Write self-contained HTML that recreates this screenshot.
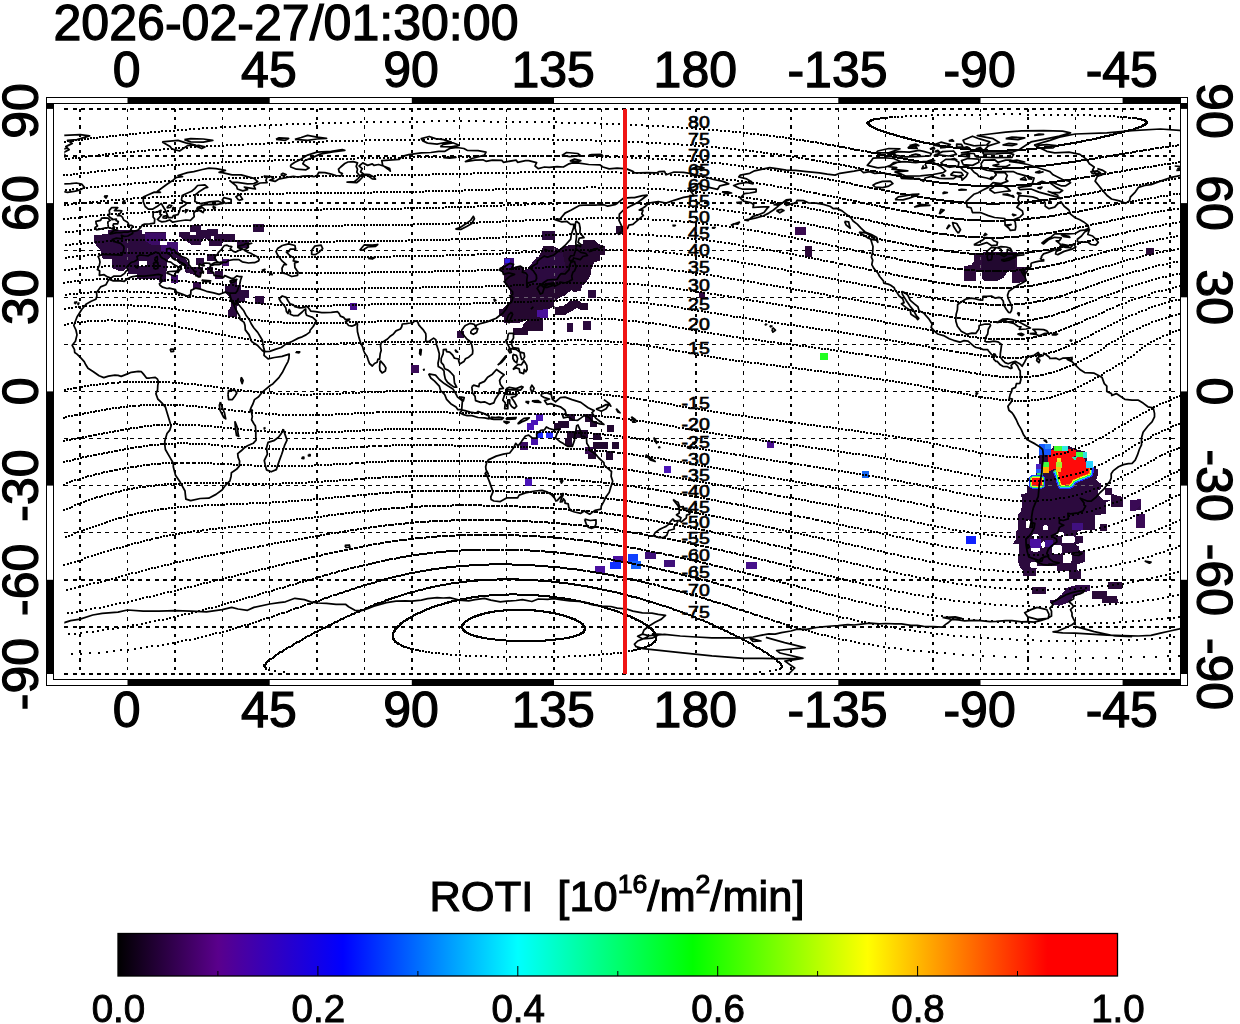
<!DOCTYPE html>
<html><head><meta charset="utf-8"><title>ROTI map 2026-02-27 01:30:00</title>
<style>html,body{margin:0;padding:0;background:#fff;}body{width:1240px;height:1024px;overflow:hidden;font-family:"Liberation Sans",sans-serif;}svg{display:block}</style>
</head><body>
<svg width="1240" height="1024" viewBox="0 0 1240 1024" font-family="Liberation Sans, sans-serif" fill="#000">
<rect x="0" y="0" width="1240" height="1024" fill="#fff"/>
<text x="53.5" y="40.0" font-size="50" text-anchor="start" textLength="465" lengthAdjust="spacingAndGlyphs" stroke="#000" stroke-width="1.25" >2026-02-27/01:30:00</text>
<text x="126.7" y="87.2" font-size="50" text-anchor="middle" stroke="#000" stroke-width="1.25" >0</text>
<text x="126.7" y="727.2" font-size="50" text-anchor="middle" stroke="#000" stroke-width="1.25" >0</text>
<text x="268.9" y="87.2" font-size="50" text-anchor="middle" stroke="#000" stroke-width="1.25" >45</text>
<text x="268.9" y="727.2" font-size="50" text-anchor="middle" stroke="#000" stroke-width="1.25" >45</text>
<text x="411.0" y="87.2" font-size="50" text-anchor="middle" stroke="#000" stroke-width="1.25" >90</text>
<text x="411.0" y="727.2" font-size="50" text-anchor="middle" stroke="#000" stroke-width="1.25" >90</text>
<text x="553.2" y="87.2" font-size="50" text-anchor="middle" stroke="#000" stroke-width="1.25" >135</text>
<text x="553.2" y="727.2" font-size="50" text-anchor="middle" stroke="#000" stroke-width="1.25" >135</text>
<text x="695.3" y="87.2" font-size="50" text-anchor="middle" stroke="#000" stroke-width="1.25" >180</text>
<text x="695.3" y="727.2" font-size="50" text-anchor="middle" stroke="#000" stroke-width="1.25" >180</text>
<text x="837.5" y="87.2" font-size="50" text-anchor="middle" stroke="#000" stroke-width="1.25" >-135</text>
<text x="837.5" y="727.2" font-size="50" text-anchor="middle" stroke="#000" stroke-width="1.25" >-135</text>
<text x="979.6" y="87.2" font-size="50" text-anchor="middle" stroke="#000" stroke-width="1.25" >-90</text>
<text x="979.6" y="727.2" font-size="50" text-anchor="middle" stroke="#000" stroke-width="1.25" >-90</text>
<text x="1121.8" y="87.2" font-size="50" text-anchor="middle" stroke="#000" stroke-width="1.25" >-45</text>
<text x="1121.8" y="727.2" font-size="50" text-anchor="middle" stroke="#000" stroke-width="1.25" >-45</text>
<text transform="translate(37.5,110.9) rotate(-90)" font-size="50" text-anchor="middle" stroke="#000" stroke-width="1.25">90</text>
<text transform="translate(1196.6,110.9) rotate(90)" font-size="50" text-anchor="middle" stroke="#000" stroke-width="1.25">90</text>
<text transform="translate(37.5,203.1) rotate(-90)" font-size="50" text-anchor="middle" stroke="#000" stroke-width="1.25">60</text>
<text transform="translate(1196.6,203.1) rotate(90)" font-size="50" text-anchor="middle" stroke="#000" stroke-width="1.25">60</text>
<text transform="translate(37.5,297.3) rotate(-90)" font-size="50" text-anchor="middle" stroke="#000" stroke-width="1.25">30</text>
<text transform="translate(1196.6,297.3) rotate(90)" font-size="50" text-anchor="middle" stroke="#000" stroke-width="1.25">30</text>
<text transform="translate(37.5,391.4) rotate(-90)" font-size="50" text-anchor="middle" stroke="#000" stroke-width="1.25">0</text>
<text transform="translate(1196.6,391.4) rotate(90)" font-size="50" text-anchor="middle" stroke="#000" stroke-width="1.25">0</text>
<text transform="translate(37.5,485.6) rotate(-90)" font-size="50" text-anchor="middle" stroke="#000" stroke-width="1.25">-30</text>
<text transform="translate(1196.6,485.6) rotate(90)" font-size="50" text-anchor="middle" stroke="#000" stroke-width="1.25">-30</text>
<text transform="translate(37.5,579.8) rotate(-90)" font-size="50" text-anchor="middle" stroke="#000" stroke-width="1.25">-60</text>
<text transform="translate(1196.6,579.8) rotate(90)" font-size="50" text-anchor="middle" stroke="#000" stroke-width="1.25">-60</text>
<text transform="translate(37.5,674.0) rotate(-90)" font-size="50" text-anchor="middle" stroke="#000" stroke-width="1.25">-90</text>
<text transform="translate(1196.6,674.0) rotate(90)" font-size="50" text-anchor="middle" stroke="#000" stroke-width="1.25">-90</text>
<defs><clipPath id="mc"><rect x="53.5" y="103.5" width="1127.0" height="576.0"/></clipPath></defs><g clip-path="url(#mc)">
<g stroke="#000" stroke-width="1.4" fill="none" stroke-dasharray="3.2 5" shape-rendering="crispEdges">
<line x1="80.1" x2="80.1" y1="108.9" y2="674.0"/>
<line x1="127.5" x2="127.5" y1="108.9" y2="674.0"/>
<line x1="174.9" x2="174.9" y1="108.9" y2="674.0"/>
<line x1="222.3" x2="222.3" y1="108.9" y2="674.0"/>
<line x1="269.7" x2="269.7" y1="108.9" y2="674.0"/>
<line x1="317.0" x2="317.0" y1="108.9" y2="674.0"/>
<line x1="364.4" x2="364.4" y1="108.9" y2="674.0"/>
<line x1="411.8" x2="411.8" y1="108.9" y2="674.0"/>
<line x1="459.2" x2="459.2" y1="108.9" y2="674.0"/>
<line x1="506.6" x2="506.6" y1="108.9" y2="674.0"/>
<line x1="554.0" x2="554.0" y1="108.9" y2="674.0"/>
<line x1="601.3" x2="601.3" y1="108.9" y2="674.0"/>
<line x1="648.7" x2="648.7" y1="108.9" y2="674.0"/>
<line x1="696.1" x2="696.1" y1="108.9" y2="674.0"/>
<line x1="743.5" x2="743.5" y1="108.9" y2="674.0"/>
<line x1="790.9" x2="790.9" y1="108.9" y2="674.0"/>
<line x1="838.3" x2="838.3" y1="108.9" y2="674.0"/>
<line x1="885.7" x2="885.7" y1="108.9" y2="674.0"/>
<line x1="933.0" x2="933.0" y1="108.9" y2="674.0"/>
<line x1="980.4" x2="980.4" y1="108.9" y2="674.0"/>
<line x1="1027.8" x2="1027.8" y1="108.9" y2="674.0"/>
<line x1="1075.2" x2="1075.2" y1="108.9" y2="674.0"/>
<line x1="1122.6" x2="1122.6" y1="108.9" y2="674.0"/>
<line x1="1170.0" x2="1170.0" y1="108.9" y2="674.0"/>
</g><g stroke="#000" stroke-width="1.4" fill="none" stroke-dasharray="4 4.2" shape-rendering="crispEdges">
<line x1="64.3" x2="1180.5" y1="674.0" y2="674.0"/>
<line x1="64.3" x2="1180.5" y1="626.9" y2="626.9"/>
<line x1="64.3" x2="1180.5" y1="579.8" y2="579.8"/>
<line x1="64.3" x2="1180.5" y1="532.7" y2="532.7"/>
<line x1="64.3" x2="1180.5" y1="485.6" y2="485.6"/>
<line x1="64.3" x2="1180.5" y1="438.5" y2="438.5"/>
<line x1="64.3" x2="1180.5" y1="391.4" y2="391.4"/>
<line x1="64.3" x2="1180.5" y1="344.4" y2="344.4"/>
<line x1="64.3" x2="1180.5" y1="297.3" y2="297.3"/>
<line x1="64.3" x2="1180.5" y1="250.2" y2="250.2"/>
<line x1="64.3" x2="1180.5" y1="203.1" y2="203.1"/>
<line x1="64.3" x2="1180.5" y1="156.0" y2="156.0"/>
<line x1="64.3" x2="1180.5" y1="108.9" y2="108.9"/>
</g>
<g shape-rendering="crispEdges">
<polygon points="93.7,235.0 107.4,234.2 108.2,230.2 142.1,230.2 142.1,234.2 144.5,234.2 144.5,232.3 165.8,232.3 165.8,241.0 160.2,241.0 160.2,244.7 167.1,244.7 167.1,242.3 177.9,242.3 177.9,251.1 181.6,256.0 186.5,260.0 189.7,265.6 186.5,268.1 183.2,265.6 178.4,263.2 176.8,258.4 170.3,256.8 167.1,261.6 166.3,274.5 166.3,281.8 159.0,281.8 159.0,279.4 136.5,279.4 136.5,273.7 128.4,273.7 126.8,268.1 123.5,271.0 119.5,271.0 111.5,267.7 111.5,259.2 101.8,258.4 101.0,251.1 93.7,242.3" fill="#2b0a3e" />
<rect x="138.9" y="260.8" width="8.1" height="5.6" fill="#fff"/>
<polygon points="144.5,232.6 165.5,232.6 165.5,240.6 160.2,241.0 160.2,244.7 151.0,244.7 144.5,240.6" fill="#3c0c66" />
<polygon points="160.6,244.7 167.1,244.7 167.1,242.3 177.6,242.3 177.6,251.1 170.3,253.5 160.6,250.3" fill="#420f72" />
<polygon points="179.2,231.8 189.7,231.8 189.7,224.5 201.0,224.5 201.0,230.2 207.4,230.2 207.4,229.4 217.9,229.4 217.9,234.2 234.8,234.2 234.8,242.3 221.9,242.3 221.9,245.5 209.0,245.5 209.0,240.6 204.2,238.2 201.0,242.3 201.0,244.7 191.3,244.7 183.2,239.0 179.2,236.6" fill="#2b0a3e" />
<rect x="189.7" y="231.8" width="6.5" height="3.2" fill="#fff"/>
<rect x="210.6" y="235.8" width="3.2" height="4.0" fill="#fff"/>
<rect x="237.3" y="239.8" width="12.1" height="8.1" fill="#2b0a3e"/>
<rect x="196.1" y="257.6" width="8.1" height="7.3" fill="#2b0a3e"/>
<rect x="207.4" y="253.5" width="8.9" height="7.3" fill="#2b0a3e"/>
<rect x="221.9" y="259.2" width="7.3" height="6.5" fill="#45106e"/>
<polygon points="184.8,266.5 202.6,266.5 202.6,272.1 200.2,276.1 192.9,274.5 184.8,272.1" fill="#2b0a3e" />
<rect x="206.6" y="267.3" width="6.5" height="6.5" fill="#2b0a3e"/>
<rect x="214.7" y="271.3" width="8.1" height="7.3" fill="#2b0a3e"/>
<rect x="171.1" y="275.3" width="6.5" height="7.3" fill="#3d0c66"/>
<rect x="192.9" y="281.8" width="8.1" height="7.3" fill="#33094a"/>
<polygon points="230.0,280.2 237.3,280.2 237.3,285.0 241.3,285.0 241.3,289.8 249.4,289.8 249.4,297.9 244.5,297.9 244.5,301.9 239.7,301.9 237.3,306.8 237.3,316.5 228.4,316.5 228.4,310.0 230.8,306.8 230.8,297.9 225.2,292.3 225.2,285.8 230.0,285.8" fill="#2b0a3e" />
<rect x="255.0" y="295.5" width="8.9" height="8.9" fill="#2b0a3e"/>
<rect x="253.4" y="224.2" width="10.5" height="7.6" fill="#2b0a3e"/>
<rect x="350.3" y="303.2" width="6.6" height="6.8" fill="#48108c"/>
<rect x="411" y="365" width="8" height="7.5" fill="#3a0a58"/>
<polygon points="543.2,245.8 552.9,245.8 558.5,249.0 569.0,245.0 577.1,245.0 582.7,244.2 582.7,240.2 594.8,240.2 598.9,244.2 604.5,245.8 604.5,254.7 599.7,255.5 599.7,261.1 594.8,261.9 591.6,268.4 590.8,274.8 586.8,281.3 581.9,286.1 581.1,291.0 573.9,291.8 571.5,290.2 564.2,295.8 559.4,297.4 554.5,302.3 553.7,306.3 548.1,309.5 548.1,316.8 543.2,317.6 543.2,331.3 536.8,331.3 527.9,331.3 527.9,335.3 512.6,335.3 512.6,328.4 522.3,327.7 523.9,323.2 527.9,320.0 517.4,323.2 504.5,323.2 503.7,316.8 498.9,316.0 498.9,309.5 502.9,308.7 509.4,302.3 511.0,295.8 509.4,289.4 504.5,284.5 504.5,279.7 503.7,275.6 499.7,268.4 504.5,264.4 504.5,257.9 514.2,257.9 514.2,266.8 523.9,266.8 523.9,270.0 527.9,268.4 536.8,263.5 538.4,257.1 540.8,252.3" fill="#250830" />
<polygon points="555.3,307.1 564.2,305.5 569.0,301.5 577.1,299.8 581.9,303.1 587.6,303.1 587.6,309.5 580.3,309.5 577.1,307.9 570.6,311.9 564.2,315.2 555.3,315.2" fill="#250830" />
<rect x="542.4" y="231.0" width="12.9" height="9.2" fill="#2b0a3e"/>
<rect x="615.5" y="226.1" width="8.4" height="8.1" fill="#220830"/>
<rect x="588.4" y="290.2" width="7.3" height="8.1" fill="#2b0a3e"/>
<rect x="566.6" y="323.2" width="6.5" height="8.4" fill="#2b0a3e"/>
<rect x="583.2" y="321.3" width="7.6" height="8.4" fill="#2b0a3e"/>
<rect x="457.4" y="331.3" width="6.8" height="6.5" fill="#2b0a3e"/>
<polygon points="504.5,257.9 514.2,257.9 514.2,266.8 507.7,268.4 503.7,266.0" fill="#3c0c78" />
<rect x="504.8" y="259.2" width="4.8" height="4.0" fill="#3020e8"/>
<polygon points="536.8,310.3 547.7,309.0 547.7,317.6 543.2,318.1 536.8,316.8" fill="#48109a" />
<polygon points="536.8,257.1 562.6,252.3 565.8,268.4 552.9,281.3 530.3,284.5 523.9,273.2" fill="#2c0a40" />
<rect x="536.0" y="414.2" width="6.5" height="6.5" fill="#4a14b8"/>
<rect x="531.1" y="419.8" width="7.3" height="4.8" fill="#4a14b8"/>
<rect x="527.4" y="423.1" width="6.9" height="7.3" fill="#4a14b8"/>
<rect x="536.8" y="431.6" width="6.1" height="6.8" fill="#1a28ff"/>
<rect x="546.1" y="431.6" width="6.8" height="6.8" fill="#2a30ff"/>
<rect x="531.1" y="438.4" width="7.3" height="6.5" fill="#4510a8"/>
<rect x="520.2" y="441.9" width="7.7" height="7.7" fill="#3a0a60"/>
<rect x="525.2" y="478.4" width="6.8" height="7.1" fill="#4a14b8"/>
<rect x="664.2" y="466.1" width="6.8" height="6.8" fill="#4a14b8"/>
<rect x="553.7" y="423.1" width="7.3" height="7.3" fill="#220830"/>
<rect x="557.7" y="420.6" width="11.3" height="7.3" fill="#220830"/>
<rect x="569.0" y="414.2" width="5.6" height="6.5" fill="#220830"/>
<rect x="585.2" y="414.2" width="7.3" height="7.3" fill="#220830"/>
<rect x="590.0" y="420.6" width="7.3" height="6.8" fill="#220830"/>
<rect x="607.3" y="425.2" width="6.9" height="6.8" fill="#220830"/>
<rect x="567.4" y="431.1" width="7.3" height="7.3" fill="#220830"/>
<rect x="574.7" y="430.3" width="13.7" height="7.3" fill="#220830"/>
<rect x="565.0" y="438.4" width="7.3" height="7.3" fill="#220830"/>
<rect x="593.2" y="433.2" width="7.3" height="6.8" fill="#220830"/>
<rect x="593.2" y="441.9" width="14.5" height="6.9" fill="#220830"/>
<rect x="612.1" y="441.9" width="6.9" height="7.4" fill="#220830"/>
<rect x="588.4" y="451.3" width="7.3" height="7.3" fill="#220830"/>
<rect x="606.1" y="451.3" width="6.8" height="8.9" fill="#220830"/>
<rect x="585.2" y="447.3" width="7.3" height="6.5" fill="#380a52"/>
<rect x="595.0" y="566.0" width="10.0" height="7.3" fill="#4a10a0"/>
<rect x="613.1" y="555.5" width="10.5" height="6.8" fill="#4a10a0"/>
<rect x="610.2" y="561.6" width="10.5" height="7.3" fill="#1030ff"/>
<rect x="628.4" y="554.2" width="9.4" height="7.7" fill="#1040ff"/>
<rect x="631.3" y="561.1" width="9.7" height="7.6" fill="#1464ff"/>
<rect x="645.0" y="552.3" width="10.8" height="6.5" fill="#40107a"/>
<rect x="664.2" y="560.3" width="11.0" height="6.5" fill="#40107a"/>
<rect x="746.1" y="562.3" width="10.8" height="6.5" fill="#45108a"/>
<polygon points="974.4,252.7 1016.5,251.8 1017.0,267.3 1026.2,267.3 1026.2,282.3 1012.1,282.8 1012.1,270.7 1006.8,270.7 1006.8,272.6 1003.9,277.4 997.1,281.3 984.5,281.3 981.6,277.4 981.6,271.1 976.3,271.1 975.8,281.3 964.2,281.3 963.7,265.8 971.0,265.3 974.4,261.0" fill="#2c0a3a" />
<polygon points="981.6,255.2 1014.5,254.2 1014.5,268.7 1006.8,270.7 1003.9,277.4 997.1,281.1 984.7,281.1 981.8,277.2" fill="#220830" />
<rect x="795.2" y="227.2" width="10.9" height="7.5" fill="#3a0a50"/>
<rect x="805.3" y="246.2" width="6.6" height="10.3" fill="#2c0838"/>
<rect x="820.2" y="353.0" width="7.8" height="6.7" fill="#22ff22"/>
<rect x="767.3" y="441.0" width="6.7" height="6.9" fill="#4a1090"/>
<rect x="862.2" y="470.9" width="6.7" height="6.7" fill="#1464f0"/>
<rect x="966.4" y="535.9" width="9.4" height="8.2" fill="#1020ff"/>
<rect x="1146" y="248.2" width="7.7" height="7" fill="#2a0a38"/>
<rect x="699" y="292" width="6.4" height="6" fill="#30093f"/>
<polygon points="1038.7,453.2 1038.7,444.2 1051.0,444.2 1051.0,449.4 1054.2,445.5 1067.7,445.5 1076.1,449.4 1086.5,451.9 1086.5,461.0 1092.9,461.0 1092.9,468.1 1098.1,468.7 1098.1,474.5 1096.1,479.7 1100.6,483.5 1101.3,488.7 1098.1,490.6 1098.1,494.5 1105.8,502.3 1105.8,513.9 1095.5,515.2 1094.8,530.0 1018.1,530.0 1018.1,513.9 1021.3,511.3 1021.9,502.3 1021.3,494.5 1026.5,493.2 1026.5,486.1 1032.3,485.5 1032.3,478.4 1035.5,477.7 1035.5,464.2 1038.7,463.5" fill="#2c0a3e" />
<polygon points="1023.2,500.0 1023.2,511.6 1018.7,514.2 1018.7,529.7 1015.5,531.0 1015.5,540.0 1012.9,543.9 1019.4,544.5 1018.7,551.6 1018.1,561.9 1020.0,567.1 1023.2,570.3 1023.2,576.1 1036.1,576.1 1036.1,569.7 1037.4,566.5 1056.8,565.8 1056.8,571.0 1069.0,571.0 1069.0,578.7 1081.3,578.7 1081.3,571.0 1076.8,570.3 1077.4,564.5 1084.5,561.9 1084.5,551.6 1078.7,550.3 1078.7,546.5 1073.5,543.9 1082.6,543.2 1082.6,536.1 1076.1,535.5 1076.1,532.3 1082.6,529.7 1083.9,524.5 1094.8,520.6 1095.5,514.2 1105.8,510.3 1105.8,502.6 1111.0,500.0" fill="#2c0a3e" />
<rect x="1025.8" y="519.4" width="3.9" height="9.0" rx="2" fill="#fff"/>
<rect x="1042.6" y="525.2" width="5.8" height="5.2" rx="2" fill="#fff"/>
<rect x="1032.3" y="533.5" width="6.5" height="5.2" rx="2" fill="#fff"/>
<rect x="1055.5" y="532.3" width="9.0" height="3.9" rx="2" fill="#fff"/>
<rect x="1061.9" y="536.1" width="12.9" height="7.1" rx="2" fill="#fff"/>
<rect x="1041.3" y="541.3" width="3.9" height="6.5" rx="2" fill="#fff"/>
<rect x="1031.0" y="547.7" width="9.0" height="3.9" rx="2" fill="#fff"/>
<rect x="1051.6" y="545.2" width="10.3" height="9.0" rx="2" fill="#fff"/>
<rect x="1062.6" y="552.9" width="9.0" height="10.3" rx="2" fill="#fff"/>
<rect x="1030.3" y="561.9" width="7.1" height="6.5" rx="2" fill="#fff"/>
<rect x="1029.7" y="538.7" width="11.6" height="9.0" fill="#4a10a0"/>
<rect x="1045.2" y="540.0" width="7.7" height="6.5" fill="#40108a"/>
<rect x="1072.3" y="523.2" width="10.3" height="7.1" fill="#401080"/>
<rect x="1100.0" y="523.9" width="7.1" height="7.1" fill="#2a0a38"/>
<rect x="1111.0" y="500.0" width="11.6" height="6.5" fill="#2a0a38"/>
<rect x="1032.0" y="587.1" width="13.8" height="6.5" fill="#2a0a38"/>
<rect x="1108.1" y="581.9" width="13.8" height="7.1" fill="#2a0a38"/>
<rect x="1092.3" y="591.0" width="14.2" height="7.7" fill="#2a0a38"/>
<rect x="1136.1" y="513.5" width="8.4" height="14.2" fill="#3a0a55"/>
<rect x="1130.3" y="500.0" width="10.3" height="10.3" fill="#330a4a"/>
<polygon points="1101.9,596.1 1116.8,596.1 1118.7,602.6 1101.9,602.6" fill="#2a0a38" />
<polygon points="1067.1,587.7 1076.1,585.2 1090.3,585.2 1090.3,590.3 1082.6,592.9 1072.3,598.1 1067.1,603.2 1059.4,605.8 1051.6,604.5 1049.0,600.6 1055.5,599.4 1061.9,594.2" fill="#300a48" />
<polygon points="1105.2,488.1 1112.3,488.1 1112.3,493.9 1122.6,497.1 1122.6,507.4 1111.6,506.1 1111.0,494.5 1105.2,494.5" fill="#2c0a3c" />
<polygon points="1130.3,500.3 1140.6,499.0 1140.6,504.8 1135.5,510.6 1130.3,510.6" fill="#3a0a55" />
<rect x="1136.1" y="513.9" width="8.4" height="14.2" fill="#3a0a55"/>
<rect x="1100.0" y="524.2" width="7.1" height="5.8" fill="#2a0a38"/>
<clipPath id="hc"><polygon points="1053.5,471.5 1057.4,468.7 1077.4,465.5 1087.7,466.8 1098.1,467.4 1098.1,491.9 1053.5,491.9"/></clipPath><g clip-path="url(#hc)">
<polygon points="1047.7,450.6 1054.2,449.4 1060.6,451.3 1067.1,448.7 1076.1,449.4 1076.1,455.2 1072.3,457.7 1074.8,460.3 1077.4,456.5 1083.9,457.1 1085.8,462.3 1089.0,467.4 1089.0,473.2 1083.9,475.2 1077.4,477.7 1072.9,479.7 1069.7,484.2 1061.9,484.8 1060.0,479.0 1058.1,471.3 1061.9,467.4 1060.6,462.3 1055.5,462.3 1055.5,468.7 1049.0,471.3 1047.7,462.3" fill="#2030ff" stroke="#2030ff" stroke-width="9" stroke-linejoin="round"/>
<polygon points="1047.7,450.6 1054.2,449.4 1060.6,451.3 1067.1,448.7 1076.1,449.4 1076.1,455.2 1072.3,457.7 1074.8,460.3 1077.4,456.5 1083.9,457.1 1085.8,462.3 1089.0,467.4 1089.0,473.2 1083.9,475.2 1077.4,477.7 1072.9,479.7 1069.7,484.2 1061.9,484.8 1060.0,479.0 1058.1,471.3 1061.9,467.4 1060.6,462.3 1055.5,462.3 1055.5,468.7 1049.0,471.3 1047.7,462.3" fill="#20d0ff" stroke="#20d0ff" stroke-width="6.8" stroke-linejoin="round"/>
<polygon points="1047.7,450.6 1054.2,449.4 1060.6,451.3 1067.1,448.7 1076.1,449.4 1076.1,455.2 1072.3,457.7 1074.8,460.3 1077.4,456.5 1083.9,457.1 1085.8,462.3 1089.0,467.4 1089.0,473.2 1083.9,475.2 1077.4,477.7 1072.9,479.7 1069.7,484.2 1061.9,484.8 1060.0,479.0 1058.1,471.3 1061.9,467.4 1060.6,462.3 1055.5,462.3 1055.5,468.7 1049.0,471.3 1047.7,462.3" fill="#30ff30" stroke="#30ff30" stroke-width="4.8" stroke-linejoin="round"/>
<polygon points="1047.7,450.6 1054.2,449.4 1060.6,451.3 1067.1,448.7 1076.1,449.4 1076.1,455.2 1072.3,457.7 1074.8,460.3 1077.4,456.5 1083.9,457.1 1085.8,462.3 1089.0,467.4 1089.0,473.2 1083.9,475.2 1077.4,477.7 1072.9,479.7 1069.7,484.2 1061.9,484.8 1060.0,479.0 1058.1,471.3 1061.9,467.4 1060.6,462.3 1055.5,462.3 1055.5,468.7 1049.0,471.3 1047.7,462.3" fill="#ffff20" stroke="#ffff20" stroke-width="3" stroke-linejoin="round"/>
<polygon points="1047.7,450.6 1054.2,449.4 1060.6,451.3 1067.1,448.7 1076.1,449.4 1076.1,455.2 1072.3,457.7 1074.8,460.3 1077.4,456.5 1083.9,457.1 1085.8,462.3 1089.0,467.4 1089.0,473.2 1083.9,475.2 1077.4,477.7 1072.9,479.7 1069.7,484.2 1061.9,484.8 1060.0,479.0 1058.1,471.3 1061.9,467.4 1060.6,462.3 1055.5,462.3 1055.5,468.7 1049.0,471.3 1047.7,462.3" fill="#ff8000" stroke="#ff8000" stroke-width="1.4" stroke-linejoin="round"/>
</g>
<polygon points="1047.7,450.6 1054.2,449.4 1060.6,451.3 1067.1,448.7 1076.1,449.4 1076.1,455.2 1072.3,457.7 1074.8,460.3 1077.4,456.5 1083.9,457.1 1085.8,462.3 1089.0,467.4 1089.0,473.2 1083.9,475.2 1077.4,477.7 1072.9,479.7 1069.7,484.2 1061.9,484.8 1060.0,479.0 1058.1,471.3 1061.9,467.4 1060.6,462.3 1055.5,462.3 1055.5,468.7 1049.0,471.3 1047.7,462.3" fill="#ff0a0a"/>
<rect x="1039.4" y="444.2" width="11.6" height="11.0" fill="#1458ff"/>
<rect x="1045.2" y="444.2" width="5.8" height="5.2" fill="#2a86ff"/>
<rect x="1035.5" y="464.2" width="5.8" height="4.5" fill="#4a20c0"/>
<rect x="1036.1" y="468.7" width="6.5" height="4.5" fill="#2060ff"/>
<rect x="1036.8" y="473.2" width="5.8" height="5.2" fill="#30e060"/>
<rect x="1042.6" y="462.3" width="6.5" height="5.2" fill="#40ff40"/>
<rect x="1043.2" y="467.4" width="5.8" height="5.2" fill="#ffb000"/>
<rect x="1054.2" y="445.5" width="7.7" height="5.2" fill="#40ff30"/>
<rect x="1061.9" y="445.5" width="5.8" height="5.2" fill="#30e8e0"/>
<rect x="1076.1" y="451.9" width="6.5" height="5.4" fill="#40ff40"/>
<rect x="1082.6" y="451.9" width="4.1" height="5.8" fill="#30e0e0"/>
<rect x="1085.8" y="461.0" width="7.1" height="6.7" fill="#28d0ff"/>
<rect x="1056.8" y="457.7" width="3.9" height="4.5" fill="#f0f020"/>
<rect x="1055.7" y="462.3" width="5.9" height="5.2" fill="#a0f030"/>
<rect x="1055.7" y="467.4" width="4.9" height="4.5" fill="#ffc010"/>
<polygon points="1071.7,457.4 1075.1,460.7 1077.7,456.2" fill="#30e0a0" />
<polygon points="1032.0,478.4 1041.9,478.4 1041.9,485.5 1032.0,485.5" fill="#2040ff" stroke="#2040ff" stroke-width="6" stroke-linejoin="round"/>
<polygon points="1032.0,478.4 1041.9,478.4 1041.9,485.5 1032.0,485.5" fill="#30ff60" stroke="#30ff60" stroke-width="4" stroke-linejoin="round"/>
<polygon points="1032.0,478.4 1041.9,478.4 1041.9,485.5 1032.0,485.5" fill="#ffe020" stroke="#ffe020" stroke-width="2" stroke-linejoin="round"/>
<polygon points="1032.0,478.4 1041.9,478.4 1041.9,485.5 1032.0,485.5" fill="#ff0a0a"/>
<g stroke="#6a6070" stroke-width="1" fill="none" shape-rendering="crispEdges"><clipPath id="gq0"><rect x="125.5" y="236" width="4" height="34"/></clipPath><line clip-path="url(#gq0)" x1="127.5" x2="127.5" y1="108.9" y2="674.0" stroke-dasharray="3.2 5"/><clipPath id="gq1"><rect x="552.0" y="248" width="4" height="64"/></clipPath><line clip-path="url(#gq1)" x1="554.0" x2="554.0" y1="108.9" y2="674.0" stroke-dasharray="3.2 5"/><clipPath id="gq2"><rect x="511" y="295.3" width="45" height="4"/></clipPath><line clip-path="url(#gq2)" x1="64.3" x2="1180.5" y1="297.3" y2="297.3" stroke-dasharray="4 4.2"/><clipPath id="gq3"><rect x="1032" y="483.6" width="66" height="4"/></clipPath><line clip-path="url(#gq3)" x1="64.3" x2="1180.5" y1="485.6" y2="485.6" stroke-dasharray="4 4.2"/><clipPath id="gq4"><rect x="978.4" y="254" width="4" height="27"/></clipPath><line clip-path="url(#gq4)" x1="980.4" x2="980.4" y1="108.9" y2="674.0" stroke-dasharray="3.2 5"/></g>
</g>
<path fill="none" stroke="#000" stroke-width="2" shape-rendering="crispEdges" d="M0 0m64 325h2m1-1h2m2-1h2m1 0h2m1-1h2m2 0h2m1 0h2m1-1h2m1 0h2m2 0h2m1 0h2m2 0h2m1 0h2m1-1h2m2 0h2m1 1h2m2 0h2m1 0h2m1 0h2m2 0h2m1 0h2m1 0h2m2 1h2m1 0h2m1 0h2m2 1h2m1 0h2m1 1h2m2 0h2m1 0h2m1 1h2m2 0h2m1 1h2m1 0h2m2 1h2m1 1h2m2 0h2m1 1h2m1 0h2m2 1h2m1 1h2m2 0h2m1 1h2m1 0h2m1 1h2m2 1h2m1 0h2m1 1h2m1 0h2m2 1h2m1 1h2m1 0h2m2 1h2m1 0h2m1 1h2m1 0h2m1 1h2m2 0h2m1 1h2m1 0h2m2 1h2m1 0h2m1 0h2m1 1h2m1 0h2m2 0h2m1 0h2m1 0h2m1 1h2m1 0h2m1 0h2m1 0h2m1 0h2m1 0h2m2 0h2m1 0h2m1 0h2m1 0h2m1 0h2m1 0h2m2 0h2m1 0h2m1 0h2m1 0h2m2-1h2m1 0h2m1 0h2m1 0h2m1 0h2m1 0h2m1 0h2m2 0h2m1-1h2m1 0h2m1 0h2m2 0h2m1 0h2m1 0h2m1 0h2m1 0h2m2 0h2m1 0h2m1 0h2m1 0h2m1 0h2m2 0h2m1 0h2m1 0h2m1 0h2m1 0h2m2 0h2m1 0h2m1 0h2m1 0h2m2 0h2m1 0h2m1 0h2m1 0h2m2 0h2m1 0h2m1 0h2m1 0h2m1 0h2m1 0h2m1 0h2m2 0h2m1 0h2m1 0h2m1 0h2m2 0h2m1 0h2m1 0h2m1 0h2m1 0h2m1 0h2m2 0h2m1 0h2m1 0h2m1 0h2m1 0h2m1 0h2m2 0h2m1 0h2m1 0h2m1 0h2m1-1h2m2 0h2m1 0h2m1 0h2m1 0h2m2 0h2m1 0h2m1 0h2m2 0h2m1 0h2m1-1h2m1 0h2m2 0h2m1 0h2m1 0h2m2 0h2m1 1h2m1 0h2m2 0h2m1 0h2m1 0h2m2 0h2m1 0h2m1 1h2m1 0h2m2 0h2m1 0h2m1 1h2m2 0h2m1 1h2m1 0h2m1 0h2m2 1h2m1 0h2m1 1h2m1 0h2m2 1h2m1 0h2m1 1h2m1 0h2m2 1h2m1 1h2m1 0h2m1 1h2m1 0h2m2 1h2m1 0h2m1 1h2m1 0h2m1 1h2m1 1h2m2 0h2m1 1h2m1 0h2m1 1h2m1 0h2m1 1h2m1 0h2m1 1h2m1 0h2m2 1h2m1 0h2m1 1h2m1 0h2m1 0h2m1 1h2m1 0h2m1 1h2m2 0h2m1 0h2m1 1h2m1 0h2m1 1h2m2 0h2m1 0h2m1 1h2m1 0h2m1 1h2m1 0h2m1 0h2m2 1h2m1 0h2m1 1h2m1 0h2m1 0h2m1 1h2m1 0h2m2 1h2m1 0h2m1 0h2m1 1h2m1 0h2m1 1h2m1 0h2m1 0h2m2 1h2m1 0h2m1 1h2m1 0h2m1 0h2m1 1h2m1 0h2m1 1h2m2 0h2m1 1h2m1 0h2m1 1h2m1 0h2m1 0h2m1 1h2m2 0h2m1 1h2m1 0h2m1 1h2m1 0h2m1 1h2m1 0h2m1 1h2m1 0h2m2 1h2m1 0h2m1 1h2m1 1h2m1 0h2m1 1h2m1 0h2m1 1h2m1 0h2m1 1h2m1 0h2m1 1h2m2 1h2m1 0h2m1 1h2m1 0h2m1 1h2m1 0h2m1 1h2m1 1h2m1 0h2m1 1h2m1 0h2m1 1h2m1 0h2m1 0h2m1 1h2m1 0h2m1 1h2m1 0h2m1 0h2m1 0h2m1 1h2m1 0h2m1 0h2m1 0h2m1 0h2m0 0h2m1 0h2m1-1h2m1 0h2m1 0h2m1-1h2m1 0h2m1-1h2m1 0h2m0-1h2m1-1h2m1-1h2m1-1h2m1-1h2m1-1h2m1-1h2m1-1h2m0-1h2m1-2h2m1-1h2m1-2h2m1-1h2m1-2h2m1-1h2m0-2h2m1-1h2m2-2h2m0-2h2m1-2h2m1-1h2m1-2h2m1-2h2m1-2h2m1-1h2m1-2h2m1-3h2m1-1h2m1-2h2m1-3h2m1-2h2m0-2h2m1-2h2m1-2h2m1-2h2m1-1h2m1-2h2m1-1h2m1-2h2m2-1h2m1-1h2m1-2h2m1-1h2m1-1h2m-1116-21h2m2-1h2m1 0h2m2-1h2m1 0h2m2-1h2m1 0h2m2 0h2m1 0h2m2-1h2m1 0h2m2 0h2m1 0h2m1 0h2m2 0h2m1 0h2m2 0h2m1 0h2m2 0h2m1 0h2m1 1h2m2 0h2m1 0h2m2 0h2m1 0h2m2 1h2m1 0h2m2 0h2m1 1h2m1 0h2m2 0h2m1 1h2m2 0h2m1 1h2m2 0h2m1 1h2m1 0h2m2 0h2m1 1h2m2 0h2m1 1h2m1 0h2m2 1h2m1 0h2m1 1h2m2 0h2m1 1h2m1 0h2m1 1h2m2 0h2m1 1h2m1 0h2m1 1h2m1 0h2m2 0h2m1 1h2m1 0h2m2 0h2m1 1h2m1 0h2m1 0h2m1 1h2m1 0h2m2 0h2m1 0h2m1 1h2m1 0h2m1 0h2m1 0h2m1 0h2m1 0h2m2 0h2m1 0h2m1 0h2m1 0h2m1 0h2m1 0h2m1 0h2m1 0h2m1 0h2m2 0h2m1 0h2m1 0h2m1 0h2m1 0h2m1 0h2m2-1h2m1 0h2m1 0h2m1 0h2m1 0h2m1 0h2m2 0h2m1 0h2m1 0h2m1-1h2m1 0h2m2 0h2m1 0h2m1 0h2m1 0h2m2 0h2m1 0h2m1 0h2m1 0h2m2 0h2m1 0h2m1 0h2m1 0h2m2 0h2m1 0h2m1 0h2m1 0h2m1 0h2m1 0h2m1 0h2m2 0h2m1 0h2m1 0h2m1 0h2m2 0h2m1 0h2m1 0h2m1 0h2m1 0h2m1 0h2m2 0h2m1 0h2m1 0h2m1 0h2m1 0h2m1 0h2m2 0h2m1 0h2m1 0h2m1 0h2m1 0h2m1 0h2m1-1h2m2 0h2m1 0h2m1 0h2m1 0h2m2 0h2m1 0h2m1 0h2m1-1h2m2 0h2m1 0h2m1 0h2m1 0h2m2 0h2m1 0h2m1 0h2m2 0h2m1-1h2m2 0h2m1 0h2m1 0h2m2 0h2m1 0h2m2 0h2m1 1h2m1 0h2m2 0h2m1 0h2m2 0h2m1 0h2m1 0h2m2 1h2m1 0h2m2 0h2m1 1h2m2 0h2m1 0h2m1 1h2m2 0h2m1 1h2m2 0h2m1 0h2m1 1h2m2 0h2m1 1h2m1 0h2m2 1h2m1 1h2m1 0h2m1 1h2m2 0h2m1 1h2m1 0h2m1 1h2m1 0h2m2 1h2m1 1h2m1 0h2m1 1h2m1 0h2m1 1h2m2 0h2m1 1h2m1 0h2m1 1h2m1 0h2m1 1h2m2 0h2m1 1h2m1 0h2m1 1h2m1 0h2m2 0h2m1 1h2m1 0h2m1 1h2m1 0h2m1 1h2m1 0h2m1 0h2m2 1h2m1 0h2m1 1h2m1 0h2m1 0h2m1 1h2m2 0h2m1 1h2m1 0h2m1 0h2m1 1h2m1 0h2m1 1h2m2 0h2m1 1h2m1 0h2m1 0h2m1 1h2m1 0h2m1 1h2m2 0h2m1 1h2m1 0h2m1 1h2m1 0h2m1 1h2m1 0h2m1 0h2m2 1h2m0 0h2m1 1h2m2 0h2m1 1h2m1 0h2m1 1h2m1 0h2m1 1h2m1 0h2m1 1h2m1 0h2m1 1h2m1 0h2m2 1h2m1 0h2m1 1h2m1 0h2m1 1h2m1 0h2m1 1h2m1 0h2m1 1h2m1 1h2m1 0h2m1 1h2m1 0h2m1 1h2m1 0h2m1 1h2m1 0h2m1 1h2m1 0h2m1 1h2m1 0h2m0 1h2m2 0h2m0 1h2m1 0h2m1 1h2m1 0h2m1 0h2m1 1h2m1 0h2m0 0h2m1 1h2m1 0h2m1 0h2m0 0h2m1 0h2m1 0h2m1 0h2m1 0h2m0 0h2m1 0h2m0 0h2m1 0h2m1-1h2m1 0h2m0 0h2m1-1h2m0 0h2m1-1h2m1-1h2m0 0h2m1-1h2m1-1h2m1-1h2m0-1h2m1-1h2m0-1h2m1-1h2m1-1h2m1-1h2m0-2h2m1-1h2m1-2h2m1-1h2m1-2h2m0-1h2m1-2h2m1-1h2m1-2h2m1-2h2m0-2h2m1-2h2m1-2h2m1-1h2m1-2h2m1-2h2m1-1h2m1-2h2m1-2h2m1-1h2m2-2h2m1-1h2m1-2h2m1-1h2m1-1h2m1-2h2m2-1h2m1-1h2m1-1h2m2-1h2m1-1h2m1-1h2m2-1h2m1-1h2m-1115-19h2m2-1h2m2 0h2m1 0h2m2-1h2m1 0h2m2 0h2m1-1h2m2 0h2m2 0h2m1 0h2m1 0h2m2-1h2m2 0h2m1 0h2m2 0h2m1 0h2m2 0h2m1 1h2m2 0h2m1 0h2m2 0h2m1 0h2m2 0h2m1 1h2m2 0h2m1 0h2m2 0h2m1 1h2m2 0h2m1 0h2m2 0h2m1 1h2m1 0h2m2 1h2m2 0h2m1 0h2m1 1h2m2 0h2m1 0h2m2 1h2m1 0h2m1 1h2m2 0h2m1 0h2m1 1h2m1 0h2m2 1h2m1 0h2m1 0h2m2 1h2m1 0h2m1 0h2m1 1h2m1 0h2m2 0h2m1 0h2m1 1h2m1 0h2m1 0h2m1 0h2m2 1h2m1 0h2m1 0h2m1 0h2m1 0h2m1 0h2m1 0h2m1 1h2m1 0h2m2 0h2m1 0h2m1 0h2m1 0h2m1 0h2m1 0h2m1 0h2m1 0h2m2 0h2m1 0h2m1-1h2m1 0h2m1 0h2m1 0h2m1 0h2m1 0h2m2 0h2m1 0h2m1 0h2m1 0h2m1 0h2m2 0h2m1-1h2m1 0h2m1 0h2m1 0h2m1 0h2m2 0h2m1 0h2m1 0h2m1 0h2m2 0h2m1 0h2m1 0h2m1 0h2m2 0h2m1 0h2m1 0h2m1 0h2m1 0h2m1 0h2m1 0h2m2 0h2m1 0h2m1 0h2m1 0h2m2 0h2m1 0h2m1 0h2m1 0h2m1 0h2m1 0h2m1 0h2m1 0h2m2-1h2m1 0h2m1 0h2m1 0h2m1 0h2m1 0h2m2 0h2m1 0h2m1 0h2m1 0h2m1 0h2m1 0h2m1-1h2m2 0h2m1 0h2m1 0h2m1 0h2m2 0h2m1 0h2m1-1h2m1 0h2m2 0h2m1 0h2m1 0h2m2 0h2m1 0h2m1 0h2m1-1h2m2 0h2m1 0h2m2 0h2m1 0h2m1 0h2m2 0h2m1 0h2m2 0h2m1 0h2m2 0h2m1 0h2m2 0h2m1 0h2m2 0h2m2 0h2m1 1h2m1 0h2m2 0h2m1 0h2m2 1h2m2 0h2m1 0h2m2 1h2m1 0h2m1 0h2m2 1h2m1 0h2m2 1h2m1 0h2m2 0h2m1 1h2m2 0h2m1 1h2m1 0h2m2 1h2m1 1h2m1 0h2m2 1h2m1 0h2m1 1h2m2 0h2m1 1h2m1 0h2m1 1h2m2 0h2m1 1h2m1 0h2m1 1h2m1 0h2m2 1h2m1 1h2m1 0h2m1 0h2m1 1h2m1 0h2m2 1h2m1 0h2m1 1h2m1 0h2m1 1h2m2 0h2m1 1h2m1 0h2m1 1h2m1 0h2m2 1h2m1 0h2m1 1h2m1 0h2m1 0h2m1 1h2m1 0h2m1 1h2m2 0h2m1 1h2m1 0h2m1 1h2m1 0h2m1 1h2m2 0h2m1 0h2m1 1h2m1 0h2m1 1h2m1 0h2m1 1h2m1 0h2m1 1h2m1 0h2m2 1h2m1 0h2m1 1h2m1 0h2m1 1h2m1 0h2m1 1h2m1 0h2m1 1h2m1 0h2m1 1h2m1 0h2m1 1h2m1 0h2m1 1h2m1 0h2m1 1h2m1 0h2m1 1h2m1 0h2m1 1h2m1 0h2m1 1h2m1 0h2m1 1h2m1 1h2m1 0h2m1 1h2m1 0h2m1 1h2m1 0h2m1 1h2m0 0h2m2 1h2m0 0h2m1 1h2m1 0h2m1 0h2m1 1h2m0 0h2m1 1h2m1 0h2m1 0h2m1 1h2m0 0h2m1 0h2m1 1h2m0 0h2m1 0h2m1 0h2m1 0h2m0 1h2m1 0h2m0 0h2m1 0h2m1 0h2m0 0h2m1 0h2m0-1h2m1 0h2m0 0h2m1 0h2m0-1h2m1 0h2m0-1h2m1 0h2m1-1h2m0 0h2m1-1h2m0-1h2m1 0h2m0-1h2m1-1h2m0-1h2m1-1h2m0-1h2m1-1h2m1-2h2m1-1h2m0-1h2m1-1h2m0-2h2m1-1h2m1-1h2m1-2h2m0-1h2m1-2h2m1-1h2m1-2h2m1-1h2m1-2h2m1-1h2m1-2h2m1-1h2m1-2h2m1-1h2m1-1h2m1-2h2m1-1h2m2-1h2m1-2h2m1-1h2m2-1h2m1-2h2m1-1h2m1-1h2m2-1h2m1-1h2m1-1h2m2-1h2m1-1h2m2-1h2m1 0h2m-1117-17h2m2-1h2m1 0h2m2-1h2m1 0h2m2-1h2m2 0h2m1 0h2m2 0h2m2-1h2m1 0h2m2 0h2m1 0h2m2 0h2m2 0h2m1 0h2m2 0h2m2 0h2m1 0h2m2 0h2m1 0h2m2 0h2m2 0h2m1 0h2m2 0h2m1 0h2m2 0h2m1 1h2m2 0h2m1 0h2m2 0h2m1 1h2m2 0h2m1 0h2m2 0h2m1 1h2m2 0h2m1 0h2m2 1h2m1 0h2m1 0h2m2 0h2m1 1h2m2 0h2m1 0h2m1 1h2m1 0h2m1 0h2m2 0h2m1 1h2m1 0h2m2 0h2m1 1h2m1 0h2m1 0h2m2 0h2m1 0h2m1 1h2m1 0h2m1 0h2m1 0h2m1 0h2m2 1h2m1 0h2m1 0h2m1 0h2m1 0h2m1 0h2m1 0h2m1 0h2m2 0h2m1 0h2m1 0h2m1 0h2m1 0h2m1 0h2m1 0h2m1 0h2m2 0h2m1 0h2m1 0h2m1 0h2m1 0h2m1 0h2m2 0h2m1 0h2m1 0h2m1 0h2m1 0h2m1-1h2m1 0h2m2 0h2m1 0h2m1 0h2m1 0h2m1 0h2m1 0h2m2 0h2m1 0h2m1 0h2m1 0h2m2 0h2m1 0h2m1 0h2m1 0h2m1 0h2m1 0h2m2 0h2m1-1h2m1 0h2m1 0h2m1 0h2m1 0h2m1 0h2m2 0h2m1 0h2m1 0h2m1 0h2m1 0h2m1 0h2m1 0h2m1 0h2m2 0h2m1 0h2m1 0h2m1 0h2m1 0h2m1 0h2m2-1h2m1 0h2m1 0h2m1 0h2m1 0h2m1 0h2m1 0h2m1 0h2m2 0h2m1-1h2m1 0h2m1 0h2m1 0h2m2 0h2m1 0h2m1-1h2m2 0h2m1 0h2m1 0h2m1 0h2m2 0h2m1 0h2m2-1h2m1 0h2m1 0h2m2 0h2m1 0h2m2 0h2m1 0h2m2 0h2m1 0h2m2 0h2m1 0h2m2 0h2m1 0h2m2 0h2m2 0h2m1 0h2m2 0h2m1 0h2m2 0h2m1 0h2m2 1h2m1 0h2m2 0h2m2 0h2m2 1h2m1 0h2m1 0h2m2 1h2m2 0h2m1 0h2m2 1h2m1 0h2m2 1h2m1 0h2m2 1h2m1 0h2m2 1h2m1 0h2m2 1h2m1 0h2m2 1h2m1 0h2m1 1h2m2 0h2m1 1h2m2 0h2m1 1h2m1 0h2m1 1h2m2 0h2m1 1h2m1 0h2m2 1h2m1 1h2m1 0h2m1 1h2m1 0h2m1 1h2m2 0h2m1 1h2m1 0h2m2 1h2m1 0h2m1 1h2m1 0h2m1 1h2m1 0h2m2 1h2m1 0h2m1 1h2m1 0h2m1 1h2m1 0h2m1 1h2m1 0h2m2 1h2m1 0h2m1 1h2m1 0h2m1 1h2m1 0h2m1 1h2m1 0h2m2 1h2m1 0h2m1 1h2m1 0h2m1 1h2m1 0h2m1 1h2m1 0h2m1 1h2m1 0h2m1 1h2m1 0h2m1 1h2m1 0h2m1 1h2m1 0h2m1 1h2m1 1h2m1 0h2m1 1h2m1 0h2m1 1h2m1 0h2m1 1h2m1 0h2m1 1h2m1 0h2m1 1h2m1 0h2m1 1h2m1 0h2m0 1h2m1 0h2m1 1h2m1 0h2m1 1h2m1 0h2m0 1h2m1 0h2m1 1h2m1 0h2m1 1h2m0 0h2m1 0h2m1 1h2m1 0h2m0 1h2m1 0h2m1 0h2m0 1h2m1 0h2m1 0h2m0 0h2m1 1h2m0 0h2m1 0h2m1 0h2m0 0h2m1 0h2m0 0h2m1 0h2m0 0h2m1 0h2m1 0h2m0 0h2m0 0h2m1 0h2m0 0h2m1-1h2m0 0h2m1 0h2m0-1h2m0 0h2m1-1h2m0 0h2m1-1h2m0 0h2m1-1h2m0-1h2m1 0h2m0-1h2m1-1h2m0-1h2m1-1h2m0-1h2m1-1h2m0-1h2m1-1h2m1-1h2m0-1h2m1-1h2m1-2h2m0-1h2m1-1h2m1-1h2m1-1h2m1-2h2m1-1h2m0-1h2m1-2h2m1-1h2m1-1h2m2-2h2m0-1h2m1-1h2m2-1h2m1-2h2m1-1h2m1-1h2m2-1h2m1-1h2m1-1h2m2-1h2m1-2h2m1-1h2m2-1h2m1 0h2m2-1h2m1-1h2m2-1h2m1-1h2m2-1h2m-1117-16h2m2 0h2m1-1h2m2 0h2m2-1h2m1 0h2m2 0h2m2-1h2m1 0h2m2 0h2m2 0h2m1-1h2m2 0h2m2 0h2m2 0h2m1 0h2m2 0h2m2 0h2m1 0h2m2 0h2m1 0h2m2 0h2m2 0h2m1 0h2m2 0h2m1 0h2m2 0h2m2 1h2m1 0h2m2 0h2m1 0h2m2 0h2m1 0h2m2 1h2m1 0h2m2 0h2m1 0h2m2 0h2m1 1h2m2 0h2m1 0h2m1 0h2m2 0h2m1 1h2m1 0h2m2 0h2m1 0h2m1 0h2m2 1h2m1 0h2m1 0h2m1 0h2m2 0h2m1 1h2m1 0h2m2 0h2m1 0h2m1 0h2m1 0h2m1 0h2m1 1h2m2 0h2m1 0h2m1 0h2m1 0h2m1 0h2m1 0h2m1 0h2m2 0h2m0 0h2m2 0h2m1 0h2m1 0h2m1 0h2m1 0h2m1 0h2m2 0h2m1 0h2m1 0h2m1 0h2m1 0h2m1 0h2m1 0h2m1 0h2m2 0h2m1 0h2m1 0h2m1 0h2m1 0h2m1 0h2m2 0h2m1-1h2m1 0h2m1 0h2m1 0h2m1 0h2m1 0h2m2 0h2m1 0h2m1 0h2m1 0h2m1 0h2m1 0h2m2 0h2m1 0h2m1 0h2m1 0h2m1 0h2m1 0h2m2 0h2m1 0h2m1-1h2m1 0h2m1 0h2m1 0h2m1 0h2m1 0h2m1 0h2m2 0h2m0 0h2m2 0h2m1 0h2m1 0h2m1 0h2m1 0h2m1-1h2m2 0h2m1 0h2m1 0h2m1 0h2m1 0h2m1 0h2m1 0h2m1-1h2m2 0h2m1 0h2m1 0h2m1 0h2m1 0h2m2 0h2m1-1h2m1 0h2m1 0h2m2 0h2m1 0h2m2 0h2m1-1h2m1 0h2m2 0h2m1 0h2m2 0h2m1 0h2m2 0h2m1-1h2m1 0h2m2 0h2m1 0h2m2 0h2m1 0h2m2 0h2m2 0h2m1 0h2m2 0h2m1 0h2m2 0h2m2 0h2m1 0h2m2 0h2m2 1h2m2 0h2m1 0h2m2 0h2m2 0h2m1 1h2m2 0h2m2 0h2m1 0h2m2 1h2m2 0h2m1 0h2m2 1h2m2 0h2m1 1h2m2 0h2m2 0h2m1 1h2m1 0h2m2 1h2m2 0h2m1 1h2m2 0h2m1 1h2m2 0h2m1 1h2m2 0h2m1 1h2m1 1h2m2 0h2m1 1h2m1 0h2m2 1h2m1 0h2m1 1h2m2 0h2m1 1h2m1 0h2m2 1h2m1 1h2m1 0h2m1 1h2m2 0h2m1 1h2m1 0h2m1 1h2m1 0h2m2 1h2m1 0h2m1 1h2m1 1h2m1 0h2m1 1h2m1 0h2m2 1h2m1 0h2m1 1h2m1 0h2m1 1h2m1 0h2m1 1h2m1 1h2m1 0h2m2 1h2m1 0h2m1 1h2m1 0h2m1 1h2m1 0h2m1 1h2m1 0h2m1 1h2m1 1h2m1 0h2m1 1h2m1 0h2m1 1h2m1 0h2m1 1h2m0 0h2m2 1h2m0 0h2m1 1h2m1 0h2m1 1h2m1 1h2m1 0h2m1 1h2m1 0h2m0 1h2m1 0h2m1 1h2m1 0h2m1 1h2m1 0h2m0 1h2m1 0h2m1 1h2m1 0h2m0 0h2m1 1h2m1 0h2m1 1h2m0 0h2m1 1h2m1 0h2m0 0h2m1 1h2m0 0h2m1 0h2m1 1h2m0 0h2m1 0h2m1 1h2m0 0h2m1 0h2m0 0h2m1 0h2m0 1h2m1 0h2m0 0h2m1 0h2m0 0h2m1 0h2m0 0h2m1 0h2m0 0h2m0 0h2m1 0h2m0-1h2m1 0h2m0 0h2m0 0h2m1-1h2m0 0h2m1 0h2m0-1h2m0 0h2m1-1h2m0 0h2m1-1h2m0 0h2m0-1h2m1 0h2m0-1h2m1-1h2m0-1h2m1-1h2m0 0h2m1-1h2m0-1h2m1-1h2m0-1h2m1-1h2m0-1h2m1-1h2m1-1h2m0-1h2m1-1h2m1-1h2m1-1h2m1-2h2m1-1h2m1-1h2m1-1h2m1-1h2m1-1h2m1-1h2m0-1h2m2-2h2m1-1h2m1-1h2m1-1h2m2-1h2m1-1h2m1-1h2m2-1h2m1-1h2m1-1h2m2-1h2m1-1h2m2-1h2m1 0h2m2-1h2m1-1h2m2-1h2m1 0h2m-1116-16h2m1-1h2m2 0h2m2-1h2m1 0h2m2 0h2m2-1h2m2 0h2m1 0h2m2-1h2m2 0h2m1 0h2m2 0h2m2 0h2m2 0h2m1-1h2m2 0h2m2 0h2m1 0h2m2 0h2m2 0h2m1 0h2m2 0h2m2 0h2m1 0h2m2 0h2m2 0h2m1 0h2m2 0h2m1 0h2m2 0h2m2 1h2m1 0h2m2 0h2m1 0h2m2 0h2m1 0h2m2 0h2m1 0h2m2 1h2m1 0h2m1 0h2m2 0h2m1 0h2m2 0h2m1 0h2m1 1h2m2 0h2m1 0h2m1 0h2m1 0h2m2 0h2m1 0h2m1 0h2m2 1h2m1 0h2m1 0h2m1 0h2m2 0h2m1 0h2m1 0h2m1 0h2m1 0h2m1 0h2m2 0h2m1 0h2m1 0h2m1 0h2m1 0h2m1 0h2m2 0h2m1 0h2m1 0h2m1 0h2m1 0h2m1 0h2m2 0h2m1 0h2m1 0h2m1 0h2m1 0h2m1 0h2m1 0h2m2 0h2m1 0h2m1 0h2m1 0h2m1 0h2m1 0h2m1 0h2m1 0h2m2 0h2m1 0h2m1 0h2m1 0h2m1 0h2m1 0h2m2-1h2m1 0h2m1 0h2m1 0h2m1 0h2m1 0h2m1 0h2m1 0h2m2 0h2m1 0h2m1 0h2m1 0h2m1 0h2m1 0h2m1 0h2m1 0h2m1 0h2m2-1h2m1 0h2m1 0h2m1 0h2m1 0h2m1 0h2m1 0h2m1 0h2m2 0h2m0 0h2m2-1h2m1 0h2m1 0h2m1 0h2m1 0h2m1 0h2m2 0h2m1 0h2m1-1h2m1 0h2m1 0h2m2 0h2m1 0h2m1 0h2m1-1h2m2 0h2m1 0h2m1 0h2m2 0h2m1 0h2m1-1h2m2 0h2m1 0h2m1 0h2m2 0h2m1 0h2m2 0h2m1-1h2m2 0h2m1 0h2m2 0h2m2 0h2m1 0h2m2 0h2m1 0h2m2 0h2m2 0h2m1 0h2m2 0h2m2 0h2m1 0h2m2 0h2m2 0h2m2 0h2m2 0h2m1 0h2m2 1h2m2 0h2m2 0h2m1 0h2m2 0h2m2 1h2m2 0h2m2 0h2m1 1h2m2 0h2m2 0h2m1 1h2m2 0h2m2 1h2m1 0h2m2 0h2m2 1h2m1 0h2m2 1h2m2 0h2m1 1h2m2 0h2m2 1h2m1 0h2m1 1h2m2 0h2m2 1h2m1 0h2m1 1h2m2 1h2m1 0h2m2 1h2m1 0h2m1 1h2m2 0h2m1 1h2m1 1h2m2 0h2m1 1h2m1 0h2m1 1h2m2 0h2m1 1h2m1 1h2m1 0h2m1 1h2m2 0h2m1 1h2m1 1h2m1 0h2m1 1h2m1 0h2m2 1h2m1 1h2m1 0h2m1 1h2m1 0h2m1 1h2m1 0h2m1 1h2m1 1h2m1 0h2m1 1h2m1 0h2m1 1h2m1 0h2m1 1h2m1 1h2m1 0h2m1 1h2m1 0h2m1 1h2m0 0h2m1 1h2m1 1h2m1 0h2m1 1h2m1 0h2m0 1h2m1 0h2m1 1h2m1 0h2m1 1h2m0 0h2m1 1h2m1 0h2m1 1h2m1 0h2m0 1h2m1 0h2m1 1h2m1 0h2m0 1h2m1 0h2m1 1h2m0 0h2m1 0h2m0 1h2m1 0h2m1 1h2m0 0h2m1 0h2m0 1h2m1 0h2m1 0h2m0 1h2m1 0h2m0 0h2m1 0h2m0 1h2m1 0h2m0 0h2m0 0h2m1 0h2m0 1h2m1 0h2m0 0h2m1 0h2m0 0h2m0 0h2m1 0h2m0 0h2m1 0h2m0 0h2m0 0h2m1-1h2m0 0h2m0 0h2m1 0h2m0 0h2m0-1h2m1 0h2m0 0h2m1-1h2m0 0h2m0-1h2m0 0h2m1 0h2m0-1h2m0-1h2m1 0h2m0-1h2m1 0h2m0-1h2m1-1h2m0 0h2m1-1h2m0-1h2m1-1h2m0-1h2m1 0h2m0-1h2m1-1h2m1-1h2m1-1h2m0-1h2m1-1h2m1-1h2m1-1h2m0-1h2m1-1h2m1-1h2m1-1h2m1-1h2m1-1h2m1-1h2m1-1h2m1-1h2m2-1h2m1-1h2m1-1h2m1-1h2m1 0h2m2-1h2m1-1h2m1-1h2m2-1h2m1-1h2m1-1h2m2 0h2m2-1h2m1-1h2m2-1h2m1 0h2m2-1h2m-1117-16h2m2 0h2m1-1h2m2 0h2m2 0h2m1-1h2m2 0h2m2 0h2m2-1h2m1 0h2m2 0h2m2-1h2m2 0h2m1 0h2m2 0h2m2 0h2m2-1h2m1 0h2m2 0h2m2 0h2m2 0h2m1 0h2m2 0h2m2 0h2m1 0h2m2 0h2m1 0h2m2 0h2m2 0h2m1 0h2m2 0h2m2 0h2m1 0h2m2 0h2m1 0h2m2 0h2m1 0h2m2 0h2m1 0h2m2 0h2m1 0h2m2 0h2m1 0h2m2 0h2m1 1h2m1 0h2m2 0h2m1 0h2m1 0h2m2 0h2m1 0h2m2 0h2m1 0h2m1 0h2m2 0h2m1 0h2m1 0h2m1 0h2m2 0h2m1 0h2m1 0h2m1 0h2m2 0h2m1 1h2m1 0h2m1 0h2m2 0h2m1 0h2m1 0h2m1 0h2m1 0h2m1 0h2m1 0h2m2 0h2m1 0h2m1 0h2m1 0h2m2 0h2m1-1h2m1 0h2m1 0h2m1 0h2m1 0h2m1 0h2m1 0h2m2 0h2m1 0h2m1 0h2m1 0h2m1 0h2m1 0h2m2 0h2m1 0h2m1 0h2m1 0h2m1 0h2m1 0h2m1 0h2m1 0h2m1 0h2m2 0h2m1-1h2m1 0h2m1 0h2m1 0h2m1 0h2m1 0h2m1 0h2m2 0h2m1 0h2m1 0h2m1 0h2m1 0h2m1 0h2m1 0h2m1-1h2m2 0h2m0 0h2m2 0h2m1 0h2m1 0h2m1 0h2m1 0h2m1 0h2m1-1h2m2 0h2m1 0h2m1 0h2m1 0h2m1 0h2m1 0h2m2-1h2m1 0h2m1 0h2m1 0h2m2 0h2m1 0h2m1-1h2m2 0h2m1 0h2m1 0h2m2 0h2m1 0h2m1 0h2m2-1h2m1 0h2m2 0h2m1 0h2m2 0h2m1 0h2m2 0h2m1-1h2m2 0h2m2 0h2m1 0h2m2 0h2m2 0h2m1 0h2m2 0h2m2 0h2m2 0h2m1 0h2m2 0h2m2 0h2m2 0h2m2 0h2m1 0h2m2 0h2m2 0h2m2 1h2m2 0h2m2 0h2m1 0h2m2 0h2m2 1h2m2 0h2m2 0h2m2 0h2m1 1h2m3 0h2m1 0h2m2 1h2m2 0h2m2 1h2m1 0h2m2 0h2m2 1h2m2 0h2m1 1h2m2 0h2m2 1h2m1 0h2m2 1h2m2 0h2m1 1h2m1 0h2m2 1h2m2 1h2m1 0h2m2 1h2m1 0h2m2 1h2m1 0h2m1 1h2m2 1h2m1 0h2m2 1h2m1 0h2m1 1h2m1 1h2m2 0h2m1 1h2m1 0h2m1 1h2m2 1h2m1 0h2m1 1h2m1 1h2m1 0h2m1 1h2m1 0h2m1 1h2m1 1h2m1 0h2m2 1h2m0 0h2m1 1h2m2 1h2m0 0h2m1 1h2m2 0h2m0 1h2m1 1h2m1 0h2m1 1h2m1 0h2m1 1h2m1 1h2m0 0h2m2 1h2m0 0h2m1 1h2m1 0h2m1 1h2m1 0h2m0 1h2m1 1h2m1 0h2m0 1h2m1 0h2m1 1h2m0 0h2m1 1h2m1 0h2m1 1h2m0 0h2m1 1h2m1 0h2m0 0h2m1 1h2m0 0h2m1 1h2m0 0h2m1 1h2m1 0h2m0 0h2m1 1h2m0 0h2m1 0h2m0 1h2m1 0h2m0 0h2m1 1h2m0 0h2m0 0h2m1 0h2m0 1h2m1 0h2m0 0h2m1 0h2m0 0h2m0 1h2m1 0h2m0 0h2m0 0h2m1 0h2m0 0h2m0 0h2m1 0h2m0 0h2m0 0h2m1 0h2m0 0h2m0 0h2m1-1h2m0 0h2m0 0h2m1 0h2m0 0h2m0-1h2m1 0h2m0 0h2m0 0h2m0-1h2m1 0h2m0-1h2m0 0h2m1-1h2m0 0h2m0-1h2m1 0h2m0-1h2m1 0h2m0-1h2m0 0h2m1-1h2m1-1h2m0 0h2m0-1h2m1-1h2m1-1h2m0 0h2m1-1h2m1-1h2m0-1h2m1-1h2m1 0h2m0-1h2m1-1h2m1-1h2m1-1h2m1-1h2m1 0h2m1-1h2m1-1h2m1-1h2m1-1h2m1-1h2m1-1h2m1-1h2m1 0h2m2-1h2m1-1h2m1-1h2m1-1h2m2 0h2m1-1h2m2-1h2m1-1h2m1 0h2m2-1h2m2-1h2m1 0h2m2-1h2m1-1h2m-1117-16h2m1 0h2m2 0h2m2-1h2m1 0h2m2-1h2m2 0h2m1 0h2m2-1h2m2 0h2m2 0h2m1-1h2m2 0h2m2 0h2m1 0h2m2-1h2m2 0h2m2 0h2m2 0h2m1 0h2m2 0h2m2-1h2m1 0h2m2 0h2m2 0h2m1 0h2m2 0h2m2 0h2m2 0h2m1 0h2m2 0h2m2 0h2m1 0h2m2 0h2m1 0h2m2-1h2m1 0h2m2 0h2m2 0h2m1 0h2m2 0h2m1 0h2m1 0h2m2 0h2m1 0h2m2 0h2m1 1h2m2 0h2m1 0h2m2 0h2m1 0h2m1 0h2m2 0h2m1 0h2m2 0h2m1 0h2m1 0h2m2 0h2m1 0h2m1 0h2m2 0h2m1 0h2m1 0h2m2 0h2m1 0h2m1 0h2m1 0h2m2 0h2m1 0h2m1 0h2m1 0h2m1 0h2m2 0h2m1 0h2m1 0h2m1 0h2m2 0h2m1 0h2m1 0h2m1 0h2m1-1h2m1 0h2m2 0h2m1 0h2m1 0h2m1 0h2m1 0h2m1 0h2m2 0h2m1 0h2m1 0h2m1 0h2m1 0h2m1 0h2m1 0h2m2 0h2m1 0h2m1 0h2m1 0h2m1 0h2m1 0h2m1 0h2m1-1h2m2 0h2m1 0h2m1 0h2m1 0h2m1 0h2m1 0h2m1 0h2m1 0h2m2 0h2m1 0h2m1 0h2m1-1h2m1 0h2m1 0h2m1 0h2m2 0h2m1 0h2m1 0h2m1 0h2m1 0h2m1-1h2m2 0h2m1 0h2m1 0h2m1 0h2m2 0h2m1 0h2m1-1h2m1 0h2m1 0h2m2 0h2m1 0h2m2 0h2m1 0h2m1-1h2m2 0h2m1 0h2m2 0h2m1 0h2m2 0h2m1 0h2m2-1h2m1 0h2m1 0h2m2 0h2m2 0h2m2 0h2m1 0h2m2 0h2m1 0h2m2 0h2m2-1h2m2 0h2m1 0h2m2 0h2m2 0h2m2 0h2m2 0h2m1 0h2m2 0h2m2 0h2m2 1h2m2 0h2m2 0h2m2 0h2m2 0h2m2 0h2m1 0h2m3 1h2m1 0h2m2 0h2m2 0h2m2 0h2m2 1h2m2 0h2m2 0h2m2 1h2m2 0h2m2 0h2m2 1h2m1 0h2m2 1h2m2 0h2m2 1h2m2 0h2m1 0h2m2 1h2m2 0h2m2 1h2m1 0h2m2 1h2m2 1h2m1 0h2m2 1h2m1 0h2m2 1h2m1 0h2m2 1h2m1 1h2m2 0h2m1 1h2m1 0h2m2 1h2m1 1h2m1 0h2m2 1h2m1 0h2m1 1h2m1 1h2m2 0h2m1 1h2m1 1h2m1 0h2m1 1h2m1 1h2m1 0h2m1 1h2m1 0h2m1 1h2m1 1h2m2 0h2m0 1h2m1 1h2m1 0h2m1 1h2m1 0h2m1 1h2m1 1h2m1 0h2m1 1h2m0 0h2m1 1h2m1 0h2m1 1h2m0 1h2m1 0h2m1 1h2m1 0h2m1 1h2m0 0h2m1 1h2m1 0h2m0 1h2m1 1h2m0 0h2m1 1h2m1 0h2m0 1h2m1 0h2m0 0h2m1 1h2m1 0h2m0 1h2m1 0h2m0 1h2m1 0h2m0 0h2m1 1h2m0 0h2m1 1h2m0 0h2m0 0h2m1 1h2m0 0h2m1 0h2m0 1h2m1 0h2m0 0h2m0 0h2m1 1h2m0 0h2m0 0h2m1 0h2m0 0h2m1 1h2m0 0h2m0 0h2m0 0h2m1 0h2m0 0h2m0 0h2m1 0h2m0 0h2m0 0h2m0 0h2m0 0h2m1 0h2m0 0h2m0 0h2m1 0h2m0 0h2m0 0h2m0-1h2m1 0h2m0 0h2m0 0h2m0-1h2m1 0h2m0 0h2m0 0h2m1-1h2m0 0h2m0-1h2m1 0h2m0 0h2m0-1h2m0 0h2m1-1h2m0 0h2m1-1h2m0 0h2m0-1h2m1 0h2m0-1h2m1-1h2m1 0h2m0-1h2m0-1h2m1 0h2m1-1h2m0-1h2m1 0h2m1-1h2m0-1h2m1 0h2m1-1h2m1-1h2m1-1h2m0 0h2m1-1h2m1-1h2m1-1h2m1 0h2m1-1h2m2-1h2m1-1h2m1 0h2m1-1h2m1-1h2m1-1h2m1 0h2m2-1h2m1-1h2m1 0h2m2-1h2m1-1h2m1 0h2m2-1h2m2-1h2m1 0h2m1-1h2m2 0h2m-1119-17h2m2 0h2m1-1h2m2 0h2m2 0h2m1-1h2m2 0h2m2-1h2m1 0h2m2 0h2m2-1h2m1 0h2m2 0h2m2-1h2m2 0h2m1 0h2m2 0h2m2-1h2m2 0h2m1 0h2m2 0h2m2 0h2m1-1h2m2 0h2m2 0h2m2 0h2m1 0h2m2 0h2m2-1h2m2 0h2m1 0h2m2 0h2m2 0h2m1 0h2m2 0h2m1 0h2m2 0h2m2 0h2m2-1h2m1 0h2m2 0h2m1 0h2m2 0h2m1 0h2m2 0h2m1 0h2m2 0h2m1 0h2m2 0h2m1 0h2m2 0h2m1 0h2m2 0h2m1 0h2m2 0h2m1 0h2m1 0h2m2 0h2m1 0h2m2 0h2m1 0h2m2 0h2m1 0h2m1 0h2m2 0h2m1 0h2m1 0h2m1 0h2m2 0h2m1 0h2m2 0h2m1 0h2m1 0h2m1-1h2m1 0h2m2 0h2m1 0h2m1 0h2m1 0h2m2 0h2m1 0h2m1 0h2m1 0h2m2 0h2m1 0h2m1 0h2m1 0h2m2 0h2m1 0h2m1 0h2m1 0h2m1 0h2m1 0h2m1 0h2m2 0h2m1 0h2m1 0h2m1 0h2m2-1h2m1 0h2m1 0h2m1 0h2m1 0h2m1 0h2m2 0h2m1 0h2m1 0h2m1 0h2m1 0h2m1 0h2m2 0h2m1-1h2m1 0h2m1 0h2m1 0h2m1 0h2m1 0h2m2 0h2m1 0h2m1 0h2m1 0h2m2-1h2m1 0h2m1 0h2m1 0h2m2 0h2m1 0h2m1 0h2m2 0h2m1-1h2m2 0h2m1 0h2m1 0h2m2 0h2m1 0h2m2 0h2m1-1h2m2 0h2m1 0h2m2 0h2m1 0h2m1 0h2m2 0h2m2 0h2m2 0h2m1-1h2m2 0h2m2 0h2m1 0h2m2 0h2m2 0h2m1 0h2m2 0h2m2 0h2m2 0h2m2 0h2m2 0h2m2 0h2m1 0h2m2 0h2m2 0h2m2 0h2m2 0h2m2 0h2m2 0h2m2 0h2m2 1h2m2 0h2m2 0h2m2 0h2m2 0h2m2 1h2m2 0h2m2 0h2m2 0h2m2 1h2m2 0h2m2 0h2m2 1h2m2 0h2m2 0h2m2 1h2m2 0h2m2 0h2m2 1h2m2 0h2m1 1h2m2 0h2m2 1h2m2 0h2m1 1h2m2 0h2m2 1h2m1 0h2m2 1h2m2 0h2m1 1h2m2 1h2m1 0h2m2 1h2m1 0h2m2 1h2m1 1h2m1 0h2m2 1h2m1 0h2m1 1h2m2 1h2m1 0h2m1 1h2m1 0h2m2 1h2m1 1h2m1 0h2m1 1h2m1 1h2m1 0h2m1 1h2m1 0h2m1 1h2m1 1h2m1 0h2m1 1h2m1 1h2m1 0h2m0 1h2m1 0h2m1 1h2m1 1h2m1 0h2m1 1h2m0 0h2m1 1h2m1 0h2m0 1h2m1 1h2m1 0h2m0 1h2m1 0h2m1 1h2m0 0h2m1 1h2m0 0h2m1 1h2m1 0h2m0 1h2m1 0h2m0 1h2m1 0h2m0 1h2m1 0h2m0 1h2m1 0h2m0 0h2m1 1h2m0 0h2m0 1h2m1 0h2m0 0h2m0 1h2m1 0h2m0 0h2m1 1h2m0 0h2m0 0h2m1 1h2m0 0h2m0 0h2m0 0h2m1 1h2m0 0h2m0 0h2m1 0h2m0 1h2m0 0h2m0 0h2m1 0h2m0 0h2m0 0h2m0 0h2m1 0h2m0 0h2m0 0h2m0 0h2m0 0h2m1 0h2m0 0h2m0 0h2m0 0h2m0 0h2m1 0h2m0 0h2m0 0h2m0 0h2m0 0h2m1-1h2m0 0h2m0 0h2m1 0h2m0 0h2m0-1h2m0 0h2m0 0h2m1-1h2m0 0h2m0 0h2m1-1h2m0 0h2m0 0h2m1-1h2m0 0h2m0-1h2m1 0h2m0-1h2m0 0h2m1-1h2m0 0h2m1-1h2m0 0h2m1-1h2m1 0h2m0-1h2m0-1h2m1 0h2m1-1h2m0 0h2m1-1h2m1-1h2m0 0h2m1-1h2m1-1h2m1 0h2m1-1h2m1-1h2m1 0h2m0-1h2m2-1h2m1 0h2m0-1h2m1-1h2m2 0h2m1-1h2m1-1h2m1 0h2m1-1h2m2-1h2m1 0h2m1-1h2m2 0h2m1-1h2m1-1h2m2 0h2m1-1h2m1 0h2m2-1h2m-1117-17h2m1 0h2m2-1h2m2 0h2m1-1h2m2 0h2m1 0h2m2-1h2m1 0h2m2 0h2m2-1h2m1 0h2m2 0h2m2-1h2m2 0h2m1 0h2m2-1h2m2 0h2m2 0h2m1-1h2m2 0h2m2 0h2m1 0h2m2 0h2m2-1h2m2 0h2m2 0h2m1 0h2m2 0h2m2-1h2m1 0h2m2 0h2m2 0h2m1 0h2m2 0h2m2-1h2m2 0h2m1 0h2m2 0h2m2 0h2m1 0h2m2 0h2m2 0h2m1 0h2m2-1h2m1 0h2m2 0h2m2 0h2m1 0h2m2 0h2m1 0h2m2 0h2m2 0h2m1 0h2m2 0h2m1 0h2m2 0h2m1 0h2m2 0h2m1 0h2m1 0h2m2-1h2m1 0h2m2 0h2m1 0h2m2 0h2m1 0h2m1 0h2m2 0h2m1 0h2m2 0h2m1 0h2m2 0h2m1 0h2m1 0h2m2 0h2m1 0h2m1 0h2m1 0h2m2 0h2m1 0h2m2 0h2m1 0h2m1 0h2m1 0h2m2 0h2m1 0h2m1-1h2m1 0h2m2 0h2m1 0h2m1 0h2m2 0h2m1 0h2m1 0h2m1 0h2m2 0h2m1 0h2m1 0h2m1 0h2m1 0h2m2 0h2m1 0h2m1-1h2m1 0h2m2 0h2m1 0h2m1 0h2m1 0h2m2 0h2m1 0h2m2 0h2m1 0h2m1 0h2m1 0h2m1-1h2m2 0h2m1 0h2m2 0h2m1 0h2m1 0h2m2 0h2m1 0h2m2 0h2m1-1h2m1 0h2m2 0h2m1 0h2m2 0h2m1 0h2m2 0h2m1 0h2m2 0h2m1 0h2m2-1h2m2 0h2m1 0h2m2 0h2m2 0h2m1 0h2m2 0h2m2 0h2m2 0h2m1 0h2m2 0h2m2 0h2m2 0h2m2 0h2m2 0h2m1-1h2m3 0h2m1 0h2m2 1h2m2 0h2m2 0h2m2 0h2m2 0h2m2 0h2m2 0h2m3 0h2m2 0h2m2 0h2m2 0h2m2 0h2m2 1h2m2 0h2m2 0h2m2 0h2m2 0h2m2 1h2m2 0h2m2 0h2m3 1h2m2 0h2m1 0h2m3 0h2m2 1h2m1 0h2m2 1h2m3 0h2m1 0h2m2 1h2m2 0h2m2 1h2m2 0h2m2 1h2m2 0h2m1 1h2m2 0h2m2 1h2m1 0h2m2 1h2m1 0h2m2 1h2m2 0h2m1 1h2m2 0h2m1 1h2m1 1h2m2 0h2m1 1h2m2 0h2m1 1h2m1 1h2m1 0h2m2 1h2m1 0h2m1 1h2m1 1h2m1 0h2m1 1h2m1 0h2m1 1h2m1 1h2m1 0h2m1 1h2m1 0h2m1 1h2m1 1h2m1 0h2m1 1h2m0 0h2m1 1h2m1 1h2m1 0h2m1 1h2m0 0h2m1 1h2m1 0h2m0 1h2m1 1h2m1 0h2m0 1h2m1 0h2m0 1h2m1 0h2m0 1h2m1 0h2m0 1h2m1 0h2m0 1h2m1 0h2m0 1h2m1 0h2m0 1h2m1 0h2m0 0h2m0 1h2m1 0h2m0 1h2m0 0h2m1 0h2m0 1h2m0 0h2m1 1h2m0 0h2m0 0h2m1 1h2m0 0h2m0 0h2m0 0h2m0 1h2m1 0h2m0 0h2m0 1h2m1 0h2m0 0h2m0 0h2m0 0h2m0 1h2m1 0h2m0 0h2m0 0h2m0 0h2m0 0h2m0 0h2m1 0h2m0 1h2m0 0h2m0 0h2m0 0h2m0 0h2m0 0h2m1 0h2m0 0h2m0 0h2m0 0h2m0-1h2m0 0h2m0 0h2m1 0h2m0 0h2m0 0h2m0 0h2m0-1h2m1 0h2m0 0h2m0 0h2m0 0h2m0-1h2m1 0h2m0 0h2m0 0h2m0-1h2m0 0h2m1 0h2m0-1h2m0 0h2m0 0h2m1-1h2m0 0h2m1-1h2m0 0h2m0-1h2m1 0h2m0 0h2m0-1h2m1 0h2m0-1h2m1 0h2m0-1h2m1 0h2m1-1h2m0 0h2m1-1h2m0-1h2m1 0h2m1-1h2m0 0h2m1-1h2m1 0h2m1-1h2m0-1h2m1 0h2m1-1h2m1 0h2m1-1h2m1-1h2m1 0h2m1-1h2m1 0h2m1-1h2m1 0h2m1-1h2m1-1h2m2 0h2m1-1h2m1 0h2m1-1h2m1 0h2m2-1h2m1 0h2m1-1h2m2 0h2m1-1h2m-1117-18h2m2 0h2m1-1h2m2 0h2m2 0h2m1-1h2m1 0h2m2-1h2m2 0h2m1 0h2m2-1h2m2 0h2m1 0h2m2-1h2m1 0h2m2 0h2m2-1h2m2 0h2m1 0h2m2-1h2m2 0h2m2 0h2m1 0h2m2-1h2m2 0h2m1 0h2m2 0h2m2-1h2m2 0h2m2 0h2m1 0h2m2 0h2m2-1h2m2 0h2m1 0h2m2 0h2m2 0h2m2-1h2m1 0h2m2 0h2m2 0h2m2 0h2m1 0h2m2 0h2m2-1h2m2 0h2m1 0h2m2 0h2m2 0h2m1 0h2m2 0h2m2 0h2m1 0h2m2-1h2m1 0h2m2 0h2m2 0h2m1 0h2m2 0h2m2 0h2m1 0h2m2 0h2m1 0h2m2 0h2m1 0h2m2 0h2m2 0h2m1-1h2m2 0h2m1 0h2m2 0h2m1 0h2m2 0h2m1 0h2m1 0h2m2 0h2m1 0h2m2 0h2m1 0h2m2 0h2m1 0h2m2 0h2m1 0h2m2 0h2m1 0h2m2 0h2m1-1h2m1 0h2m2 0h2m1 0h2m2 0h2m1 0h2m1 0h2m2 0h2m1 0h2m2 0h2m1 0h2m1 0h2m2 0h2m1 0h2m2 0h2m1 0h2m2-1h2m1 0h2m1 0h2m2 0h2m1 0h2m2 0h2m1 0h2m2 0h2m1 0h2m2 0h2m1 0h2m2 0h2m1-1h2m2 0h2m1 0h2m2 0h2m1 0h2m2 0h2m2 0h2m1 0h2m2 0h2m2 0h2m1 0h2m2 0h2m2 0h2m1-1h2m2 0h2m2 0h2m2 0h2m1 0h2m2 0h2m2 0h2m2 0h2m2 0h2m2 0h2m2 0h2m2 0h2m2 0h2m2 0h2m2 0h2m2 0h2m2 0h2m2 0h2m2 0h2m2 0h2m2 0h2m2 0h2m2 0h2m2 0h2m2 0h2m3 1h2m2 0h2m2 0h2m2 0h2m2 0h2m2 0h2m2 0h2m3 1h2m2 0h2m2 0h2m2 0h2m2 0h2m3 1h2m2 0h2m2 0h2m2 1h2m2 0h2m2 0h2m2 1h2m2 0h2m2 0h2m2 1h2m2 0h2m2 0h2m2 1h2m2 0h2m2 1h2m2 0h2m2 0h2m1 1h2m2 0h2m2 1h2m1 0h2m2 1h2m2 0h2m1 1h2m2 0h2m1 1h2m2 0h2m1 1h2m2 1h2m1 0h2m2 1h2m1 0h2m1 1h2m2 0h2m1 1h2m1 0h2m1 1h2m1 1h2m1 0h2m2 1h2m0 0h2m1 1h2m2 1h2m0 0h2m1 1h2m1 0h2m1 1h2m1 0h2m1 1h2m1 1h2m0 0h2m1 1h2m1 0h2m1 1h2m0 0h2m1 1h2m1 1h2m0 0h2m1 1h2m0 0h2m1 1h2m1 0h2m0 1h2m1 0h2m0 1h2m0 0h2m1 1h2m0 0h2m1 1h2m0 0h2m1 1h2m0 0h2m1 1h2m0 0h2m0 0h2m0 1h2m1 0h2m0 1h2m0 0h2m1 0h2m0 1h2m0 0h2m0 1h2m1 0h2m0 0h2m0 1h2m0 0h2m1 0h2m0 1h2m0 0h2m0 0h2m0 0h2m0 1h2m0 0h2m1 0h2m0 0h2m0 1h2m0 0h2m0 0h2m0 0h2m0 0h2m0 1h2m1 0h2m0 0h2m0 0h2m0 0h2m0 0h2m0 0h2m0 0h2m0 1h2m0 0h2m0 0h2m0 0h2m0 0h2m0 0h2m0 0h2m1 0h2m-1 0h2m1 0h2m0 0h2m0-1h2m0 0h2m0 0h2m0 0h2m0 0h2m0 0h2m0 0h2m0 0h2m1 0h2m0-1h2m0 0h2m0 0h2m0 0h2m0-1h2m0 0h2m1 0h2m0 0h2m0-1h2m0 0h2m0 0h2m1 0h2m0-1h2m0 0h2m0 0h2m0-1h2m1 0h2m0-1h2m1 0h2m0 0h2m0-1h2m0 0h2m1-1h2m0 0h2m1 0h2m0-1h2m0 0h2m1-1h2m0 0h2m1-1h2m0 0h2m1-1h2m1 0h2m0-1h2m1 0h2m0-1h2m1 0h2m1-1h2m1 0h2m0-1h2m1 0h2m1-1h2m1 0h2m1-1h2m1 0h2m0-1h2m1 0h2m1-1h2m1 0h2m1-1h2m1 0h2m1-1h2m2 0h2m1-1h2m1-1h2m1 0h2m1 0h2m1-1h2m2-1h2m1 0h2m1 0h2m-1118-19h2m1 0h2m2 0h2m1-1h2m1 0h2m2-1h2m1 0h2m2 0h2m1-1h2m2 0h2m1-1h2m2 0h2m1 0h2m2-1h2m2 0h2m1 0h2m2-1h2m1 0h2m2 0h2m2-1h2m1 0h2m2 0h2m2-1h2m2 0h2m1 0h2m2-1h2m2 0h2m2 0h2m1 0h2m2-1h2m2 0h2m2 0h2m1 0h2m2-1h2m2 0h2m2 0h2m2 0h2m2 0h2m1-1h2m2 0h2m2 0h2m2 0h2m2 0h2m2-1h2m2 0h2m1 0h2m2 0h2m2 0h2m2 0h2m2-1h2m2 0h2m1 0h2m2 0h2m2 0h2m2 0h2m2 0h2m2 0h2m1-1h2m2 0h2m2 0h2m2 0h2m2 0h2m1 0h2m2 0h2m2 0h2m2 0h2m2-1h2m1 0h2m2 0h2m2 0h2m1 0h2m2 0h2m2 0h2m2 0h2m2 0h2m1 0h2m2 0h2m2 0h2m1 0h2m2-1h2m2 0h2m1 0h2m2 0h2m2 0h2m2 0h2m1 0h2m2 0h2m2 0h2m1 0h2m2 0h2m2 0h2m2 0h2m1 0h2m2 0h2m2-1h2m2 0h2m1 0h2m2 0h2m2 0h2m1 0h2m2 0h2m2 0h2m2 0h2m2 0h2m1 0h2m2 0h2m2 0h2m2 0h2m2 0h2m1 0h2m2-1h2m2 0h2m2 0h2m2 0h2m2 0h2m2 0h2m2 0h2m2 0h2m2 0h2m2 0h2m2 0h2m2 0h2m2 0h2m2 0h2m2 0h2m2 0h2m2 0h2m2 0h2m3 0h2m2 0h2m2 0h2m2 0h2m2 0h2m2 0h2m3 0h2m2 0h2m2 0h2m2 0h2m3 0h2m2 0h2m2 1h2m3 0h2m2 0h2m2 0h2m3 0h2m2 0h2m2 0h2m2 0h2m3 1h2m2 0h2m2 0h2m3 0h2m2 0h2m2 1h2m3 0h2m2 0h2m2 0h2m2 1h2m2 0h2m3 0h2m2 0h2m2 1h2m2 0h2m2 0h2m2 1h2m2 0h2m3 0h2m2 1h2m1 0h2m3 0h2m1 1h2m2 0h2m2 1h2m2 0h2m2 1h2m1 0h2m2 0h2m2 1h2m1 0h2m2 1h2m2 0h2m1 1h2m2 0h2m1 1h2m2 0h2m1 1h2m1 0h2m2 1h2m1 0h2m1 1h2m1 0h2m2 1h2m1 0h2m1 1h2m1 0h2m1 1h2m1 1h2m1 0h2m1 1h2m1 0h2m1 1h2m1 0h2m0 1h2m1 0h2m1 1h2m1 0h2m1 1h2m0 0h2m1 1h2m1 0h2m0 1h2m1 1h2m0 0h2m1 1h2m0 0h2m1 1h2m1 0h2m0 1h2m0 0h2m1 1h2m0 0h2m1 0h2m0 1h2m0 0h2m1 1h2m0 0h2m1 1h2m0 0h2m0 1h2m0 0h2m1 1h2m0 0h2m0 0h2m0 1h2m0 0h2m1 1h2m0 0h2m0 0h2m0 1h2m0 0h2m0 0h2m1 1h2m0 0h2m0 0h2m0 1h2m0 0h2m0 0h2m0 1h2m0 0h2m0 0h2m0 0h2m0 1h2m0 0h2m0 0h2m0 0h2m0 0h2m0 1h2m0 0h2m0 0h2m0 0h2m0 0h2m0 1h2m0 0h2m0 0h2m0 0h2m0 0h2m0 0h2m0 0h2m0 0h2m0 0h2m0 0h2m0 0h2m0 1h2m0 0h2m0 0h2m0 0h2m0 0h2m0 0h2m0 0h2m0-1h2m0 0h2m-1 0h2m1 0h2m0 0h2m-1 0h2m1 0h2m0 0h2m-1 0h2m1 0h2m0 0h2m-1-1h2m1 0h2m0 0h2m0 0h2m0 0h2m0-1h2m0 0h2m0 0h2m0 0h2m0 0h2m0-1h2m0 0h2m0 0h2m1-1h2m0 0h2m0 0h2m0 0h2m0-1h2m0 0h2m0 0h2m1-1h2m0 0h2m0 0h2m0-1h2m1 0h2m0-1h2m0 0h2m1 0h2m0-1h2m0 0h2m1 0h2m0-1h2m1 0h2m0-1h2m1 0h2m0-1h2m1 0h2m0-1h2m1 0h2m0 0h2m1-1h2m0 0h2m1-1h2m1 0h2m0-1h2m1 0h2m1-1h2m0 0h2m1-1h2m1 0h2m1 0h2m1-1h2m1 0h2m0-1h2m1 0h2m1-1h2m1 0h2m1-1h2m1 0h2m1-1h2m1 0h2m1-1h2m1 0h2m2-1h2m-1115-19h2m1 0h2m2-1h2m1 0h2m1 0h2m1-1h2m2 0h2m1-1h2m1 0h2m2 0h2m1-1h2m2 0h2m1-1h2m1 0h2m2 0h2m1-1h2m2 0h2m1 0h2m2-1h2m2 0h2m1 0h2m2-1h2m2 0h2m1 0h2m2-1h2m2 0h2m1 0h2m2 0h2m2-1h2m2 0h2m2 0h2m2-1h2m1 0h2m2 0h2m2 0h2m2-1h2m2 0h2m2 0h2m2 0h2m2-1h2m2 0h2m2 0h2m2 0h2m2 0h2m2-1h2m2 0h2m2 0h2m2 0h2m2 0h2m3-1h2m2 0h2m2 0h2m2 0h2m2 0h2m2-1h2m2 0h2m3 0h2m2 0h2m2 0h2m2 0h2m2-1h2m3 0h2m2 0h2m2 0h2m2 0h2m2 0h2m3 0h2m2 0h2m2-1h2m3 0h2m2 0h2m2 0h2m3 0h2m2 0h2m2 0h2m2 0h2m3 0h2m2-1h2m2 0h2m3 0h2m2 0h2m3 0h2m2 0h2m2 0h2m3 0h2m2 0h2m2 0h2m3 0h2m2 0h2m3 0h2m3 0h2m2-1h2m2 0h2m3 0h2m2 0h2m3 0h2m2 0h2m3 0h2m3 0h2m2 0h2m3 0h2m2 0h2m3 0h2m2 0h2m3 0h2m3 0h2m2 0h2m3 0h2m3 0h2m2 0h2m3 0h2m3 0h2m3 0h2m2 0h2m3 0h2m3 0h2m3 0h2m2 0h2m3 1h2m3 0h2m3 0h2m2 0h2m3 0h2m3 0h2m3 0h2m2 0h2m3 0h2m3 1h2m2 0h2m3 0h2m3 0h2m3 0h2m2 0h2m3 0h2m3 1h2m2 0h2m3 0h2m2 0h2m3 1h2m3 0h2m2 0h2m2 0h2m3 1h2m2 0h2m3 0h2m2 0h2m2 1h2m3 0h2m2 0h2m2 1h2m2 0h2m2 0h2m2 1h2m3 0h2m2 0h2m1 1h2m3 0h2m1 0h2m2 1h2m2 0h2m2 1h2m2 0h2m1 0h2m2 1h2m1 0h2m2 1h2m2 0h2m1 1h2m1 0h2m2 1h2m1 0h2m1 0h2m2 1h2m1 0h2m1 1h2m1 0h2m1 1h2m2 0h2m0 1h2m1 0h2m2 1h2m0 0h2m2 1h2m0 0h2m1 1h2m1 0h2m1 1h2m1 0h2m0 1h2m1 0h2m1 1h2m0 0h2m1 0h2m0 1h2m1 0h2m0 1h2m1 0h2m0 1h2m1 0h2m0 1h2m1 0h2m0 1h2m0 0h2m1 1h2m0 0h2m1 1h2m0 0h2m0 0h2m0 1h2m1 0h2m0 1h2m0 0h2m0 1h2m0 0h2m0 0h2m1 1h2m0 0h2m0 1h2m0 0h2m0 0h2m0 1h2m0 0h2m0 0h2m0 1h2m0 0h2m0 0h2m0 1h2m0 0h2m0 0h2m0 1h2m0 0h2m0 0h2m0 1h2m0 0h2m0 0h2m0 1h2m0 0h2m0 0h2m-1 0h2m0 1h2m0 0h2m0 0h2m0 0h2m0 0h2m0 1h2m0 0h2m-1 0h2m0 0h2m0 0h2m0 1h2m0 0h2m0 0h2m0 0h2m-1 0h2m0 0h2m0 0h2m0 1h2m0 0h2m0 0h2m-1 0h2m0 0h2m0 0h2m0 0h2m-1 0h2m0 0h2m0 0h2m0 0h2m0 0h2m0 0h2m-1 0h2m0 0h2m0 0h2m0 0h2m0 0h2m0 0h2m-1 0h2m0 0h2m0 0h2m0 0h2m0 0h2m-1 0h2m0-1h2m0 0h2m0 0h2m0 0h2m0 0h2m0 0h2m0 0h2m-1-1h2m0 0h2m0 0h2m0 0h2m0 0h2m0 0h2m0-1h2m0 0h2m0 0h2m0 0h2m0-1h2m0 0h2m0 0h2m0 0h2m0-1h2m0 0h2m0 0h2m0 0h2m0-1h2m0 0h2m0 0h2m0-1h2m0 0h2m0 0h2m0-1h2m1 0h2m0 0h2m0-1h2m0 0h2m0 0h2m1-1h2m0 0h2m0-1h2m0 0h2m1 0h2m0-1h2m0 0h2m1 0h2m0-1h2m0 0h2m1-1h2m0 0h2m1 0h2m0-1h2m1 0h2m0-1h2m1 0h2m0-1h2m1 0h2m0 0h2m1-1h2m1 0h2m0-1h2m1 0h2m1 0h2m1-1h2m0 0h2m1-1h2m1 0h2m1-1h2m1 0h2m0 0h2m1-1h2m1 0h2m1-1h2m-1116-20h2m1-1h2m1 0h2m0 0h2m1-1h2m1 0h2m1 0h2m1-1h2m1 0h2m1-1h2m1 0h2m1 0h2m1-1h2m1 0h2m2 0h2m1-1h2m1 0h2m1 0h2m2-1h2m1 0h2m1 0h2m2-1h2m1 0h2m1 0h2m2-1h2m2 0h2m2 0h2m1-1h2m2 0h2m2 0h2m1-1h2m2 0h2m2 0h2m2 0h2m2-1h2m2 0h2m2 0h2m2-1h2m2 0h2m3 0h2m2-1h2m2 0h2m3 0h2m2 0h2m3-1h2m2 0h2m3 0h2m3 0h2m3-1h2m3 0h2m3 0h2m3 0h2m3-1h2m3 0h2m4 0h2m3 0h2m3 0h2m4-1h2m4 0h2m3 0h2m4 0h2m4 0h2m4-1h2m5 0h2m4 0h2m4 0h2m4 0h2m5 0h2m4-1h2m5 0h2m4 0h2m5 0h2m5 0h2m5 0h2m5 0h2m6 0h2m5 0h2m5 0h2m5 0h2m6-1h2m5 0h2m6 0h2m5 0h2m5 0h2m6 0h2m5 0h2m6 0h2m5 1h2m5 0h2m6 0h2m5 0h2m5 0h2m5 0h2m6 0h2m5 0h2m5 0h2m5 0h2m4 1h2m5 0h2m4 0h2m5 0h2m4 0h2m5 0h2m4 1h2m4 0h2m4 0h2m4 0h2m4 1h2m4 0h2m3 0h2m4 0h2m3 1h2m4 0h2m3 0h2m3 0h2m3 1h2m3 0h2m3 0h2m2 1h2m3 0h2m3 0h2m2 1h2m2 0h2m2 0h2m3 1h2m2 0h2m2 0h2m2 1h2m2 0h2m2 0h2m2 1h2m1 0h2m2 0h2m2 1h2m1 0h2m2 1h2m1 0h2m2 0h2m1 1h2m1 0h2m1 0h2m1 1h2m2 0h2m1 1h2m1 0h2m1 0h2m1 1h2m1 0h2m0 1h2m1 0h2m1 1h2m1 0h2m1 0h2m0 1h2m1 0h2m1 1h2m0 0h2m1 0h2m0 1h2m1 0h2m0 1h2m1 0h2m0 1h2m0 0h2m1 0h2m0 1h2m1 0h2m0 1h2m0 0h2m0 0h2m0 1h2m1 0h2m0 1h2m0 0h2m0 1h2m0 0h2m0 0h2m1 1h2m-1 0h2m1 0h2m0 1h2m0 0h2m0 1h2m0 0h2m0 0h2m0 1h2m0 0h2m-1 1h2m0 0h2m0 0h2m0 1h2m0 0h2m0 0h2m0 1h2m0 0h2m-1 0h2m0 1h2m0 0h2m0 0h2m0 1h2m-1 0h2m0 0h2m0 1h2m0 0h2m0 0h2m-1 1h2m0 0h2m0 0h2m-1 1h2m0 0h2m0 0h2m-1 0h2m0 1h2m0 0h2m-1 0h2m0 0h2m0 1h2m-1 0h2m0 0h2m0 0h2m-1 1h2m0 0h2m0 0h2m-1 0h2m0 0h2m0 1h2m-1 0h2m0 0h2m-1 0h2m0 0h2m-1 0h2m0 1h2m0 0h2m-1 0h2m0 0h2m-1 0h2m0 0h2m-1 0h2m0 1h2m0 0h2m-1 0h2m0 0h2m-1 0h2m0 0h2m-1 0h2m0 0h2m0 0h2m-1 0h2m0 0h2m-1 0h2m0 0h2m-1 0h2m0 1h2m0 0h2m-1 0h2m0 0h2m-1 0h2m0 0h2m0 0h2m-1 0h2m0-1h2m-1 0h2m0 0h2m-1 0h2m0 0h2m0 0h2m-1 0h2m0 0h2m-1 0h2m0 0h2m0 0h2m-1 0h2m0 0h2m0 0h2m-1-1h2m0 0h2m-1 0h2m0 0h2m0 0h2m-1 0h2m0 0h2m-1-1h2m0 0h2m0 0h2m-1 0h2m0 0h2m0 0h2m0-1h2m-1 0h2m0 0h2m0 0h2m-1 0h2m0-1h2m0 0h2m0 0h2m-1 0h2m0-1h2m0 0h2m0 0h2m0 0h2m-1-1h2m0 0h2m0 0h2m0 0h2m0-1h2m-1 0h2m0 0h2m0-1h2m0 0h2m0 0h2m0 0h2m0-1h2m0 0h2m0 0h2m0-1h2m-1 0h2m1 0h2m0-1h2m-1 0h2m1 0h2m-1-1h2m1 0h2m0 0h2m0-1h2m0 0h2m0 0h2m0-1h2m0 0h2m0 0h2m0-1h2m0 0h2m1 0h2m0-1h2m0 0h2m0-1h2m1 0h2m0 0h2m0-1h2m0 0h2m1 0h2m0-1h2m0 0h2m1-1h2m0 0h2m1 0h2m0-1h2m1 0h2m0 0h2m0-1h2m1 0h2m1 0h2m0-1h2m1 0h2m-225 3h2m-1 0h2m-1 0h2m-1 1h2m0 0h2m0 0h2m-1 0h2m-1 0h2m-1 0h2m-1 0h2m-1 0h2m-1 1h2m0 0h2m-1 0h2m-1 0h2m-1 0h2m-1 0h2m-1 0h2m-1 0h2m-1 0h2m-1 0h2m-1 0h2m0 0h2m-1 0h2m-1 0h2m-1 0h2m-1 1h2m-1 0h2m-1 0h2m-1 0h2m-1 0h2m-1 0h2m0 0h2m-1 0h2m-1 0h2m-1 0h2m-1 0h2m-1 0h2m-1 0h2m0 0h2m-1 0h2m-1 0h2m-1 0h2m-1 0h2m-1-1h2m-1 0h2m-1 0h2m0 0h2m-1 0h2m-1 0h2m-1 0h2m-1 0h2m-1 0h2m-1 0h2m0 0h2m-1 0h2m-1 0h2m-1 0h2m-1 0h2m-1 0h2m0-1h2m-1 0h2m-1 0h2m-1 0h2m-1 0h2m-1 0h2m-1 0h2m-1 0h2m0 0h2m-1-1h2m-1 0h2m-1 0h2m-1 0h2m0 0h2m-1 0h2m-1 0h2m-1-1h2m-1 0h2m-1 0h2m0 0h2m-1 0h2m-1 0h2m-1-1h2m-1 0h2m0 0h2m-1 0h2m-1 0h2m-1 0h2m-1-1h2m-1 0h2m0 0h2m-1 0h2m-1 0h2m-1-1h2m-1 0h2m0 0h2m-1 0h2m-1 0h2m-1-1h2m-1 0h2m0 0h2m-1 0h2m-1 0h2m-1-1h2m-1 0h2m0 0h2m-1 0h2m-1-1h2m-1 0h2m-1 0h2m-1 0h2m0-1h2m-1 0h2m-1 0h2m-1 0h2m-1 0h2m0-1h2m-1 0h2m-1 0h2m-1 0h2m-1-1h2m-1 0h2m0 0h2m-1-1h2m-1 0h2m-1 0h2m-1 0h2m-1-1h2m0 0h2m-1 0h2m-1 0h2m-1-1h2m-1 0h2m-1 0h2m-1 0h2m-1-1h2m0 0h2m0-1h2m-1 0h2m-1 0h2m-1 0h2m0-1h2m-1 0h2m-1-1h2m-1 0h2m-1 0h2m-1 0h2m-1-1h2m-1 0h2m-1 0h2m-1 0h2m0-1h2m-1 0h2m-1-1h2m-1 0h2m-1 0h2m-1-1h2m-1 0h2m-1 0h2m-1-1h2m-1 0h2m-2-1h2m-1 0h2m-1 0h2m-2-1h2m-1 0h2m-2-1h2m-1 0h2m-2-1h2m-3 0h2m-2-1h2m-3 0h2m-2-1h2m-3 0h2m-4 0h2m-3-1h2m-4 0h2m-3 0h2m-4-1h2m-4 0h2m-3 0h2m-5 0h2m-3 0h2m-5-1h2m-4 0h2m-5 0h2m-5 0h2m-6-1h2m-6 0h2m-7 0h2m-7 0h2m-7 0h2m-7-1h2m-8 0h2m-8 0h2m-8 0h2m-9 0h2m-9 0h2m-9 0h2m-9 0h2m-10 0h2m-10 0h2m-10-1h2m-10 0h2m-10 0h2m-10 0h2m-10 1h2m-10 0h2m-10 0h2m-9 0h2m-10 0h2m-9 0h2m-8 0h2m-8 0h2m-8 0h2m-8 1h2m-7 0h2m-7 0h2m-7 0h2m-7 0h2m-6 1h2m-6 0h2m-5 0h2m-5 0h2m-4 0h2m-5 1h2m-4 0h2m-4 0h2m-4 0h2m-4 1h2m-4 0h2m-3 0h2m-4 0h2m-3 1h2m-3 0h2m-3 0h2m-2 1h2m-3 0h2m-3 1h2m-3 0h2m-2 1h2m-3 0h2m-1 1h2m-1 0h2m-2 1h2m-1 0h2m-2 1h2m-1 0h2m-1 1h2m-1 0h2m-1 1h2m-1 0h2m-1 1h2m-1 0h2m-1 1h2m-1 0h2m-1 0h2m-1 1h2m-1 0h2m-1 0h2m-1 1h2m-1 0h2m-1 0h2m-1 1h2m-1 0h2m-1 0h2m-1 1h2m-1 0h2m-1 0h2m-1 0h2m-1 1h2m-1 0h2m-1 0h2m-1 1h2m-1 0h2m-1 0h2m0 1h2m-1 0h2m0 0h2m-2 1h2m-1 0h2m-1 0h2m-1 0h2m-1 1h2m-1 0h2m0 0h2m-1 1h2m-1 0h2m-1 0h2m-1 0h2m-1 1h2m-1 0h2m-1 0h2m-1 0h2m-1 1h2m-1 0h2m-1 0h2m-1 0h2m-1 1h2m-1 0h2m0 0h2m-1 0h2m-1 0h2m-1 1h2m-1 0h2m-1 0h2m-1 0h2m-1 0h2m-1 1h2m-1 0h2m-1 0h2m-1 0h2m-1 0h2m0 1h2m-1 0h2m-1 0h2m-1 0h2m-1 0h2m-1 1h2m-1 0h2m-1 0h2m-1 0h2m0 0h2m-1 0h2m0 1h2m-1 0h2m-1 0h2m-1 0h2m-894 242h2m1-1h2m1 0h2m1-1h2m0 0h2m2-1h2m0 0h2m1-1h2m1 0h2m1-1h2m1 0h2m1 0h2m1-1h2m1 0h2m1 0h2m0-1h2m2 0h2m0 0h2m2 0h2m0-1h2m2 0h2m0 0h2m2 0h2m1 0h2m1 0h2m1 0h2m1 0h2m1 0h2m1 0h2m1 0h2m1 0h2m1 0h2m1 0h2m1 0h2m1 0h2m1 0h2m2 1h2m1 0h2m1 0h2m1 0h2m1 1h2m1 0h2m2 0h2m1 0h2m1 1h2m1 0h2m2 1h2m1 0h2m1 0h2m1 1h2m1 0h2m2 1h2m1 0h2m2 0h2m1 1h2m1 0h2m2 1h2m1 0h2m1 1h2m2 0h2m1 0h2m1 1h2m2 0h2m1 0h2m1 1h2m2 0h2m1 0h2m1 0h2m1 1h2m2 0h2m1 0h2m2 0h2m1 0h2m1 0h2m2 0h2m1 1h2m1 0h2m1 0h2m2 0h2m1-1h2m1 0h2m1 0h2m2 0h2m1 0h2m1 0h2m1 0h2m2 0h2m1 0h2m1-1h2m1 0h2m1 0h2m2 0h2m1 0h2m1 0h2m1-1h2m1 0h2m1 0h2m2 0h2m1 0h2m1 0h2m1 0h2m1 0h2m1-1h2m1 0h2m1 0h2m2 0h2m1 0h2m1 0h2m1 0h2m1 0h2m1 0h2m2 0h2m1 0h2m1 0h2m1 0h2m1 0h2m1 0h2m1 1h2m1 0h2m1 0h2m2 0h2m1 0h2m1 0h2m1 0h2m1 0h2m1 0h2m2 0h2m1 1h2m1 0h2m1 0h2m1 0h2m1 0h2m2 0h2m1 0h2m1 0h2m1 0h2m1 0h2m1 0h2m1 0h2m2 0h2m1 0h2m1 0h2m1 0h2m1 0h2m1 0h2m2 0h2m1 0h2m1 0h2m1 0h2m2 0h2m1 0h2m1 0h2m1 0h2m1 0h2m1 0h2m1 0h2m1 0h2m2 0h2m1 0h2m1 0h2m1 0h2m1 0h2m1 0h2m1 0h2m1 1h2m1 0h2m2 0h2m0 0h2m2 0h2m1 0h2m1 0h2m1 1h2m1 0h2m1 0h2m1 1h2m1 0h2m1 0h2m1 1h2m1 0h2m1 0h2m1 1h2m1 0h2m1 1h2m1 0h2m2 1h2m0 0h2m2 1h2m1 0h2m1 1h2m1 0h2m1 1h2m1 0h2m1 1h2m1 0h2m1 1h2m1 1h2m1 0h2m1 1h2m1 0h2m1 1h2m1 0h2m2 1h2m1 0h2m1 1h2m1 0h2m1 1h2m1 0h2m1 1h2m1 0h2m2 1h2m1 0h2m1 1h2m1 0h2m1 1h2m1 0h2m1 0h2m1 1h2m2 0h2m1 1h2m1 0h2m1 1h2m1 0h2m1 0h2m1 1h2m1 0h2m1 1h2m1 0h2m2 0h2m1 1h2m1 0h2m1 1h2m1 0h2m1 0h2m1 1h2m2 0h2m1 1h2m1 0h2m1 1h2m1 0h2m1 0h2m1 1h2m1 0h2m2 1h2m1 0h2m1 0h2m1 1h2m1 0h2m1 1h2m1 0h2m2 1h2m1 0h2m1 0h2m1 1h2m1 0h2m1 1h2m1 0h2m1 1h2m2 0h2m1 1h2m1 0h2m1 0h2m1 1h2m1 0h2m1 1h2m2 0h2m1 1h2m1 0h2m1 1h2m1 0h2m1 1h2m1 1h2m2 0h2m1 1h2m1 0h2m1 1h2m1 0h2m1 1h2m2 1h2m1 0h2m1 1h2m1 1h2m2 0h2m1 1h2m1 1h2m1 0h2m2 1h2m1 0h2m1 1h2m1 1h2m2 0h2m1 1h2m1 1h2m1 0h2m2 1h2m1 0h2m2 1h2m1 0h2m2 1h2m1 0h2m2 1h2m1 0h2m2 0h2m1 0h2m2 1h2m2 0h2m1 0h2m2 0h2m1-1h2m2 0h2m2 0h2m1-1h2m2 0h2m2-1h2m1-1h2m2 0h2m2-1h2m1-1h2m2-2h2m1-1h2m2-1h2m1-2h2m2-1h2m1-1h2m2-2h2m1-2h2m2-2h2m1-1h2m1-2h2m1-2h2m2-2h2m0-2h2m2-2h2m1-2h2m1-1h2m1-2h2m1-2h2m1-2h2m1-1h2m1-2h2m1-2h2m1-1h2m1-2h2m1-1h2m0-2h2m1-1h2m1-2h2m1-1h2m1-1h2m1-1h2m0-1h2m1-2h2m1-1h2m1-1h2m-1118 22h2m0-1h2m1-1h2m1 0h2m1-1h2m0 0h2m1-1h2m1 0h2m0-1h2m1 0h2m1-1h2m1 0h2m0-1h2m1 0h2m1-1h2m1 0h2m0-1h2m1 0h2m1-1h2m1 0h2m1 0h2m0-1h2m1 0h2m1 0h2m1-1h2m1 0h2m0 0h2m2 0h2m0-1h2m1 0h2m1 0h2m1 0h2m1 0h2m1 0h2m1 0h2m1 0h2m1 0h2m1 0h2m1 0h2m1 0h2m1 0h2m1 0h2m1 0h2m2 1h2m1 0h2m1 0h2m1 0h2m1 1h2m1 0h2m2 0h2m1 1h2m1 0h2m1 0h2m2 1h2m1 0h2m1 0h2m2 1h2m1 0h2m1 1h2m2 0h2m1 0h2m1 1h2m2 0h2m1 1h2m2 0h2m1 0h2m1 0h2m2 1h2m1 0h2m2 0h2m1 0h2m1 1h2m2 0h2m1 0h2m1 0h2m2 0h2m1 0h2m2 0h2m1 0h2m1 0h2m2 0h2m1 0h2m1 0h2m1 0h2m2 0h2m1 0h2m1 0h2m1 0h2m2-1h2m1 0h2m1 0h2m1 0h2m1 0h2m2 0h2m1-1h2m1 0h2m1 0h2m1 0h2m1 0h2m1 0h2m1 0h2m2-1h2m0 0h2m2 0h2m1 0h2m1 0h2m1 0h2m1 0h2m1 0h2m1 0h2m1 0h2m1 0h2m1 0h2m1 0h2m1 0h2m2 0h2m1 0h2m1 0h2m1 0h2m1 0h2m1 0h2m1 0h2m1 0h2m1 0h2m1 0h2m1 1h2m1 0h2m2 0h2m1 0h2m1 0h2m1 0h2m1 0h2m1 0h2m1 0h2m1 0h2m2 1h2m1 0h2m1 0h2m1 0h2m1 0h2m1 0h2m1 0h2m1 0h2m1 0h2m2 0h2m1 0h2m1 0h2m1 0h2m1 0h2m1 0h2m2 0h2m0 0h2m2 0h2m1 0h2m1 0h2m1 0h2m1 0h2m1 0h2m1 0h2m1 0h2m1 0h2m1 0h2m2 1h2m0 0h2m2 0h2m1 0h2m1 0h2m1 0h2m1 0h2m1 0h2m1 0h2m1 1h2m1 0h2m1 0h2m1 0h2m1 1h2m1 0h2m1 0h2m1 0h2m1 1h2m0 0h2m2 1h2m0 0h2m2 0h2m0 1h2m2 0h2m0 1h2m1 0h2m1 0h2m1 1h2m1 0h2m1 1h2m1 0h2m1 1h2m1 0h2m1 1h2m1 0h2m1 1h2m1 0h2m1 1h2m1 1h2m2 0h2m1 1h2m0 0h2m2 1h2m1 0h2m1 1h2m1 0h2m1 1h2m1 0h2m1 1h2m1 0h2m1 1h2m1 0h2m1 1h2m2 0h2m1 1h2m1 0h2m1 1h2m1 0h2m1 0h2m1 1h2m1 0h2m1 1h2m1 0h2m1 1h2m2 0h2m1 1h2m1 0h2m1 0h2m1 1h2m1 0h2m1 1h2m1 0h2m1 1h2m1 0h2m2 1h2m1 0h2m1 0h2m1 1h2m1 0h2m1 1h2m1 0h2m1 1h2m2 0h2m1 1h2m1 0h2m1 0h2m1 1h2m1 0h2m1 1h2m2 0h2m1 1h2m1 0h2m1 1h2m1 0h2m1 1h2m1 0h2m1 0h2m2 1h2m1 0h2m1 1h2m1 0h2m1 1h2m1 0h2m1 1h2m1 0h2m1 1h2m2 0h2m1 1h2m1 1h2m1 0h2m1 1h2m1 0h2m2 1h2m1 0h2m1 1h2m1 1h2m1 0h2m1 1h2m1 0h2m2 1h2m1 1h2m1 0h2m1 1h2m2 1h2m1 0h2m1 1h2m2 1h2m1 0h2m1 1h2m2 1h2m1 0h2m2 1h2m1 1h2m2 0h2m1 1h2m2 1h2m1 0h2m2 1h2m2 0h2m1 1h2m2 0h2m2 0h2m2 1h2m1 0h2m2 0h2m2 0h2m2 0h2m2 0h2m2 0h2m2 0h2m2 0h2m2-1h2m2 0h2m2-1h2m2-1h2m2-1h2m2-1h2m2-1h2m3-1h2m2-1h2m1-1h2m2-2h2m2-1h2m2-2h2m2-2h2m1-1h2m2-2h2m1-2h2m2-2h2m1-2h2m1-1h2m2-2h2m1-2h2m1-2h2m1-2h2m1-2h2m2-2h2m1-1h2m1-2h2m1-1h2m1-2h2m0-2h2m1-1h2m1-1h2m1-2h2m1-1h2m1-1h2m1-2h2m0-1h2m1-1h2m1-1h2m-1117 17h2m1-1h2m1 0h2m0-1h2m1 0h2m1-1h2m1 0h2m0-1h2m1 0h2m1-1h2m0 0h2m1-1h2m0 0h2m1-1h2m1 0h2m0-1h2m1 0h2m1-1h2m1 0h2m0-1h2m1 0h2m1-1h2m0 0h2m1-1h2m1 0h2m0-1h2m1 0h2m1 0h2m1-1h2m0 0h2m1-1h2m1 0h2m1 0h2m1-1h2m1 0h2m0 0h2m1 0h2m1 0h2m1 0h2m1 0h2m1-1h2m1 0h2m1 1h2m1 0h2m1 0h2m1 0h2m1 0h2m1 0h2m2 0h2m1 1h2m1 0h2m1 0h2m1 0h2m2 1h2m1 0h2m1 0h2m1 1h2m2 0h2m1 0h2m1 1h2m2 0h2m1 0h2m1 1h2m2 0h2m1 0h2m2 1h2m1 0h2m1 0h2m2 0h2m1 1h2m2 0h2m1 0h2m2 0h2m1 0h2m1 0h2m2 1h2m1 0h2m2 0h2m1 0h2m2 0h2m1 0h2m1 0h2m2 0h2m1 0h2m1-1h2m1 0h2m2 0h2m1 0h2m1 0h2m1 0h2m2 0h2m1 0h2m1-1h2m1 0h2m1 0h2m1 0h2m1 0h2m1 0h2m1-1h2m2 0h2m1 0h2m1 0h2m1 0h2m1 0h2m1 0h2m1-1h2m1 0h2m1 0h2m1 0h2m1 0h2m1 0h2m1 0h2m1 0h2m1 0h2m1 0h2m1 0h2m1 0h2m1 0h2m1 0h2m1 0h2m1 0h2m1 0h2m1 0h2m1 0h2m1 0h2m1 0h2m1 1h2m1 0h2m1 0h2m1 0h2m1 0h2m1 0h2m1 0h2m1 0h2m1 0h2m2 0h2m1 0h2m1 1h2m1 0h2m1 0h2m1 0h2m1 0h2m1 0h2m1 0h2m1 0h2m1 0h2m1 0h2m2 0h2m1 0h2m1 0h2m1 0h2m1 0h2m1 0h2m1 1h2m1 0h2m1 0h2m1 0h2m1 0h2m1 0h2m1 0h2m1 0h2m1 0h2m1 0h2m1 0h2m1 0h2m1 0h2m1 0h2m1 0h2m1 1h2m1 0h2m1 0h2m1 0h2m1 0h2m1 0h2m1 1h2m1 0h2m1 0h2m1 0h2m0 1h2m1 0h2m1 0h2m1 1h2m1 0h2m1 0h2m1 1h2m1 0h2m1 0h2m1 1h2m1 0h2m0 1h2m1 0h2m1 0h2m1 1h2m1 0h2m1 1h2m1 0h2m1 1h2m1 0h2m1 1h2m1 0h2m1 1h2m1 0h2m1 1h2m1 0h2m1 1h2m1 0h2m1 1h2m1 0h2m1 1h2m1 0h2m1 1h2m1 0h2m1 1h2m1 0h2m1 1h2m1 0h2m1 1h2m1 0h2m1 1h2m1 0h2m2 1h2m1 0h2m0 1h2m2 0h2m1 1h2m1 0h2m1 1h2m1 0h2m1 1h2m1 0h2m1 1h2m1 0h2m1 1h2m2 0h2m1 1h2m1 0h2m1 1h2m1 0h2m1 0h2m1 1h2m1 0h2m1 1h2m1 0h2m1 1h2m2 0h2m1 1h2m0 0h2m2 1h2m1 0h2m1 1h2m1 0h2m1 1h2m1 0h2m1 1h2m1 0h2m2 1h2m1 0h2m1 1h2m1 0h2m1 1h2m1 0h2m1 1h2m1 0h2m1 1h2m1 0h2m1 1h2m2 0h2m1 1h2m1 0h2m1 1h2m1 0h2m1 1h2m2 1h2m1 0h2m1 1h2m1 0h2m1 1h2m1 1h2m1 0h2m2 1h2m1 0h2m1 1h2m1 1h2m2 0h2m1 1h2m1 1h2m1 0h2m2 1h2m1 1h2m1 0h2m2 1h2m1 1h2m2 1h2m1 0h2m2 1h2m1 1h2m2 0h2m1 1h2m2 0h2m2 1h2m2 1h2m1 0h2m2 1h2m2 0h2m2 1h2m2 0h2m2 0h2m2 1h2m2 0h2m2 0h2m2 0h2m3 0h2m2 0h2m2 0h2m3-1h2m2 0h2m2 0h2m3-1h2m2-1h2m2 0h2m3-1h2m2-1h2m2-1h2m3-1h2m2-2h2m2-1h2m2-2h2m2-1h2m2-2h2m2-2h2m2-1h2m2-2h2m2-2h2m1-2h2m2-2h2m1-1h2m2-2h2m1-2h2m1-2h2m1-2h2m2-1h2m1-2h2m1-2h2m1-1h2m0-2h2m2-2h2m0-1h2m1-1h2m1-2h2m1-1h2m1-1h2m1-1h2m0-1h2m-1117 14h2m1-1h2m1 0h2m1-1h2m0-1h2m1 0h2m1-1h2m0-1h2m1 0h2m0-1h2m1 0h2m1-1h2m0 0h2m1-1h2m1 0h2m0-1h2m1 0h2m0-1h2m1 0h2m1-1h2m0 0h2m1-1h2m1 0h2m0-1h2m1 0h2m1-1h2m0 0h2m1-1h2m1 0h2m0 0h2m1-1h2m1 0h2m1-1h2m0 0h2m1 0h2m1 0h2m1-1h2m0 0h2m1 0h2m1 0h2m1 0h2m1 0h2m1-1h2m1 0h2m1 0h2m1 0h2m1 1h2m1 0h2m1 0h2m1 0h2m1 0h2m1 0h2m2 0h2m1 1h2m1 0h2m1 0h2m2 1h2m1 0h2m1 0h2m2 0h2m1 1h2m1 0h2m2 0h2m1 0h2m2 1h2m1 0h2m1 0h2m2 0h2m1 0h2m2 1h2m1 0h2m2 0h2m1 0h2m1 0h2m2 0h2m1 0h2m2 0h2m1 0h2m2 0h2m1 0h2m1 0h2m1 0h2m2 0h2m1 0h2m1 0h2m2 0h2m1 0h2m1 0h2m1 0h2m2-1h2m1 0h2m1 0h2m1 0h2m1 0h2m1 0h2m1-1h2m1 0h2m1 0h2m2 0h2m0 0h2m2 0h2m0-1h2m2 0h2m0 0h2m2 0h2m0 0h2m2 0h2m0 0h2m1 0h2m1-1h2m1 0h2m1 0h2m1 0h2m1 0h2m1 0h2m1 0h2m1 0h2m1 0h2m1 0h2m1 0h2m1 0h2m1 0h2m0 0h2m2 0h2m0 0h2m1 0h2m1 0h2m1 0h2m1 0h2m1 0h2m1 1h2m1 0h2m1 0h2m1 0h2m1 0h2m1 0h2m1 0h2m1 0h2m1 0h2m1 0h2m1 0h2m1 0h2m1 1h2m1 0h2m1 0h2m1 0h2m1 0h2m1 0h2m1 0h2m1 0h2m1 0h2m1 0h2m1 0h2m1 0h2m1 0h2m1 0h2m1 1h2m1 0h2m1 0h2m1 0h2m1 0h2m1 0h2m1 0h2m1 0h2m1 0h2m1 0h2m1 0h2m1 1h2m0 0h2m1 0h2m1 0h2m1 0h2m1 0h2m1 0h2m1 1h2m1 0h2m1 0h2m1 0h2m0 1h2m1 0h2m1 0h2m1 0h2m1 1h2m1 0h2m0 0h2m2 1h2m0 0h2m1 0h2m1 1h2m1 0h2m1 0h2m0 1h2m1 0h2m1 1h2m1 0h2m1 1h2m1 0h2m1 0h2m1 1h2m1 0h2m1 1h2m1 0h2m0 1h2m1 0h2m1 1h2m1 0h2m1 1h2m1 0h2m1 1h2m1 0h2m1 1h2m1 0h2m1 1h2m1 0h2m1 1h2m1 0h2m1 1h2m1 0h2m1 1h2m1 0h2m1 1h2m1 0h2m1 1h2m1 0h2m1 1h2m1 0h2m1 1h2m1 1h2m1 0h2m1 1h2m1 0h2m1 1h2m1 0h2m1 1h2m1 0h2m1 1h2m2 0h2m0 1h2m1 0h2m2 1h2m1 0h2m1 1h2m1 0h2m1 1h2m1 0h2m1 1h2m1 0h2m1 1h2m1 0h2m1 1h2m1 0h2m1 1h2m1 0h2m2 1h2m0 0h2m1 1h2m2 0h2m1 1h2m1 0h2m1 1h2m1 0h2m1 1h2m1 0h2m1 1h2m1 1h2m1 0h2m1 1h2m2 0h2m1 1h2m1 0h2m1 1h2m1 1h2m1 0h2m1 1h2m2 0h2m1 1h2m1 1h2m1 0h2m1 1h2m1 1h2m1 0h2m2 1h2m1 0h2m1 1h2m1 1h2m2 0h2m1 1h2m1 1h2m2 1h2m1 0h2m2 1h2m1 1h2m1 0h2m2 1h2m1 1h2m2 0h2m1 1h2m2 1h2m2 0h2m2 1h2m1 1h2m2 0h2m2 1h2m2 0h2m2 1h2m2 0h2m2 1h2m2 0h2m2 1h2m2 0h2m3 0h2m2 0h2m3 0h2m2 1h2m2 0h2m3-1h2m3 0h2m2 0h2m3 0h2m2-1h2m3 0h2m3-1h2m3-1h2m2-1h2m3-1h2m2-1h2m3-1h2m3-1h2m2-2h2m2-1h2m3-2h2m2-1h2m2-2h2m2-1h2m2-2h2m2-2h2m1-2h2m2-2h2m1-1h2m2-2h2m2-2h2m1-2h2m1-1h2m2-2h2m1-2h2m1-1h2m1-2h2m1-2h2m1-1h2m1-2h2m1-1h2m1-1h2m0-2h2m-1117 15h2m1-2h2m1-1h2m0-1h2m1-1h2m1 0h2m0-1h2m1-1h2m1-1h2m0-1h2m1 0h2m1-1h2m0-1h2m1 0h2m1-1h2m0-1h2m1 0h2m1-1h2m0 0h2m1-1h2m0 0h2m1-1h2m1 0h2m0-1h2m1 0h2m1-1h2m0 0h2m1 0h2m0-1h2m1 0h2m1-1h2m1 0h2m0 0h2m1-1h2m1 0h2m1 0h2m0 0h2m1-1h2m1 0h2m1 0h2m1 0h2m1 0h2m0 0h2m2 0h2m0 0h2m2 0h2m0 0h2m2 0h2m0 0h2m2 0h2m1 0h2m1 0h2m1 0h2m1 0h2m1 1h2m2 0h2m1 0h2m1 0h2m2 0h2m1 0h2m1 1h2m1 0h2m2 0h2m1 0h2m2 0h2m1 0h2m2 1h2m1 0h2m1 0h2m2 0h2m1 0h2m2 0h2m1 0h2m2 0h2m1 0h2m1 0h2m2 0h2m1 0h2m1 0h2m2 0h2m1 0h2m1 0h2m2 0h2m1 0h2m1-1h2m1 0h2m1 0h2m2 0h2m1 0h2m1 0h2m1-1h2m1 0h2m1 0h2m1 0h2m1 0h2m2 0h2m0-1h2m2 0h2m0 0h2m2 0h2m0 0h2m1-1h2m1 0h2m1 0h2m1 0h2m1 0h2m1 0h2m1 0h2m1-1h2m1 0h2m0 0h2m1 0h2m1 0h2m1 0h2m1 0h2m1 0h2m1 0h2m1 0h2m0 0h2m1 0h2m1 0h2m1 0h2m1 0h2m1 0h2m1 0h2m0 0h2m1 0h2m1 0h2m1 0h2m1 0h2m1 0h2m1 0h2m1 0h2m0 0h2m1 0h2m1 0h2m1 0h2m1 0h2m1 0h2m1 0h2m1 0h2m1 0h2m1 1h2m1 0h2m0 0h2m1 0h2m1 0h2m1 0h2m1 0h2m1 0h2m1 0h2m1 0h2m1 0h2m1 0h2m1 1h2m1 0h2m0 0h2m1 0h2m1 0h2m1 0h2m1 0h2m1 0h2m1 0h2m1 0h2m1 0h2m1 1h2m0 0h2m1 0h2m1 0h2m1 0h2m1 0h2m1 0h2m1 1h2m0 0h2m1 0h2m1 0h2m1 0h2m1 1h2m1 0h2m0 0h2m1 0h2m1 1h2m1 0h2m0 0h2m1 0h2m1 1h2m1 0h2m1 0h2m1 1h2m0 0h2m1 0h2m1 1h2m1 0h2m1 0h2m0 1h2m1 0h2m1 1h2m1 0h2m1 1h2m1 0h2m0 0h2m1 1h2m1 0h2m1 1h2m1 0h2m0 1h2m1 0h2m1 1h2m1 0h2m1 1h2m1 0h2m1 1h2m1 0h2m1 1h2m1 0h2m0 1h2m1 0h2m1 1h2m1 0h2m1 1h2m1 0h2m1 1h2m1 0h2m1 1h2m1 0h2m1 1h2m1 0h2m1 1h2m1 1h2m1 0h2m1 1h2m1 0h2m1 1h2m1 0h2m1 1h2m1 0h2m1 1h2m1 0h2m0 1h2m2 0h2m1 1h2m0 0h2m2 1h2m1 1h2m0 0h2m2 1h2m1 0h2m1 1h2m1 0h2m1 1h2m1 0h2m1 1h2m1 0h2m1 1h2m1 1h2m1 0h2m1 1h2m1 0h2m1 1h2m1 0h2m1 1h2m1 0h2m1 1h2m1 1h2m1 0h2m2 1h2m1 0h2m1 1h2m1 1h2m1 0h2m1 1h2m1 0h2m1 1h2m1 1h2m1 0h2m2 1h2m1 0h2m1 1h2m1 1h2m1 0h2m1 1h2m1 1h2m2 0h2m1 1h2m1 1h2m1 0h2m2 1h2m1 1h2m2 1h2m1 0h2m1 1h2m2 1h2m1 0h2m2 1h2m1 1h2m2 0h2m1 1h2m2 1h2m2 1h2m1 0h2m2 1h2m2 0h2m2 1h2m2 1h2m2 0h2m2 1h2m2 0h2m2 1h2m2 0h2m2 1h2m3 0h2m2 1h2m3 0h2m2 0h2m3 0h2m3 0h2m2 0h2m3 0h2m3 0h2m2 0h2m3 0h2m3 0h2m3-1h2m3 0h2m3-1h2m3-1h2m3 0h2m2-1h2m3-1h2m3-1h2m3-1h2m2-2h2m3-1h2m2-1h2m3-2h2m2-1h2m2-2h2m2-1h2m3-2h2m1-2h2m2-1h2m2-2h2m2-2h2m1-1h2m2-2h2m1-2h2m2-2h2m1-1h2m1-2h2m1-1h2m1-2h2m2-2h2m1-1h2m-1117 15h2m1-1h2m1-1h2m0-1h2m1-2h2m1-1h2m1-1h2m1-1h2m0-1h2m1-1h2m1-1h2m1-1h2m0-1h2m1 0h2m0-1h2m1-1h2m1-1h2m1 0h2m0-1h2m1-1h2m1 0h2m0-1h2m1-1h2m1 0h2m0-1h2m1 0h2m0-1h2m1 0h2m1-1h2m1 0h2m0 0h2m1-1h2m1 0h2m1 0h2m0-1h2m1 0h2m1 0h2m1-1h2m1 0h2m1 0h2m1 0h2m0 0h2m1 0h2m1 0h2m1-1h2m1 0h2m1 0h2m2 0h2m0 0h2m2 0h2m1 0h2m1 0h2m1 0h2m1 0h2m1 0h2m1 0h2m2 0h2m1 0h2m1 1h2m2 0h2m1 0h2m1 0h2m2 0h2m1 0h2m1 0h2m2 0h2m1 0h2m1 0h2m2 0h2m1 0h2m1 0h2m2 0h2m1 0h2m2 0h2m1-1h2m1 0h2m1 0h2m1 0h2m2 0h2m1 0h2m1 0h2m2 0h2m1-1h2m1 0h2m1 0h2m1 0h2m2 0h2m1-1h2m1 0h2m1 0h2m1 0h2m1 0h2m1-1h2m1 0h2m1 0h2m1 0h2m1 0h2m1-1h2m0 0h2m2 0h2m0 0h2m1-1h2m1 0h2m1 0h2m1 0h2m1 0h2m0 0h2m1-1h2m1 0h2m1 0h2m1 0h2m1 0h2m0 0h2m1 0h2m1-1h2m1 0h2m1 0h2m0 0h2m1 0h2m1 0h2m1 0h2m0 0h2m1 0h2m1 0h2m1 0h2m0 0h2m1 0h2m1 0h2m1 0h2m1 0h2m0 0h2m1 0h2m1 0h2m1 0h2m1 0h2m0 0h2m1 0h2m1 0h2m1 0h2m0 0h2m1 0h2m1 0h2m1 0h2m1 0h2m0 0h2m1 0h2m1 1h2m1 0h2m1 0h2m1 0h2m0 0h2m1 0h2m1 0h2m1 0h2m1 0h2m1 0h2m0 0h2m1 0h2m1 1h2m1 0h2m0 0h2m1 0h2m1 0h2m1 0h2m1 0h2m1 0h2m1 1h2m0 0h2m1 0h2m1 0h2m1 0h2m0 0h2m1 0h2m1 1h2m1 0h2m0 0h2m1 0h2m1 0h2m1 1h2m0 0h2m1 0h2m1 0h2m1 1h2m0 0h2m1 0h2m1 0h2m1 1h2m0 0h2m1 0h2m1 1h2m0 0h2m1 0h2m1 1h2m1 0h2m0 0h2m1 1h2m1 0h2m1 0h2m0 1h2m1 0h2m1 1h2m1 0h2m1 1h2m0 0h2m1 0h2m1 1h2m0 0h2m1 1h2m1 0h2m1 1h2m1 0h2m0 1h2m1 0h2m1 1h2m1 0h2m1 1h2m0 0h2m2 1h2m0 0h2m1 1h2m1 0h2m1 1h2m1 0h2m1 1h2m0 0h2m1 1h2m1 0h2m1 1h2m1 1h2m1 0h2m1 1h2m1 0h2m0 1h2m2 0h2m0 1h2m1 0h2m1 1h2m1 0h2m1 1h2m1 1h2m1 0h2m1 1h2m1 0h2m1 1h2m1 0h2m1 1h2m1 1h2m1 0h2m1 1h2m1 0h2m1 1h2m1 0h2m0 1h2m2 1h2m1 0h2m0 1h2m2 0h2m1 1h2m0 0h2m2 1h2m1 1h2m0 0h2m2 1h2m1 1h2m1 0h2m0 1h2m2 0h2m1 1h2m1 1h2m1 0h2m1 1h2m1 1h2m1 0h2m1 1h2m1 0h2m1 1h2m2 1h2m1 0h2m1 1h2m1 1h2m1 0h2m1 1h2m1 1h2m2 0h2m1 1h2m1 1h2m2 1h2m1 0h2m1 1h2m2 1h2m1 0h2m1 1h2m2 1h2m1 1h2m2 0h2m1 1h2m2 1h2m2 0h2m1 1h2m2 1h2m2 1h2m2 0h2m1 1h2m2 0h2m3 1h2m2 1h2m2 0h2m2 1h2m2 0h2m2 1h2m3 0h2m2 1h2m3 0h2m2 1h2m3 0h2m2 0h2m3 1h2m3 0h2m3 0h2m3 0h2m3 0h2m2 0h2m3 0h2m3 0h2m3-1h2m4 0h2m3 0h2m3-1h2m3 0h2m3-1h2m3-1h2m3-1h2m3-1h2m3-1h2m2-1h2m3-1h2m3-1h2m3-1h2m2-1h2m2-2h2m3-1h2m2-2h2m2-1h2m2-1h2m2-2h2m2-2h2m2-1h2m2-2h2m1-1h2m2-2h2m2-1h2m1-2h2m1-1h2m2-2h2m-1116 17h2m1-1h2m1-1h2m1-2h2m1-1h2m2-1h2m0-1h2m1-1h2m1-1h2m1-1h2m1-1h2m1-1h2m1-1h2m1-1h2m0-1h2m1-1h2m1-1h2m1-1h2m1-1h2m0 0h2m1-1h2m1-1h2m1-1h2m0 0h2m1-1h2m1-1h2m1 0h2m0-1h2m1 0h2m1-1h2m1 0h2m1-1h2m1 0h2m1-1h2m0 0h2m1 0h2m1-1h2m1 0h2m1 0h2m1-1h2m1 0h2m1 0h2m1 0h2m1-1h2m1 0h2m1 0h2m1 0h2m1 0h2m1-1h2m1 0h2m2 0h2m1 0h2m1 0h2m1 0h2m1 0h2m1-1h2m2 0h2m1 0h2m1 0h2m1 0h2m1 0h2m2 0h2m1-1h2m1 0h2m2 0h2m1 0h2m1 0h2m1 0h2m2 0h2m1-1h2m1 0h2m1 0h2m2 0h2m1 0h2m1-1h2m1 0h2m1 0h2m1 0h2m2-1h2m1 0h2m1 0h2m1 0h2m1-1h2m1 0h2m1 0h2m1 0h2m1-1h2m1 0h2m1 0h2m1-1h2m1 0h2m1 0h2m1 0h2m1-1h2m0 0h2m2 0h2m0 0h2m1-1h2m1 0h2m1 0h2m0 0h2m1-1h2m1 0h2m1 0h2m0 0h2m1-1h2m1 0h2m1 0h2m0 0h2m1 0h2m1-1h2m1 0h2m0 0h2m1 0h2m1 0h2m0 0h2m1 0h2m1-1h2m0 0h2m1 0h2m1 0h2m0 0h2m1 0h2m1 0h2m0 0h2m1 0h2m1 0h2m0 0h2m1 0h2m1 0h2m0 0h2m1 0h2m1 0h2m0 0h2m1 0h2m1 0h2m0 0h2m1 0h2m1 0h2m0 0h2m1 0h2m1 0h2m0 0h2m1 0h2m1 0h2m1 0h2m0 0h2m1 0h2m1 0h2m0 0h2m1 0h2m1 0h2m1 1h2m0 0h2m1 0h2m1 0h2m0 0h2m1 0h2m1 0h2m1 0h2m0 0h2m1 0h2m1 1h2m0 0h2m1 0h2m1 0h2m0 0h2m1 0h2m1 0h2m0 1h2m1 0h2m1 0h2m1 0h2m0 0h2m1 0h2m0 1h2m1 0h2m1 0h2m1 0h2m0 1h2m1 0h2m0 0h2m1 0h2m1 1h2m1 0h2m0 0h2m1 0h2m1 1h2m0 0h2m1 0h2m0 1h2m1 0h2m1 0h2m1 1h2m0 0h2m1 0h2m0 1h2m1 0h2m1 0h2m0 1h2m1 0h2m1 1h2m1 0h2m0 0h2m1 1h2m0 0h2m1 1h2m1 0h2m1 1h2m0 0h2m1 1h2m1 0h2m0 0h2m1 1h2m1 1h2m1 0h2m0 0h2m1 1h2m1 0h2m1 1h2m0 1h2m1 0h2m1 1h2m1 0h2m0 1h2m1 0h2m1 1h2m1 0h2m1 1h2m0 0h2m1 1h2m1 0h2m1 1h2m1 1h2m1 0h2m0 1h2m1 0h2m1 1h2m1 0h2m1 1h2m1 1h2m0 0h2m1 1h2m1 0h2m1 1h2m1 0h2m1 1h2m1 1h2m1 0h2m1 1h2m0 0h2m1 1h2m1 1h2m1 0h2m1 1h2m1 0h2m1 1h2m1 1h2m1 0h2m1 1h2m1 1h2m1 0h2m1 1h2m1 1h2m1 0h2m1 1h2m1 0h2m0 1h2m2 1h2m1 0h2m1 1h2m1 1h2m1 0h2m1 1h2m1 1h2m1 0h2m1 1h2m1 1h2m1 0h2m2 1h2m1 1h2m1 1h2m1 0h2m1 1h2m2 1h2m1 0h2m1 1h2m1 1h2m2 1h2m1 0h2m2 1h2m1 1h2m1 1h2m2 0h2m2 1h2m1 1h2m2 0h2m2 1h2m1 1h2m2 1h2m2 0h2m2 1h2m2 1h2m2 0h2m2 1h2m2 1h2m2 0h2m2 1h2m2 0h2m3 1h2m2 1h2m3 0h2m2 1h2m3 0h2m3 0h2m2 1h2m3 0h2m3 1h2m3 0h2m3 0h2m3 0h2m3 0h2m3 0h2m3 0h2m4 0h2m3 0h2m3 0h2m3 0h2m3-1h2m4 0h2m3 0h2m3-1h2m3 0h2m4-1h2m3-1h2m3-1h2m3 0h2m3-1h2m3-1h2m2-1h2m3-1h2m3-1h2m3-1h2m2-2h2m2-1h2m3-1h2m2-1h2m2-2h2m2-1h2m2-1h2m2-2h2m2-1h2m2-1h2m1-2h2m-1117 19h2m2-1h2m1-1h2m2-1h2m1-1h2m2-1h2m1-2h2m1-1h2m2-1h2m1-1h2m1-1h2m1-1h2m1-1h2m2-1h2m1-1h2m1-1h2m1-1h2m1 0h2m1-1h2m1-1h2m1-1h2m1-1h2m1-1h2m1 0h2m1-1h2m1-1h2m1-1h2m1 0h2m0-1h2m2-1h2m0 0h2m1-1h2m1-1h2m1 0h2m1-1h2m1 0h2m1-1h2m1 0h2m1-1h2m1 0h2m1-1h2m1 0h2m1-1h2m2 0h2m1 0h2m0-1h2m2 0h2m1-1h2m1 0h2m1 0h2m1-1h2m1 0h2m1 0h2m2-1h2m1 0h2m1 0h2m1-1h2m1 0h2m1 0h2m1-1h2m2 0h2m1-1h2m1 0h2m1 0h2m1-1h2m1 0h2m1 0h2m2-1h2m1 0h2m1 0h2m1-1h2m1 0h2m1 0h2m1-1h2m1 0h2m1-1h2m1 0h2m1 0h2m1-1h2m1 0h2m1 0h2m1-1h2m1 0h2m1 0h2m1-1h2m1 0h2m0-1h2m1 0h2m1 0h2m1-1h2m1 0h2m0 0h2m1-1h2m1 0h2m1 0h2m0-1h2m1 0h2m1 0h2m1-1h2m0 0h2m1 0h2m1 0h2m0-1h2m1 0h2m1 0h2m0-1h2m1 0h2m0 0h2m1 0h2m1-1h2m0 0h2m1 0h2m0 0h2m1 0h2m0 0h2m1-1h2m1 0h2m0 0h2m1 0h2m0 0h2m1 0h2m0-1h2m1 0h2m0 0h2m1 0h2m1 0h2m0 0h2m1 0h2m0 0h2m1 0h2m0 0h2m1 0h2m1 0h2m0-1h2m1 0h2m0 0h2m1 0h2m0 0h2m1 0h2m1 0h2m0 0h2m1 0h2m0 0h2m1 0h2m0 0h2m1 1h2m1 0h2m0 0h2m1 0h2m0 0h2m1 0h2m0 0h2m1 0h2m1 0h2m0 0h2m1 0h2m0 0h2m1 0h2m0 0h2m1 1h2m1 0h2m0 0h2m1 0h2m0 0h2m1 0h2m0 0h2m1 0h2m1 1h2m0 0h2m1 0h2m0 0h2m1 0h2m0 0h2m1 1h2m1 0h2m0 0h2m1 0h2m0 0h2m1 1h2m0 0h2m1 0h2m1 0h2m0 0h2m1 1h2m0 0h2m1 0h2m0 0h2m1 1h2m1 0h2m0 0h2m1 1h2m0 0h2m1 0h2m0 1h2m1 0h2m1 0h2m0 1h2m1 0h2m0 0h2m1 1h2m0 0h2m1 0h2m0 1h2m1 0h2m1 1h2m0 0h2m1 1h2m0 0h2m1 0h2m0 1h2m1 0h2m1 1h2m1 0h2m0 1h2m1 0h2m0 1h2m1 0h2m1 1h2m0 0h2m1 1h2m0 0h2m1 1h2m1 0h2m0 1h2m1 0h2m1 1h2m1 0h2m0 1h2m1 0h2m1 1h2m0 0h2m1 1h2m1 0h2m0 1h2m1 1h2m1 0h2m0 1h2m1 0h2m1 1h2m1 0h2m1 1h2m0 1h2m1 0h2m1 1h2m1 0h2m0 1h2m1 1h2m1 0h2m1 1h2m1 0h2m0 1h2m1 1h2m1 0h2m1 1h2m0 1h2m2 0h2m0 1h2m1 0h2m1 1h2m1 1h2m1 0h2m0 1h2m2 1h2m0 0h2m1 1h2m1 1h2m1 0h2m1 1h2m1 1h2m1 0h2m1 1h2m1 1h2m1 0h2m1 1h2m1 1h2m1 1h2m1 0h2m1 1h2m1 1h2m1 0h2m1 1h2m2 1h2m1 1h2m1 0h2m1 1h2m1 1h2m2 0h2m1 1h2m1 1h2m2 1h2m1 0h2m2 1h2m1 1h2m1 1h2m2 0h2m1 1h2m2 1h2m2 1h2m2 0h2m1 1h2m2 1h2m2 1h2m2 0h2m2 1h2m2 1h2m2 0h2m2 1h2m2 1h2m2 0h2m3 1h2m2 1h2m3 0h2m2 1h2m3 0h2m3 1h2m2 0h2m3 1h2m3 0h2m3 1h2m3 0h2m3 0h2m4 1h2m3 0h2m3 0h2m3 0h2m4 0h2m3 1h2m4 0h2m3 0h2m4-1h2m3 0h2m4 0h2m3 0h2m3 0h2m4-1h2m3 0h2m4-1h2m3 0h2m3-1h2m4 0h2m3-1h2m3-1h2m3 0h2m3-1h2m3-1h2m3-1h2m3-1h2m2-1h2m3-1h2m3-1h2m2-1h2m3-1h2m2-1h2m2-1h2m2-1h2m-1113 18h2m2-1h2m2-1h2m2-1h2m2-1h2m2-1h2m1-1h2m2-1h2m2 0h2m1-1h2m2-1h2m2-1h2m1-1h2m2-1h2m1-1h2m1-1h2m2-1h2m1-1h2m1-1h2m2 0h2m1-1h2m1-1h2m2-1h2m1-1h2m1-1h2m1 0h2m1-1h2m2-1h2m1-1h2m1 0h2m1-1h2m1-1h2m1-1h2m1 0h2m1-1h2m2-1h2m1 0h2m1-1h2m1-1h2m1 0h2m1-1h2m1-1h2m1 0h2m1-1h2m1 0h2m1-1h2m2-1h2m1 0h2m1-1h2m1 0h2m1-1h2m1-1h2m1 0h2m1-1h2m1 0h2m1-1h2m1 0h2m1-1h2m2 0h2m0-1h2m1 0h2m2-1h2m0-1h2m1 0h2m1-1h2m1 0h2m1-1h2m1 0h2m1-1h2m1 0h2m1-1h2m1 0h2m1-1h2m1 0h2m1-1h2m0 0h2m1-1h2m1 0h2m1-1h2m1 0h2m0-1h2m1 0h2m1-1h2m0 0h2m1-1h2m1 0h2m1 0h2m0-1h2m1 0h2m0-1h2m1 0h2m1-1h2m0 0h2m1 0h2m0-1h2m1 0h2m1-1h2m0 0h2m1 0h2m0-1h2m1 0h2m0 0h2m1-1h2m0 0h2m1 0h2m0-1h2m1 0h2m0 0h2m0 0h2m1-1h2m1 0h2m0 0h2m1 0h2m0-1h2m0 0h2m1 0h2m0 0h2m1-1h2m0 0h2m1 0h2m0 0h2m0 0h2m1 0h2m0-1h2m1 0h2m0 0h2m0 0h2m1 0h2m0 0h2m1 0h2m0 0h2m1 0h2m0-1h2m0 0h2m1 0h2m0 0h2m1 0h2m0 0h2m0 0h2m1 0h2m0 0h2m1 0h2m0 0h2m1 0h2m0 0h2m0 0h2m1 0h2m0 0h2m1 0h2m0 0h2m1 0h2m0 0h2m0 0h2m1 0h2m0 0h2m1 1h2m0 0h2m1 0h2m0 0h2m1 0h2m0 0h2m1 0h2m0 0h2m0 0h2m1 0h2m0 1h2m1 0h2m0 0h2m1 0h2m0 0h2m1 0h2m0 0h2m0 1h2m1 0h2m0 0h2m1 0h2m0 0h2m1 1h2m0 0h2m0 0h2m1 0h2m0 1h2m1 0h2m0 0h2m1 0h2m0 0h2m1 1h2m0 0h2m0 0h2m1 1h2m0 0h2m1 0h2m0 0h2m1 1h2m0 0h2m1 0h2m0 1h2m1 0h2m0 0h2m0 1h2m1 0h2m0 1h2m1 0h2m0 0h2m1 1h2m0 0h2m1 1h2m0 0h2m0 0h2m1 1h2m0 0h2m1 1h2m0 0h2m1 1h2m0 0h2m1 0h2m0 1h2m1 0h2m1 1h2m0 0h2m1 1h2m0 0h2m1 1h2m0 0h2m1 1h2m0 0h2m1 1h2m0 0h2m1 1h2m1 1h2m0 0h2m0 1h2m1 0h2m1 1h2m0 0h2m1 1h2m0 0h2m1 1h2m1 1h2m0 0h2m1 1h2m1 0h2m0 1h2m1 1h2m1 0h2m0 1h2m1 0h2m0 1h2m1 1h2m1 0h2m1 1h2m0 0h2m1 1h2m1 1h2m0 0h2m1 1h2m1 1h2m1 0h2m1 1h2m0 1h2m1 0h2m1 1h2m1 1h2m0 0h2m1 1h2m1 1h2m1 0h2m1 1h2m0 1h2m1 0h2m1 1h2m1 1h2m1 1h2m1 0h2m1 1h2m1 1h2m1 0h2m1 1h2m1 1h2m1 1h2m1 0h2m1 1h2m1 1h2m1 1h2m1 0h2m2 1h2m1 1h2m1 1h2m1 0h2m2 1h2m1 1h2m1 1h2m2 0h2m1 1h2m2 1h2m1 1h2m2 1h2m2 0h2m1 1h2m2 1h2m2 1h2m2 0h2m2 1h2m2 1h2m2 1h2m2 0h2m2 1h2m3 1h2m2 0h2m2 1h2m3 1h2m2 0h2m3 1h2m2 1h2m3 0h2m3 1h2m3 0h2m3 1h2m3 0h2m4 1h2m3 0h2m3 1h2m4 0h2m3 0h2m4 1h2m3 0h2m4 0h2m4 0h2m3 1h2m4 0h2m4 0h2m4 0h2m4 0h2m3 0h2m4-1h2m4 0h2m4 0h2m4 0h2m4 0h2m4-1h2m4 0h2m3-1h2m4 0h2m3-1h2m4 0h2m3-1h2m4 0h2m3-1h2m3-1h2m3 0h2m3-1h2m3-1h2m3-1h2m3-1h2m3-1h2m-1112 18h2m2 0h2m3-1h2m3-1h2m2-1h2m3-1h2m2-1h2m3 0h2m2-1h2m2-1h2m2-1h2m2-1h2m2-1h2m2 0h2m2-1h2m2-1h2m2-1h2m2-1h2m1-1h2m2-1h2m1 0h2m2-1h2m1-1h2m2-1h2m1-1h2m2-1h2m1 0h2m2-1h2m1-1h2m1-1h2m2-1h2m1-1h2m1 0h2m2-1h2m1-1h2m1-1h2m1-1h2m1 0h2m1-1h2m2-1h2m1-1h2m1 0h2m1-1h2m1-1h2m1-1h2m1 0h2m1-1h2m1-1h2m1-1h2m1 0h2m1-1h2m1-1h2m1-1h2m1 0h2m1-1h2m1-1h2m1 0h2m1-1h2m0-1h2m1 0h2m1-1h2m1-1h2m1 0h2m0-1h2m1-1h2m1 0h2m1-1h2m1-1h2m0 0h2m1-1h2m1-1h2m0 0h2m1-1h2m1-1h2m0 0h2m1-1h2m1 0h2m0-1h2m1-1h2m0 0h2m1-1h2m0 0h2m1-1h2m0 0h2m1-1h2m0 0h2m1-1h2m0 0h2m1-1h2m0 0h2m1-1h2m0 0h2m1-1h2m0 0h2m0-1h2m1 0h2m0-1h2m0 0h2m1-1h2m0 0h2m1 0h2m0-1h2m0 0h2m1-1h2m0 0h2m0 0h2m1-1h2m0 0h2m0 0h2m1-1h2m0 0h2m0 0h2m0 0h2m1-1h2m0 0h2m0 0h2m1-1h2m0 0h2m0 0h2m0 0h2m1 0h2m0-1h2m0 0h2m1 0h2m0 0h2m0 0h2m0-1h2m0 0h2m1 0h2m0 0h2m0 0h2m1 0h2m0 0h2m0 0h2m1-1h2m0 0h2m0 0h2m0 0h2m0 0h2m1 0h2m0 0h2m0 0h2m1 0h2m0 0h2m0 0h2m0 0h2m1 0h2m0 0h2m0 0h2m1 0h2m0 0h2m0 0h2m0 0h2m1 0h2m0 0h2m0 0h2m0 0h2m1 0h2m0 0h2m0 0h2m1 0h2m0 0h2m0 1h2m1 0h2m0 0h2m0 0h2m1 0h2m0 0h2m0 0h2m0 0h2m1 0h2m0 1h2m0 0h2m0 0h2m1 0h2m0 0h2m0 0h2m1 1h2m0 0h2m0 0h2m0 0h2m1 0h2m0 1h2m0 0h2m1 0h2m0 0h2m0 1h2m1 0h2m0 0h2m0 0h2m1 1h2m0 0h2m0 0h2m0 1h2m1 0h2m0 0h2m0 1h2m1 0h2m0 0h2m0 1h2m0 0h2m1 0h2m0 1h2m0 0h2m1 0h2m0 1h2m0 0h2m1 0h2m0 1h2m0 0h2m1 1h2m0 0h2m0 0h2m1 1h2m0 0h2m0 1h2m1 0h2m0 1h2m0 0h2m1 1h2m0 0h2m1 1h2m0 0h2m0 0h2m1 1h2m0 1h2m1 0h2m0 0h2m0 1h2m1 1h2m0 0h2m1 1h2m0 0h2m0 1h2m1 0h2m0 1h2m1 0h2m0 1h2m1 0h2m0 1h2m1 1h2m0 0h2m0 1h2m1 0h2m0 1h2m1 1h2m0 0h2m1 1h2m0 0h2m1 1h2m0 1h2m1 0h2m0 1h2m1 1h2m1 0h2m0 1h2m1 0h2m0 1h2m1 1h2m0 0h2m1 1h2m1 1h2m0 0h2m1 1h2m1 1h2m0 0h2m1 1h2m1 1h2m0 1h2m1 0h2m1 1h2m1 1h2m0 0h2m1 1h2m1 1h2m1 0h2m1 1h2m0 1h2m1 1h2m1 0h2m1 1h2m1 1h2m1 1h2m1 0h2m1 1h2m1 1h2m1 1h2m1 1h2m1 0h2m1 1h2m2 1h2m1 1h2m1 0h2m2 1h2m1 1h2m1 1h2m2 1h2m1 0h2m2 1h2m2 1h2m1 1h2m2 1h2m2 0h2m2 1h2m2 1h2m2 1h2m2 0h2m2 1h2m2 1h2m2 1h2m3 0h2m2 1h2m3 1h2m3 1h2m2 0h2m3 1h2m3 0h2m3 1h2m4 1h2m3 0h2m3 1h2m4 0h2m3 1h2m4 0h2m4 1h2m4 0h2m4 1h2m4 0h2m4 0h2m4 1h2m4 0h2m5 0h2m4 0h2m5 1h2m4 0h2m5 0h2m5 0h2m4 0h2m5 0h2m4 0h2m5 0h2m5-1h2m4 0h2m4 0h2m5 0h2m4-1h2m4 0h2m5-1h2m4 0h2m4-1h2m4 0h2m4-1h2m3 0h2m4-1h2m4 0h2m3-1h2m-1112 17h2m4 0h2m4-1h2m4-1h2m4 0h2m3-1h2m3-1h2m3-1h2m3 0h2m3-1h2m3-1h2m3-1h2m3-1h2m2 0h2m3-1h2m2-1h2m2-1h2m3-1h2m2-1h2m2 0h2m2-1h2m1-1h2m2-1h2m2-1h2m2-1h2m1-1h2m2 0h2m1-1h2m2-1h2m1-1h2m2-1h2m1-1h2m1-1h2m1 0h2m2-1h2m1-1h2m1-1h2m1-1h2m1-1h2m1-1h2m1 0h2m1-1h2m1-1h2m1-1h2m1-1h2m1-1h2m1 0h2m1-1h2m1-1h2m0-1h2m1-1h2m1-1h2m1 0h2m1-1h2m0-1h2m1-1h2m1-1h2m1 0h2m0-1h2m1-1h2m0-1h2m1 0h2m1-1h2m0-1h2m0-1h2m1 0h2m1-1h2m0-1h2m0 0h2m1-1h2m1-1h2m0-1h2m0 0h2m1-1h2m0-1h2m0 0h2m1-1h2m0-1h2m1 0h2m0-1h2m0-1h2m1 0h2m0-1h2m0 0h2m0-1h2m1-1h2m0 0h2m0-1h2m1 0h2m0-1h2m0 0h2m0-1h2m1 0h2m0-1h2m0 0h2m0-1h2m0 0h2m0-1h2m0 0h2m1-1h2m0 0h2m0-1h2m0 0h2m0-1h2m0 0h2m1 0h2m0-1h2m0 0h2m0-1h2m0 0h2m0 0h2m0-1h2m0 0h2m0 0h2m1-1h2m0 0h2m0 0h2m0-1h2m0 0h2m0 0h2m0 0h2m0-1h2m0 0h2m0 0h2m1 0h2m0-1h2m0 0h2m0 0h2m0 0h2m0 0h2m0-1h2m0 0h2m0 0h2m0 0h2m0 0h2m0 0h2m1 0h2m0-1h2m0 0h2m0 0h2m0 0h2m0 0h2m0 0h2m0 0h2m0 0h2m0 0h2m0 0h2m1 0h2m-1 0h2m1 0h2m0 0h2m0 0h2m0 0h2m0 0h2m0 0h2m0 0h2m1 0h2m-1 0h2m1 0h2m0 0h2m0 0h2m0 0h2m0 0h2m0 0h2m0 0h2m1 0h2m-1 0h2m1 0h2m0 0h2m0 0h2m0 1h2m0 0h2m0 0h2m0 0h2m0 0h2m1 0h2m0 0h2m0 1h2m0 0h2m0 0h2m0 0h2m0 0h2m0 0h2m0 1h2m1 0h2m0 0h2m0 0h2m0 1h2m0 0h2m0 0h2m0 0h2m1 1h2m-1 0h2m1 0h2m0 0h2m0 1h2m0 0h2m0 0h2m0 0h2m1 1h2m0 0h2m0 0h2m0 1h2m0 0h2m0 0h2m0 1h2m1 0h2m0 0h2m0 1h2m0 0h2m0 1h2m0 0h2m0 0h2m0 1h2m1 0h2m0 0h2m0 1h2m0 0h2m0 1h2m0 0h2m1 1h2m0 0h2m0 0h2m0 1h2m1 0h2m0 1h2m0 0h2m0 1h2m0 0h2m0 1h2m1 0h2m0 1h2m0 0h2m0 1h2m1 0h2m0 1h2m0 0h2m0 1h2m0 0h2m1 1h2m0 1h2m0 0h2m0 1h2m1 0h2m0 1h2m0 0h2m1 1h2m0 0h2m0 1h2m0 1h2m1 0h2m0 1h2m0 0h2m1 1h2m0 1h2m0 0h2m0 1h2m1 1h2m0 0h2m1 1h2m0 0h2m0 1h2m1 1h2m0 0h2m1 1h2m0 1h2m1 0h2m0 1h2m0 1h2m1 1h2m0 0h2m1 1h2m0 1h2m1 0h2m0 1h2m1 1h2m0 0h2m1 1h2m1 1h2m0 1h2m1 0h2m1 1h2m0 1h2m1 1h2m1 0h2m0 1h2m1 1h2m1 1h2m1 0h2m0 1h2m2 1h2m1 1h2m0 1h2m1 0h2m1 1h2m1 1h2m2 1h2m1 1h2m1 0h2m1 1h2m2 1h2m1 1h2m1 1h2m2 0h2m2 1h2m1 1h2m2 1h2m2 1h2m1 0h2m2 1h2m2 1h2m3 1h2m2 1h2m2 0h2m3 1h2m2 1h2m3 1h2m3 1h2m3 0h2m3 1h2m3 1h2m3 0h2m4 1h2m4 1h2m3 0h2m4 1h2m4 1h2m5 0h2m4 1h2m5 0h2m5 1h2m5 0h2m5 1h2m5 0h2m6 0h2m5 1h2m6 0h2m6 0h2m6 1h2m6 0h2m6 0h2m6 0h2m6 0h2m6 0h2m6 0h2m6 0h2m7 0h2m6-1h2m5 0h2m6 0h2m6 0h2m6-1h2m5 0h2m6-1h2m5 0h2m5-1h2m5 0h2m-1111 17h2m7 0h2m7-1h2m7 0h2m6-1h2m5-1h2m5-1h2m5 0h2m5-1h2m4-1h2m4-1h2m3-1h2m4 0h2m3-1h2m3-1h2m3-1h2m3-1h2m2-1h2m2-1h2m2 0h2m3-1h2m1-1h2m2-1h2m2-1h2m2-1h2m1-1h2m1-1h2m2 0h2m1-1h2m2-1h2m1-1h2m1-1h2m1-1h2m1-1h2m1-1h2m1-1h2m1 0h2m0-1h2m1-1h2m1-1h2m1-1h2m0-1h2m1-1h2m1-1h2m0 0h2m1-1h2m0-1h2m1-1h2m0-1h2m1-1h2m0 0h2m1-1h2m0-1h2m0-1h2m1-1h2m0-1h2m0 0h2m1-1h2m0-1h2m0-1h2m1-1h2m0 0h2m0-1h2m0-1h2m0-1h2m1 0h2m0-1h2m0-1h2m0-1h2m0 0h2m0-1h2m0-1h2m1-1h2m0 0h2m0-1h2m0-1h2m0 0h2m0-1h2m0-1h2m0 0h2m0-1h2m0-1h2m0 0h2m0-1h2m0-1h2m0 0h2m0-1h2m0-1h2m0 0h2m0-1h2m0 0h2m0-1h2m0 0h2m0-1h2m0-1h2m0 0h2m-1-1h2m0 0h2m0-1h2m0 0h2m0-1h2m0 0h2m0-1h2m0 0h2m0-1h2m0 0h2m-1 0h2m0-1h2m0 0h2m0-1h2m0 0h2m0-1h2m0 0h2m0 0h2m0-1h2m-1 0h2m0 0h2m0-1h2m0 0h2m0 0h2m0-1h2m0 0h2m0 0h2m-1-1h2m0 0h2m0 0h2m0 0h2m0-1h2m0 0h2m0 0h2m0 0h2m-1-1h2m0 0h2m0 0h2m0 0h2m0 0h2m0-1h2m-1 0h2m0 0h2m0 0h2m0 0h2m0 0h2m0 0h2m0-1h2m0 0h2m0 0h2m-1 0h2m0 0h2m0 0h2m0 0h2m0 0h2m0 0h2m0 0h2m-1 0h2m0-1h2m0 0h2m0 0h2m0 0h2m0 0h2m0 0h2m0 0h2m0 0h2m-1 0h2m0 0h2m0 0h2m0 0h2m0 1h2m0 0h2m0 0h2m0 0h2m0 0h2m0 0h2m-1 0h2m0 0h2m0 0h2m0 0h2m0 0h2m0 0h2m0 1h2m0 0h2m0 0h2m-1 0h2m0 0h2m0 0h2m0 0h2m0 1h2m0 0h2m0 0h2m0 0h2m0 0h2m0 0h2m0 1h2m0 0h2m-1 0h2m0 0h2m0 1h2m0 0h2m0 0h2m0 0h2m0 0h2m0 1h2m0 0h2m0 0h2m0 1h2m-1 0h2m1 0h2m-1 0h2m0 1h2m0 0h2m0 0h2m0 1h2m0 0h2m0 0h2m0 1h2m0 0h2m0 0h2m0 1h2m0 0h2m0 0h2m-1 1h2m1 0h2m-1 1h2m0 0h2m0 0h2m0 1h2m0 0h2m0 1h2m0 0h2m0 0h2m0 1h2m0 0h2m0 1h2m0 0h2m0 1h2m0 0h2m0 1h2m0 0h2m0 1h2m-1 0h2m1 0h2m-1 1h2m1 0h2m-1 1h2m1 1h2m-1 0h2m0 1h2m0 0h2m0 1h2m0 0h2m0 1h2m0 0h2m0 1h2m0 0h2m0 1h2m0 0h2m0 1h2m0 1h2m1 0h2m-1 1h2m0 0h2m1 1h2m-1 0h2m1 1h2m0 1h2m0 0h2m0 1h2m0 1h2m0 0h2m0 1h2m0 1h2m0 0h2m0 1h2m0 0h2m1 1h2m0 1h2m0 0h2m0 1h2m0 1h2m0 1h2m0 0h2m0 1h2m1 1h2m0 0h2m0 1h2m0 1h2m0 0h2m1 1h2m0 1h2m0 1h2m0 0h2m1 1h2m0 1h2m1 1h2m0 0h2m0 1h2m1 1h2m0 1h2m1 1h2m0 0h2m0 1h2m1 1h2m1 1h2m0 0h2m1 1h2m1 1h2m0 1h2m1 1h2m1 1h2m1 0h2m1 1h2m1 1h2m1 1h2m1 1h2m2 1h2m1 0h2m1 1h2m2 1h2m1 1h2m2 1h2m2 1h2m1 0h2m3 1h2m2 1h2m2 1h2m3 1h2m3 0h2m2 1h2m3 1h2m4 1h2m3 1h2m4 0h2m4 1h2m5 1h2m4 1h2m5 0h2m6 1h2m6 1h2m6 0h2m7 1h2m7 1h2m8 0h2m8 1h2m9 0h2m9 1h2m9 0h2m10 0h2m11 0h2m10 1h2m11 0h2m12 0h2m11 0h2m11 0h2m11 0h2m10-1h2m11 0h2m10 0h2m10-1h2m9 0h2m-897 16h2m-11-1h2m-8-1h2m-5-1h2m-2-1h2m-3-1h2m-3-1h2m-2-1h2m-1 0h2m-1-1h2m-2-1h2m-1-1h2m-1-1h2m-1-1h2m-1-1h2m-1 0h2m0-1h2m-1-1h2m-1-1h2m-1-1h2m0-1h2m-1-1h2m-1-1h2m0 0h2m-1-1h2m-1-1h2m0-1h2m-1-1h2m0-1h2m-1 0h2m0-1h2m-1-1h2m-1-1h2m0-1h2m-1-1h2m0 0h2m-1-1h2m0-1h2m-1-1h2m0-1h2m-1-1h2m0-1h2m-1 0h2m0-1h2m-1-1h2m0-1h2m-1-1h2m0 0h2m-1-1h2m0-1h2m0-1h2m-1-1h2m0 0h2m-1-1h2m0-1h2m-1-1h2m0 0h2m-1-1h2m0-1h2m-1-1h2m0 0h2m-1-1h2m0-1h2m-1-1h2m0 0h2m-1-1h2m0-1h2m0-1h2m-1 0h2m0-1h2m-1-1h2m0 0h2m-1-1h2m0-1h2m0 0h2m-1-1h2m-1-1h2m0 0h2m0-1h2m-1-1h2m0 0h2m-1-1h2m0-1h2m-1 0h2m0-1h2m-1-1h2m0 0h2m-1-1h2m0 0h2m0-1h2m-1 0h2m0-1h2m-1-1h2m0 0h2m-1-1h2m0 0h2m-1-1h2m0 0h2m-1-1h2m0 0h2m0-1h2m-1 0h2m0-1h2m-1 0h2m0-1h2m-1 0h2m0-1h2m0 0h2m-1-1h2m0 0h2m-1 0h2m0-1h2m-1 0h2m0-1h2m-1 0h2m0 0h2m0-1h2m-1 0h2m0-1h2m-1 0h2m0 0h2m-1-1h2m0 0h2m-1 0h2m0-1h2m-1 0h2m0 0h2m0-1h2m-1 0h2m0 0h2m-1 0h2m0-1h2m0 0h2m-1 0h2m0-1h2m-1 0h2m0 0h2m-1 0h2m0 0h2m0-1h2m-1 0h2m0 0h2m-1 0h2m0 0h2m-1-1h2m0 0h2m0 0h2m-1 0h2m0 0h2m0 0h2m-1 0h2m0-1h2m-1 0h2m0 0h2m-1 0h2m0 0h2m0 0h2m0 0h2m-1 0h2m0 0h2m-1 0h2m0 0h2m-1 0h2m0-1h2m0 0h2m-1 0h2m0 0h2m0 0h2m-1 0h2m0 0h2m-1 0h2m0 0h2m0 0h2m-1 0h2m0 0h2m0 0h2m-1 1h2m0 0h2m0 0h2m-1 0h2m0 0h2m-1 0h2m0 0h2m0 0h2m-1 0h2m0 0h2m0 0h2m-1 0h2m0 1h2m0 0h2m-1 0h2m0 0h2m0 0h2m-1 0h2m0 0h2m-1 0h2m0 1h2m0 0h2m-1 0h2m0 0h2m0 0h2m-1 1h2m0 0h2m0 0h2m-1 0h2m0 0h2m0 1h2m-1 0h2m0 0h2m0 0h2m-1 1h2m0 0h2m-1 0h2m0 0h2m0 1h2m-1 0h2m0 0h2m0 0h2m-1 1h2m0 0h2m0 0h2m-1 1h2m0 0h2m0 0h2m-1 1h2m0 0h2m-1 0h2m0 1h2m0 0h2m-1 0h2m0 1h2m0 0h2m-1 0h2m0 1h2m0 0h2m-1 0h2m0 1h2m0 0h2m-1 1h2m0 0h2m-1 0h2m0 1h2m-1 0h2m0 1h2m0 0h2m-1 1h2m0 0h2m0 0h2m-1 1h2m0 0h2m0 1h2m-1 0h2m0 1h2m-1 0h2m0 1h2m0 0h2m-1 1h2m0 0h2m0 1h2m-1 0h2m0 1h2m-1 0h2m0 1h2m-1 0h2m0 1h2m0 0h2m0 1h2m-1 0h2m0 1h2m-1 0h2m0 1h2m-1 1h2m0 0h2m0 1h2m-1 0h2m0 1h2m-1 0h2m0 1h2m-1 1h2m0 0h2m0 1h2m-1 0h2m0 1h2m-1 1h2m0 0h2m-1 1h2m0 1h2m-1 0h2m0 1h2m0 0h2m-1 1h2m0 1h2m-1 0h2m0 1h2m-1 1h2m0 0h2m-1 1h2m0 1h2m-1 1h2m0 0h2m-1 1h2m0 1h2m-1 0h2m0 1h2m-1 1h2m0 0h2m-1 1h2m0 1h2m-1 1h2m0 0h2m-1 1h2m0 1h2m-1 1h2m0 0h2m-1 1h2m0 1h2m-1 1h2m-1 0h2m0 1h2m0 1h2m-1 1h2m-1 0h2m0 1h2m-1 1h2m-1 1h2m0 1h2m-1 1h2m0 0h2m-1 1h2m0 1h2m-1 1h2m-1 1h2m-1 0h2m0 1h2m-1 1h2m-1 1h2m0 1h2m-1 1h2m-1 0h2m-1 1h2m-1 1h2m0 1h2m-2 1h2m-1 1h2m-1 0h2m-1 1h2m-1 1h2m-2 1h2m-1 1h2m-2 1h2m-3 1h2m-3 1h2m-6 1h2m-8 1h2m-12 1h2m-270-15h2m-8-1h2m-7 0h2m-7 0h2m-8 0h2m-6 0h2m-8-1h2m-6 0h2m-7 0h2m-6-1h2m-6 0h2m-6-1h2m-5 0h2m-6 0h2m-5-1h2m-5 0h2m-5-1h2m-5 0h2m-4-1h2m-4 0h2m-5-1h2m-4 0h2m-4-1h2m-3 0h2m-4-1h2m-4 0h2m-3-1h2m-3 0h2m-3-1h2m-4-1h2m-3 0h2m-2-1h2m-3 0h2m-3-1h2m-3 0h2m-2-1h2m-3-1h2m-2-1h2m-3 0h2m-2-1h2m-2-1h2m-2-1h2m-2-1h2m-2-1h2m-2-1h2m-1-1h2m-2-1h2m-1 0h2m-2-1h2m-2-1h2m-1 0h2m-2-1h2m-1 0h2m-2-1h2m-1 0h2m-2-1h2m-1 0h2m-1-1h2m-2-1h2m-1 0h2m-2-1h2m-1 0h2m-1-1h2m-1-1h2m-1 0h2m-1-1h2m-1 0h2m-2-1h2m-1 0h2m-1-1h2m-1 0h2m-1-1h2m-1 0h2m-1-1h2m-1-1h2m-1 0h2m-1-1h2m-1 0h2m-1-1h2m-1 0h2m-1 0h2m-1-1h2m-1 0h2m-1-1h2m-1 0h2m-1-1h2m-1 0h2m-1-1h2m-1 0h2m-1 0h2m-1-1h2m-1 0h2m-1-1h2m-1 0h2m-1 0h2m-1-1h2m-1 0h2m-1 0h2m-1-1h2m0 0h2m-1 0h2m-1-1h2m-1 0h2m-1 0h2m-1-1h2m-1 0h2m0 0h2m-2-1h2m0 0h2m-1 0h2m-1-1h2m-1 0h2m-1 0h2m0 0h2m-1-1h2m-1 0h2m-1 0h2m-1 0h2m-1-1h2m0 0h2m-1 0h2m-1 0h2m-1 0h2m-1-1h2m0 0h2m-1 0h2m-1 0h2m-1-1h2m-1 0h2m-1 0h2m0 0h2m-1 0h2m-1 0h2m-1-1h2m0 0h2m-1 0h2m-1 0h2m0 0h2m-1 0h2m-1 0h2m-1 0h2m0-1h2m-1 0h2m-1 0h2m-1 0h2m0 0h2m-1 0h2m-1 0h2m-1 0h2m0 0h2m-1 0h2m-1 0h2m-1 0h2m0 0h2m-1 0h2m-1 0h2m-1 0h2m0-1h2m-1 0h2m-1 0h2m0 0h2m-1 0h2m-1 0h2m0 1h2m-1 0h2m-1 0h2m-1 0h2m0 0h2m-1 0h2m-1 0h2m0 0h2m-1 0h2m-1 0h2m-1 0h2m0 0h2m-1 0h2m-1 0h2m0 0h2m-1 0h2m-1 0h2m-1 1h2m0 0h2m-1 0h2m-1 0h2m-1 0h2m0 0h2m-1 0h2m0 0h2m-1 1h2m-1 0h2m-1 0h2m0 0h2m-1 0h2m-1 0h2m0 1h2m-1 0h2m-1 0h2m-1 0h2m0 0h2m-1 0h2m-1 1h2m-1 0h2m0 0h2m-1 0h2m-1 0h2m-1 1h2m0 0h2m-1 0h2m-1 0h2m0 1h2m-1 0h2m-1 0h2m-1 0h2m0 1h2m-1 0h2m-1 0h2m-1 1h2m0 0h2m-1 0h2m-1 0h2m-1 1h2m0 0h2m-1 0h2m-1 1h2m-1 0h2m-1 0h2m-1 0h2m0 1h2m-1 0h2m-1 0h2m-1 1h2m-1 0h2m0 1h2m-1 0h2m-1 0h2m-1 1h2m-1 0h2m-1 0h2m0 1h2m-1 0h2m-1 0h2m-1 1h2m-1 0h2m-1 0h2m-1 1h2m-1 0h2m0 1h2m0 1h2m0 0h2m-1 1h2m-1 0h2m-1 1h2m-1 0h2m-1 0h2m-1 1h2m-1 0h2m-2 1h2m0 0h2m-1 1h2m-1 0h2m-2 1h2m-1 0h2m-1 0h2m-1 1h2m-1 0h2m-1 1h2m-1 0h2m-1 1h2m-1 1h2m-1 0h2m-1 1h2m-1 0h2m-2 1h2m-1 0h2m-2 1h2m-1 0h2m-1 1h2m-1 0h2m-2 1h2m-1 0h2m-2 1h2m-1 0h2m-2 1h2m-1 1h2m-2 1h2m-1 0h2m-2 1h2m-1 1h2m-2 1h2m-2 1h2m-2 1h2m-2 1h2m-2 1h2m-3 1h2m-2 1h2m-3 0h2m-3 1h2m-3 1h2m-3 1h2m-3 0h2m-3 1h2m-3 0h2m-4 1h2m-3 0h2m-4 1h2m-3 0h2m-4 1h2m-4 0h2m-4 1h2m-4 0h2m-4 1h2m-5 0h2m-5 1h2m-4 0h2m-5 1h2m-5 0h2m-6 0h2m-5 1h2m-6 0h2m-6 0h2m-6 1h2m-7 0h2m-6 0h2m-7 1h2m-7 0h2m-7 0h2m-8 0h2m-7 1h2m-8 0h2m-8 0h2m-8 0h2m-8 0h2m-8 0h2m-8 0h2m-8 0h2m-8 0h2m-8 0h2m-8 0h2m-8 0h2m22-16h2m-4 0h2m-3 0h2m-4 0h2m-4 0h2m-3 0h2m-4 0h2m-3 0h2m-4 0h2m-3 0h2m-3 0h2m-4-1h2m-3 0h2m-4 0h2m-3 0h2m-4 0h2m-3 0h2m-3 0h2m-3 0h2m-4-1h2m-3 0h2m-4 0h2m-3 0h2m-3 0h2m-3 0h2m-4-1h2m-4 0h2m-3 0h2m-3 0h2m-3-1h2m-3 0h2m-3 0h2m-3 0h2m-3 0h2m-2-1h2m-3 0h2m-3 0h2m-3 0h2m-3-1h2m-3 0h2m-3 0h2m-3-1h2m-3 0h2m-3-1h2m-3 0h2m-3-1h2m-3 0h2m-2-1h2m-3 0h2m-2-1h2m-3 0h2m-2-1h2m-3-1h2m-2-1h2m-2-1h2m-2-1h2m-1 0h2m-2-1h2m-1 0h2m-2-1h2m-1-1h2m-1-1h2m-1 0h2m-1-1h2m-1-1h2m-1 0h2m-1-1h2m-1 0h2m-1-1h2m-1 0h2m-1 0h2m-2-1h2m-1 0h2m-1 0h2m-1 0h2m-2-1h2m-1 0h2m-1 0h2m-1 0h2m-2-1h2m-1 0h2m-1 0h2m-1 0h2m-1-1h2m-1 0h2m-1 0h2m-1 0h2m-1 0h2m-2-1h2m-1 0h2m-1 0h2m-1 0h2m-1 0h2m-1 0h2m-1-1h2m-1 0h2m-1 0h2m-1 0h2m-1 0h2m-1 0h2m-1 0h2m-1 0h2m-1 0h2m-1-1h2m-1 0h2m-1 0h2m-1 0h2m-1 0h2m-1 0h2m-1 0h2m-1 0h2m-1 0h2m-1 0h2m-1 0h2m-1 0h2m-1 0h2m-1 0h2m-1 0h2m-1 0h2m-1 0h2m-1 0h2m-1 0h2m-1 0h2m-1 0h2m-1 0h2m-1 0h2m-1 0h2m-1 0h2m-1 0h2m-1 0h2m-1 0h2m-1 0h2m-1 0h2m-1 0h2m-1 0h2m-2 1h2m-1 0h2m-1 0h2m-1 0h2m-1 0h2m-1 0h2m-1 0h2m-1 0h2m-1 0h2m-1 1h2m-1 0h2m-1 0h2m-1 0h2m-1 0h2m-1 0h2m-1 0h2m-2 1h2m-1 0h2m-1 0h2m-1 0h2m-1 0h2m-1 0h2m-1 1h2m-1 0h2m-1 0h2m-1 0h2m-1 1h2m-1 0h2m-1 0h2m-1 0h2m-1 1h2m-1 0h2m-1 0h2m-1 1h2m-1 0h2m-1 0h2m-1 1h2m-1 0h2m-1 0h2m-2 1h2m-1 0h2m-1 0h2m-1 0h2m-2 1h2m-1 0h2m-1 1h2m-1 0h2m-1 1h2m-1 0h2m-1 1h2m-1 1h2m-1 0h2m-2 1h2m-1 1h2m-2 1h2m-1 0h2m-2 1h2m-2 1h2m-2 1h2m-3 0h2m-2 1h2m-2 1h2m-3 0h2m-2 1h2m-3 0h2m-3 0h2m-2 1h2m-3 0h2m-3 1h2m-3 0h2m-3 0h2m-3 1h2m-3 0h2m-3 0h2m-3 1h2m-3 0h2m-3 0h2m-3 0h2m-3 1h2m-3 0h2m-3 0h2m-3 0h2m-3 0h2m-4 1h2m-3 0h2m-3 0h2m-3 0h2m-3 0h2m-4 0h2m-3 0h2m-3 1h2m-3 0h2m-4 0h2m-3 0h2m-3 0h2m-3 0h2m-4 0h2m-3 0h2m-3 1h2m-4 0h2m-3 0h2m-4 0h2m-3 0h2m-4 0h2m-3 0h2m-4 0h2m-4 0h2m-3 0h2m-4 0h2m-3 0h2m-4 0h2m-3 0h2m-4 0h2"/>
<defs><clipPath id="cc"><rect x="64.3" y="107.9" width="1117.2" height="567.1"/></clipPath></defs><g clip-path="url(#cc)"><path fill="none" stroke="#000" stroke-width="1.75" stroke-linejoin="round" d="M108.9,279.1 113.3,280.9 118.3,280.6 124.3,281.3 127.5,278.7 131.6,276.9 137.0,275.9 144.2,276.2 151.2,275.3 158.5,274.4 162.2,275.3 160.7,277.2 161.0,279.1 162.6,280.9 159.4,283.8 160.0,285.3 162.6,287.2 167.0,288.5 169.2,288.2 175.5,289.7 176.5,292.2 182.8,294.4 187.5,296.3 190.7,294.4 191.0,290.4 195.4,288.2 200.5,289.1 206.5,291.3 213.7,292.9 219.1,294.4 222.3,293.2 225.4,292.2 229.5,293.2 230.5,297.3 230.5,300.4 233.6,304.2 234.9,307.6 237.7,313.0 239.6,316.1 240.0,319.2 244.1,322.4 245.0,325.5 245.3,329.9 249.1,334.9 251.6,341.5 257.7,345.6 261.8,350.0 264.3,352.2 264.0,355.3 268.1,358.8 274.4,357.5 282.0,356.3 289.2,354.1 288.9,358.5 288.0,361.6 285.4,366.3 282.3,372.6 279.1,377.3 272.8,383.9 270.6,385.2 264.9,389.9 261.8,392.7 258.6,396.8 254.5,399.6 252.9,404.0 251.3,407.1 250.1,410.3 251.6,412.8 252.3,416.6 251.6,419.7 253.9,423.8 255.4,426.0 255.8,430.7 255.8,437.0 256.1,440.1 253.2,443.3 247.5,445.8 244.1,448.0 241.2,450.8 237.7,453.6 238.1,457.4 239.6,461.1 239.3,466.2 236.5,469.3 231.4,472.8 231.1,476.2 229.9,480.9 225.4,485.3 222.3,489.7 216.0,494.4 208.7,498.2 200.2,498.5 190.7,500.7 185.9,499.1 185.3,494.1 185.0,491.0 181.5,484.7 179.6,481.2 175.5,475.3 173.3,466.8 173.3,463.3 169.8,457.1 165.4,449.5 164.8,444.8 164.8,441.1 167.0,433.5 169.8,430.1 171.1,426.0 169.2,419.7 166.4,410.6 165.4,407.1 162.6,403.7 157.8,399.0 155.9,393.6 157.5,390.2 157.8,385.2 158.5,381.7 157.5,379.2 155.3,377.3 149.6,378.0 146.5,378.0 143.3,373.9 141.4,371.7 138.2,371.4 131.3,372.3 127.5,373.9 121.2,376.4 118.0,375.4 114.9,375.1 108.5,376.1 103.8,377.6 99.1,375.8 93.4,371.7 88.0,368.2 85.8,364.8 84.2,361.6 80.1,357.2 77.0,354.1 74.7,352.5 74.4,349.4 72.2,345.3 75.4,341.2 77.0,334.9 76.0,330.2 73.8,325.5 77.0,317.0 81.7,309.5 86.4,303.9 91.2,301.3 95.9,299.2 96.9,296.0 96.5,292.6 100.6,286.9 106.0,284.7 108.9,279.1M283.2,429.1 287.0,440.1 284.8,444.8 283.6,448.6 281.7,454.2 278.8,462.1 276.3,469.6 271.2,471.8 266.5,469.9 265.2,464.9 264.3,460.5 267.4,454.2 266.5,448.0 268.1,442.3 273.8,440.7 278.5,437.3 281.3,433.5 283.2,429.1M110.8,278.1 107.6,276.9 104.1,274.7 99.4,275.3 99.7,270.9 97.5,269.6 99.4,265.2 100.0,262.1 99.4,259.3 98.1,256.5 102.2,254.3 109.2,254.6 115.5,254.9 121.8,255.2 123.4,251.4 124.0,248.3 123.7,246.4 120.6,243.3 113.6,241.4 112.3,239.5 116.4,238.2 122.4,238.9 121.5,235.4 124.0,236.4 127.8,236.0 132.6,233.5 132.6,231.7 137.6,230.4 140.1,228.2 142.3,225.1 144.6,224.1 149.6,223.8 154.4,223.2 154.7,219.1 153.1,216.9 153.1,212.5 157.8,211.9 161.0,210.3 160.0,214.1 161.6,214.7 158.8,218.2 157.5,219.4 159.1,220.7 161.9,221.9 165.7,221.3 169.8,220.0 172.7,222.2 178.7,221.0 185.9,220.0 190.4,220.4 194.2,216.6 193.8,213.1 195.7,210.6 198.9,210.3 203.0,212.5 204.6,209.4 201.7,206.9 201.4,205.3 205.8,204.7 211.2,204.3 216.0,204.7 222.9,203.4 218.5,201.2 209.6,201.8 206.2,202.5 200.2,203.7 194.8,201.5 195.1,198.4 194.8,195.2 198.6,192.1 204.9,188.0 207.7,187.4 204.9,184.9 197.6,185.5 194.8,188.6 191.6,191.2 185.9,193.7 182.2,195.6 181.5,199.9 182.2,200.9 186.9,203.1 184.7,205.3 180.3,207.8 179.6,210.9 178.0,214.7 173.3,215.6 172.4,217.5 168.3,217.5 167.6,215.6 165.4,210.3 162.9,206.2 161.3,203.4 157.5,206.2 152.8,209.1 148.3,209.1 145.2,206.5 143.3,201.8 143.3,197.1 147.1,195.2 154.4,192.1 160.4,192.4 157.5,191.2 162.2,187.7 167.0,184.2 173.0,180.2 176.5,177.3 182.5,176.7 178.0,175.5 187.5,172.6 193.8,171.7 202.4,169.5 209.0,168.2 216.0,168.6 225.4,170.4 219.1,172.3 222.3,172.6 232.1,174.8 241.2,174.8 253.9,178.3 257.7,181.7 253.9,183.6 247.5,183.9 237.4,182.4 231.7,182.1 229.9,180.8 236.5,186.1 237.4,189.0 242.8,190.8 247.5,189.6 244.4,187.1 253.2,188.6 255.4,189.0 253.9,185.8 260.2,183.0 267.1,182.7 265.9,180.5 267.1,177.0 264.3,176.1 271.2,176.7 273.8,178.6 269.7,180.2 275.0,181.4 278.5,179.2 282.3,178.3 287.0,177.3 293.3,176.4 298.1,177.0 302.8,176.1 309.1,175.8 313.9,176.7 317.0,175.5 318.9,172.3 324.9,172.6 331.3,174.2 336.0,175.5 340.7,176.1 342.3,173.6 339.2,172.0 338.5,169.2 340.7,167.0 344.8,163.5 348.0,162.0 353.4,161.6 357.5,162.9 356.2,166.4 357.5,169.2 356.8,172.3 360.0,176.1 358.1,178.6 354.3,181.7 347.1,182.1 356.5,182.7 359.7,180.2 362.8,177.0 361.3,174.8 367.6,175.5 372.3,178.9 375.5,179.2 373.9,177.0 369.2,174.5 363.8,174.2 360.6,171.7 362.2,168.6 359.1,166.0 362.8,162.9 367.6,165.4 372.3,163.8 373.9,165.4 378.6,164.5 383.4,166.0 389.7,168.6 390.3,171.1 388.1,169.2 382.7,165.4 381.8,160.7 399.2,159.4 402.3,156.3 408.7,154.7 421.3,152.9 430.8,152.5 438.7,151.3 445.0,151.3 449.7,148.5 457.0,147.5 463.9,148.5 467.1,150.3 478.1,150.7 486.0,152.2 484.5,155.1 471.8,158.5 465.5,161.6 475.0,160.1 482.9,159.8 486.0,161.3 492.4,160.1 501.8,160.4 503.4,162.3 516.1,160.1 517.6,162.3 525.5,160.7 528.7,160.7 536.6,162.6 535.0,166.0 538.2,168.6 544.5,167.0 549.2,167.3 557.1,166.7 563.4,167.0 568.2,164.2 572.3,162.9 579.2,163.2 588.7,164.5 599.8,164.8 602.9,167.0 609.2,168.9 617.1,168.2 626.6,168.9 632.9,171.4 634.5,172.9 639.3,172.9 647.2,172.6 656.6,172.9 658.8,171.7 664.5,171.4 666.1,174.8 674.0,172.0 683.5,172.3 691.4,173.6 696.1,175.1 705.6,177.0 713.5,179.5 723.0,181.4 728.7,183.9 719.8,185.8 717.6,189.3 702.4,185.8 699.3,183.3 693.0,187.4 688.2,188.3 691.4,192.1 693.9,195.6 683.5,197.4 674.0,200.3 666.1,203.1 658.2,201.5 648.7,203.1 645.6,206.2 643.4,207.8 639.3,210.0 643.0,210.0 641.8,213.8 643.4,215.3 639.3,218.8 632.9,224.4 628.8,225.1 627.6,228.2 622.5,231.3 621.9,226.6 619.0,220.4 619.4,214.1 623.5,210.0 631.4,205.6 637.7,202.5 644.0,197.7 647.2,195.2 642.4,195.6 634.5,197.7 631.4,197.7 623.5,198.1 617.1,203.4 614.9,204.7 607.7,206.2 603.9,204.7 596.6,205.0 587.1,205.0 579.9,205.3 571.3,210.0 565.0,213.1 560.3,218.8 554.9,219.7 561.9,221.9 566.6,221.3 570.7,224.4 573.9,224.4 573.6,227.6 571.3,234.5 570.7,239.2 565.0,245.5 558.7,250.8 554.0,254.9 547.6,257.1 544.2,256.1 540.4,258.7 537.5,261.2 537.2,263.4 532.8,265.9 530.3,267.4 530.3,268.4 533.1,270.6 536.3,275.3 536.6,278.4 535.6,280.9 530.9,282.2 526.8,283.5 526.8,280.0 527.4,275.3 525.8,273.1 522.4,272.2 523.3,268.1 520.5,266.2 516.1,267.1 511.6,269.3 512.0,267.4 513.5,264.3 509.7,263.4 505.3,266.2 500.3,268.4 499.3,270.0 502.8,271.8 503.4,274.4 508.8,272.8 514.5,274.4 509.7,276.5 507.5,278.4 504.1,281.6 506.6,284.1 509.4,288.5 512.6,291.9 512.6,294.4 509.7,295.7 512.9,297.6 511.6,302.0 508.8,303.9 505.6,309.8 502.5,313.6 500.6,314.8 496.2,318.3 488.3,321.4 486.0,322.1 481.3,323.3 476.3,325.2 475.9,327.7 474.4,324.3 470.3,323.3 465.5,325.5 464.6,326.2 461.7,330.2 461.7,332.4 464.6,336.2 467.1,339.3 469.6,340.9 471.8,345.0 472.8,350.6 472.5,353.8 468.7,357.2 465.5,358.8 463.9,361.6 459.8,364.1 458.6,360.7 459.2,359.1 456.0,358.5 454.5,358.2 452.6,355.0 449.7,352.2 446.6,351.6 446.2,349.4 443.4,349.7 443.1,353.8 441.2,358.5 441.2,362.3 443.4,364.8 444.7,368.8 448.1,370.1 450.3,372.0 453.8,375.8 454.1,378.9 454.5,383.0 456.7,387.1 454.1,387.1 450.3,384.5 447.5,382.3 445.3,378.9 444.3,374.5 444.0,371.0 442.1,368.8 438.3,366.6 438.0,363.2 439.0,358.5 439.3,353.8 438.0,349.1 436.5,344.4 435.8,339.6 433.6,338.1 431.4,339.6 428.6,341.8 425.7,341.2 426.0,336.5 425.7,333.4 423.5,330.2 420.7,327.1 418.8,324.9 417.5,321.4 414.3,320.8 413.4,322.4 410.2,323.0 406.1,323.6 402.3,324.0 401.7,326.8 400.4,329.0 396.0,330.9 393.2,334.3 390.6,335.9 387.5,339.0 384.0,341.2 381.2,342.8 380.5,345.9 381.2,350.3 380.2,353.8 379.6,359.1 378.0,359.1 377.1,362.3 374.5,363.5 372.3,366.0 369.5,363.5 368.2,360.1 367.0,356.3 365.1,353.8 363.8,351.0 362.5,346.6 360.6,342.8 359.1,338.1 357.5,331.8 357.2,327.1 357.5,324.0 356.5,321.8 355.6,324.6 351.8,326.2 348.6,325.5 345.5,321.8 348.6,320.5 349.6,319.2 345.5,319.6 343.6,317.4 340.4,316.1 339.2,313.6 337.6,311.7 331.3,312.3 324.3,312.7 321.8,312.7 315.5,311.7 310.7,311.1 308.2,307.6 306.9,306.4 302.8,307.6 299.7,307.9 294.9,306.7 293.3,304.8 290.2,303.9 288.0,300.7 286.1,297.3 282.3,296.0 280.7,297.3 279.1,298.8 281.0,302.0 283.9,305.1 285.8,307.9 286.4,311.4 288.0,313.6 288.6,311.4 289.2,309.5 290.5,312.0 290.2,314.2 293.3,315.5 298.1,315.5 302.2,312.0 304.7,309.5 305.7,308.9 305.7,313.0 306.6,315.2 312.6,317.4 316.4,320.8 313.2,326.5 310.1,330.2 309.8,332.1 306.0,334.9 302.2,336.8 298.4,338.1 292.4,341.2 285.4,344.4 281.3,347.5 276.0,349.1 269.7,351.3 264.9,351.6 264.0,349.1 263.0,345.0 262.4,340.3 260.2,336.5 257.7,332.4 253.9,328.0 251.3,324.0 249.1,319.2 246.0,315.2 243.8,310.8 239.6,305.7 237.4,303.5 238.1,298.8 236.2,302.9 235.9,304.5 233.6,302.6 231.7,300.4 230.5,297.3 229.5,293.2 235.5,293.2 237.4,290.7 238.1,288.5 239.6,285.0 240.6,280.0 241.9,276.5 239.0,276.5 236.8,275.9 234.0,278.1 231.1,278.4 225.4,275.9 224.5,275.6 223.5,277.5 219.4,276.2 216.9,275.9 214.1,275.3 213.7,272.5 210.6,271.2 212.2,269.0 209.9,267.4 210.3,265.9 214.4,264.6 219.1,264.6 222.0,263.5 219.4,262.6 221.0,262.1 226.1,262.4 228.6,260.5 233.3,259.6 238.7,259.6 242.2,261.8 248.5,263.0 252.9,262.7 254.5,262.7 258.6,260.9 259.2,259.3 257.0,256.5 252.9,254.6 250.7,253.3 247.5,252.1 245.6,251.1 243.8,249.5 246.3,248.9 248.5,247.0 247.5,245.2 251.6,243.3 246.0,243.6 243.8,244.8 238.1,246.1 238.1,247.7 242.8,249.2 239.3,250.2 235.5,252.1 233.3,251.4 230.2,248.9 231.7,246.7 228.6,246.1 227.0,245.2 224.5,245.5 223.2,247.0 221.3,249.5 218.2,252.7 217.8,253.9 215.6,255.8 214.4,258.0 216.0,259.6 216.3,260.9 219.0,262.7 214.4,262.7 211.8,264.3 209.6,264.0 209.6,263.4 206.5,263.0 204.6,263.0 202.7,264.6 204.3,265.6 203.0,265.9 201.4,265.2 199.8,264.0 198.9,265.9 200.2,268.1 201.1,269.3 203.3,271.5 203.3,273.1 202.1,272.2 200.2,272.5 200.8,274.0 200.2,276.9 198.3,276.9 197.3,275.6 196.1,275.9 194.8,273.1 196.1,271.5 194.2,271.2 192.9,269.3 191.0,267.4 188.8,264.6 188.8,261.5 188.2,259.6 185.9,258.0 181.8,256.5 179.3,254.9 175.5,252.7 174.6,250.2 173.3,249.5 171.4,250.8 170.5,248.3 166.7,248.9 166.7,252.1 167.3,253.3 170.5,254.9 172.4,258.0 174.9,259.9 178.7,260.2 177.7,261.2 180.9,262.4 184.4,264.0 185.9,265.6 185.3,266.5 184.0,264.9 181.8,264.6 179.9,265.9 179.6,267.4 181.5,269.0 179.6,270.0 178.0,272.5 176.8,271.8 177.4,270.3 178.4,269.0 177.4,266.2 175.8,265.6 174.6,264.9 173.0,264.0 172.4,263.4 170.8,262.1 167.3,261.5 166.0,260.2 164.8,259.3 162.6,258.3 160.7,256.8 160.0,254.9 159.1,253.3 155.6,252.1 153.1,253.6 150.6,254.3 148.3,255.8 144.6,255.5 141.7,255.2 139.2,255.2 137.0,256.5 137.3,258.0 137.6,259.6 134.4,261.5 131.3,262.4 130.0,263.7 126.6,267.4 128.1,270.0 125.9,271.2 124.7,273.4 120.6,276.2 116.4,276.2 113.6,276.2 110.8,278.1M109.5,234.2 114.2,233.2 116.8,232.6 121.2,232.6 124.3,232.0 128.4,232.0 131.9,230.7 130.7,229.5 132.9,226.3 131.6,225.4 128.4,225.4 128.4,223.5 127.2,221.9 123.7,220.0 122.4,217.2 120.6,215.6 117.4,215.6 119.0,214.4 120.9,212.5 121.8,210.9 116.8,210.3 114.5,210.6 117.7,207.5 111.7,207.5 109.2,210.6 109.8,214.1 107.9,214.7 110.1,217.5 112.3,218.8 112.0,219.7 116.4,219.1 116.1,220.4 118.3,221.6 117.7,223.8 113.6,223.8 113.0,225.7 114.5,227.3 111.1,228.5 113.9,229.5 117.7,230.1 113.3,231.0 109.5,234.2M107.9,224.1 108.5,227.6 105.7,227.9 101.3,228.8 96.5,229.8 95.0,227.6 97.5,226.0 96.2,223.8 95.9,221.3 100.6,220.4 101.6,218.2 104.4,217.8 108.2,218.2 110.1,220.4 107.9,221.9 107.9,224.1M58.0,190.2 61.2,191.2 67.5,192.4 75.4,191.2 80.7,189.6 84.5,187.4 81.7,184.2 76.3,183.0 70.6,183.6 63.4,183.9 62.7,185.5 59.6,185.8 56.4,183.0 51.7,184.9 52.3,187.4 58.0,187.4 52.3,188.0 58.0,190.2M162.2,141.9 170.1,146.6 171.7,148.8 179.6,151.0 182.8,148.8 187.5,145.6 195.4,145.0 185.9,142.8 178.0,140.3 162.2,141.9M184.4,139.7 190.7,141.9 203.3,142.2 212.8,140.3 203.3,139.0 190.7,138.7 184.4,139.7M195.4,145.9 201.7,148.5 204.9,146.9 198.6,145.3 195.4,145.9M290.2,166.7 296.5,169.2 306.0,169.8 309.1,167.9 302.8,163.8 304.4,160.7 312.3,157.6 320.2,154.1 332.8,151.9 344.8,150.3 342.3,149.7 331.3,151.3 317.0,152.2 307.6,155.1 301.2,159.1 294.9,162.3 291.1,164.8 290.2,166.7M276.0,139.4 285.4,140.3 288.6,138.4 279.1,137.8 276.0,139.4M294.9,139.4 307.6,140.3 317.0,139.0 326.5,138.4 317.0,137.2 307.6,135.3 301.2,137.5 294.9,139.4M427.6,143.1 437.1,144.1 445.0,142.5 451.3,142.2 443.4,139.7 435.5,138.7 429.2,136.5 421.3,138.7 422.9,140.9 427.6,143.1M440.2,146.6 451.3,146.9 459.2,145.3 452.9,142.8 443.4,144.4 440.2,146.6M561.9,155.4 569.8,156.6 580.8,155.7 577.7,153.5 566.6,152.5 561.9,155.4M588.7,155.1 602.9,156.0 601.3,154.4 591.9,154.7 588.7,155.1M569.8,161.0 577.7,161.6 580.8,160.7 574.5,159.1 569.8,161.0M692.0,168.6 699.3,169.2 704.0,167.9 697.7,166.7 692.0,168.6M280.7,174.8 283.9,175.8 286.1,174.5 282.9,173.3 280.7,174.8M576.1,221.0 579.2,223.5 580.2,228.2 579.9,232.9 584.0,237.6 579.2,238.2 578.0,242.3 580.8,244.5 580.5,246.7 577.7,244.8 576.1,247.0 575.8,242.3 576.4,237.6 576.4,232.9 575.1,228.2 575.4,223.8 576.1,221.0M569.8,261.2 572.9,260.2 573.6,258.0 580.2,259.6 583.0,256.5 587.5,255.5 585.6,253.3 580.8,252.4 575.8,248.6 575.1,251.7 573.9,255.5 570.7,255.8 569.1,258.7 569.8,261.2M541.0,284.7 544.5,284.7 549.2,283.5 554.0,282.8 554.6,286.3 559.7,283.8 560.0,282.2 564.1,282.8 566.0,282.5 568.8,281.6 572.3,279.4 571.7,275.9 572.9,272.2 574.5,270.9 576.1,267.1 574.5,261.5 571.0,262.1 569.4,265.9 569.1,269.6 565.0,274.0 561.2,273.7 559.3,275.6 557.1,279.4 552.4,279.7 547.6,280.0 544.5,281.9 541.0,284.7M546.1,287.8 549.2,286.6 553.0,285.3 551.4,283.8 547.6,284.7 544.5,286.6 546.1,287.8M538.8,286.0 541.3,285.0 544.2,287.8 542.6,292.9 540.4,294.1 538.8,291.0 537.2,288.5 538.8,286.0M511.3,312.0 512.6,314.5 509.7,320.8 509.1,322.7 506.9,319.2 508.5,315.2 511.3,312.0M470.9,330.9 473.7,328.7 477.8,328.7 476.6,332.4 473.4,334.3 470.9,333.1 470.9,330.9M380.2,360.7 384.0,364.8 385.9,367.9 385.3,371.0 382.1,372.9 379.9,370.1 379.6,366.3 380.2,360.7M166.7,272.2 170.1,271.5 176.5,271.2 175.2,274.0 175.2,276.2 171.7,275.0 167.0,273.1 166.7,272.2M153.4,262.7 157.8,262.4 158.1,265.9 157.8,268.4 155.6,269.0 154.0,268.4 154.0,264.9 153.4,262.7M154.7,258.3 157.2,256.5 157.5,259.6 156.6,261.5 155.0,260.2 154.7,258.3M201.7,280.0 204.9,280.3 210.6,280.9 208.1,281.6 203.3,281.3 201.7,280.0M229.5,281.3 231.7,280.3 236.8,279.4 234.9,281.6 231.7,282.8 229.5,281.3M282.3,245.5 288.6,243.9 294.9,245.5 295.6,249.2 290.2,249.2 288.6,251.7 286.4,252.1 290.2,255.8 294.3,258.0 293.3,260.9 298.1,261.8 294.6,263.0 294.9,267.4 298.1,272.2 297.5,275.3 291.8,276.5 286.4,274.0 282.3,272.8 282.0,268.1 283.9,264.6 286.4,264.6 282.3,261.2 278.5,256.5 276.0,251.7 277.6,248.6 282.3,245.5M311.7,250.2 314.8,246.1 321.1,245.2 322.7,248.6 319.6,251.7 315.5,254.6 311.7,254.3 311.7,250.2M455.4,229.1 460.8,229.5 467.1,226.3 471.8,223.5 474.4,218.8 473.4,216.3 470.6,220.4 465.5,224.1 460.1,227.6 455.4,229.1M359.7,250.2 364.4,244.8 372.3,245.2 377.7,244.5 375.5,246.4 367.6,247.0 362.8,250.2 359.7,250.2M225.1,203.4 231.1,202.5 231.1,199.3 223.8,197.7 222.3,199.9 225.1,203.4M238.7,200.3 242.5,199.3 239.6,194.6 235.9,196.8 238.7,200.3M166.7,207.8 170.1,207.5 171.7,205.6 169.2,205.0 166.7,207.8M228.0,394.6 228.6,390.5 234.9,390.2 236.8,393.0 234.9,396.2 232.4,399.6 228.6,399.6 228.0,394.6M220.4,402.1 222.0,407.1 224.5,412.8 225.7,418.8 223.8,417.5 220.1,410.3 219.4,405.3 220.4,402.1M234.9,421.3 237.4,427.6 238.1,433.8 238.7,436.3 236.5,435.4 235.5,429.1 234.9,421.3M428.6,373.9 435.5,375.1 439.3,379.5 444.3,383.6 448.1,386.1 452.9,388.9 455.4,393.0 457.6,397.1 462.4,400.9 462.0,405.6 461.7,409.7 457.9,409.7 456.0,407.1 450.7,403.7 446.6,399.3 444.7,394.6 440.6,390.5 439.3,386.1 434.6,381.1 430.8,378.0 428.6,373.9M459.8,412.8 462.4,410.0 464.9,410.6 470.3,412.2 476.3,413.1 478.1,411.5 483.5,413.4 488.9,415.9 489.2,418.8 484.5,417.8 478.1,417.5 471.8,415.6 467.1,415.6 463.6,414.7 459.8,412.8M471.8,386.7 473.7,385.2 478.8,386.7 479.4,383.6 484.5,381.4 487.6,377.3 492.4,374.2 496.5,369.5 499.6,371.7 504.1,374.8 501.2,377.6 499.6,380.5 500.3,384.2 503.4,388.3 499.6,388.9 498.7,394.0 495.2,399.3 493.9,402.8 489.5,404.3 484.5,401.8 480.7,402.4 475.6,400.6 475.0,396.2 472.5,393.0 471.8,386.7M505.9,388.9 509.4,387.4 516.1,388.6 521.7,386.4 523.0,387.1 520.5,390.2 512.9,389.9 507.5,389.9 506.6,394.3 511.3,394.3 517.3,394.3 515.4,396.5 511.3,397.4 514.2,401.5 516.7,406.2 514.5,408.4 511.6,406.5 509.7,403.4 509.7,399.9 507.8,399.9 507.8,404.0 507.8,408.7 504.7,408.7 505.3,402.8 502.8,400.2 504.1,396.2 505.9,391.8 505.9,388.9M541.3,394.0 546.1,392.7 551.1,394.3 552.4,399.3 555.5,401.8 560.3,397.7 565.0,397.1 572.0,399.6 580.8,402.4 588.1,407.8 594.1,410.6 591.9,412.8 595.7,418.1 599.8,421.3 603.9,424.4 599.8,423.8 592.5,421.3 588.7,417.2 584.0,415.6 580.8,418.1 577.7,420.3 572.9,420.0 568.2,416.9 563.4,417.8 562.5,415.0 566.0,413.4 565.0,410.3 560.3,406.8 555.5,405.3 550.8,403.7 547.0,404.3 544.5,400.6 549.5,399.0 544.5,397.7 541.3,395.8 541.3,394.0M508.5,333.4 513.5,333.4 513.5,338.1 511.6,341.2 511.6,344.4 512.9,347.5 518.6,348.4 519.5,351.9 516.1,349.4 513.8,349.1 509.7,348.4 508.5,345.9 506.6,342.8 505.9,340.3 507.5,339.3 507.8,336.5 508.5,333.4M512.9,369.5 515.4,366.6 518.0,364.5 521.4,364.8 524.0,360.7 526.8,365.4 527.1,369.5 525.8,371.7 524.3,369.5 523.6,373.6 519.8,372.3 519.2,368.8 516.1,367.9 512.9,369.5M520.2,352.2 524.0,353.1 524.6,356.9 523.0,359.4 521.7,359.4 520.5,355.7 520.2,352.2M512.9,354.4 516.4,355.3 517.6,358.5 516.7,362.9 514.5,361.3 512.9,358.5 512.9,354.4M497.7,365.1 501.8,362.3 505.0,358.5 505.6,356.0 503.4,358.8 500.3,362.6 497.7,365.1M507.8,349.4 510.7,349.7 511.3,352.5 509.7,352.8 507.8,349.4M490.8,417.2 495.5,417.5 498.7,417.2 503.4,417.8 501.8,419.4 493.9,419.4 490.8,418.8 490.8,417.2M506.3,417.8 509.7,417.8 516.1,417.5 515.4,418.8 506.6,419.4 506.3,417.8M517.6,423.8 520.8,420.6 524.0,418.4 529.3,417.8 527.1,419.7 522.4,421.6 519.2,423.5 517.6,423.8M503.4,421.3 509.1,422.2 506.6,423.5 503.4,421.3M530.3,388.3 531.9,385.2 534.1,388.3 531.9,393.0 531.2,390.5 530.3,388.3M531.9,400.9 538.2,400.6 540.7,402.4 535.0,402.1 531.9,400.9M525.5,401.5 528.7,401.5 528.1,403.4 525.5,401.5M596.0,409.0 601.3,407.1 606.1,404.6 608.6,404.9 606.1,408.7 601.3,411.2 596.0,409.0M603.9,399.6 609.2,403.4 610.8,406.2 607.7,402.4 603.9,399.6M616.2,408.7 620.0,412.8 617.8,411.9 616.2,408.7M631.4,416.6 635.5,419.7 632.9,419.7 631.4,416.6M632.3,420.6 635.5,422.2 632.9,422.2 632.3,420.6M645.6,454.6 651.9,458.9 655.1,461.5 650.3,459.9 645.6,454.6M687.6,446.7 691.7,447.0 690.4,448.6 687.6,448.0 687.6,446.7M692.3,442.6 696.1,442.3 694.5,444.2 692.3,442.6M486.7,462.4 488.3,459.9 496.2,456.1 503.4,454.2 509.7,453.0 513.5,448.0 515.7,443.3 518.0,445.8 520.8,442.6 522.4,440.1 525.5,436.0 528.7,435.1 532.5,438.2 536.9,438.2 536.6,433.8 539.1,431.6 540.7,430.4 544.5,429.8 546.4,426.9 549.2,428.5 554.0,429.8 559.7,429.1 557.1,433.2 555.5,437.9 559.7,441.4 563.4,443.6 567.5,446.4 572.3,446.4 574.5,440.1 574.8,433.8 575.8,431.0 576.7,425.7 578.0,425.0 580.8,431.6 581.4,436.3 584.0,436.3 586.5,438.5 586.8,443.3 588.7,446.4 589.7,450.5 596.0,454.6 598.8,458.0 603.9,462.7 604.2,465.2 607.7,468.4 611.5,471.5 611.1,476.2 612.7,481.2 610.8,487.2 609.2,492.5 605.5,497.6 603.9,501.3 601.3,506.0 601.0,509.2 595.0,510.4 589.7,514.2 585.6,512.0 584.6,510.7 580.8,513.3 574.5,512.0 571.0,510.7 568.8,507.6 568.2,503.8 565.0,503.2 565.0,500.7 563.4,498.8 562.5,501.6 560.3,502.0 561.5,498.2 563.1,495.1 562.8,493.5 560.3,497.2 557.1,500.7 555.9,501.0 554.6,498.2 551.4,494.7 547.6,492.2 542.0,490.3 535.0,491.0 525.5,492.9 519.2,495.1 517.6,497.9 512.6,497.9 506.6,497.9 500.3,501.6 493.9,501.0 491.1,499.4 490.8,496.9 493.0,491.9 490.8,485.6 489.5,481.9 486.7,475.0 485.1,473.7 486.4,471.8 488.3,474.0 486.0,469.6 485.7,466.8 486.7,462.4M584.6,519.2 590.3,520.5 596.0,519.9 596.0,523.9 594.7,527.1 591.2,528.3 588.1,527.1 586.2,523.9 584.6,519.2M673.1,499.4 675.6,501.3 678.1,502.3 679.7,507.0 683.2,506.7 683.5,509.5 686.6,510.7 689.8,509.5 691.4,509.8 689.5,514.2 686.6,515.1 686.3,518.0 681.3,522.0 679.7,521.1 681.0,517.7 677.2,515.5 676.5,514.8 679.1,513.3 679.4,509.2 677.8,505.4 674.3,501.3 673.1,499.4M673.1,518.6 674.3,521.1 678.1,520.5 677.2,523.0 674.0,526.8 674.3,529.0 668.6,530.5 666.7,535.5 663.0,537.7 659.2,537.7 653.5,535.9 655.1,532.7 659.2,529.6 663.0,527.7 666.1,526.4 668.3,524.6 670.8,521.1 673.1,518.6M1020.2,364.1 1022.1,366.3 1024.7,361.9 1026.2,358.8 1028.4,356.6 1034.1,355.3 1038.2,352.5 1039.5,354.4 1038.6,356.9 1043.0,355.7 1043.9,353.1 1046.8,355.3 1049.3,357.2 1049.9,358.5 1056.2,358.2 1059.4,359.7 1062.6,358.2 1068.9,357.9 1067.3,359.4 1072.0,361.6 1075.2,364.8 1079.9,369.5 1084.7,372.6 1090.4,372.9 1094.2,373.2 1099.5,376.1 1102.1,377.6 1104.3,383.6 1106.8,386.1 1106.8,391.4 1111.5,393.6 1111.8,395.5 1116.3,393.6 1124.8,399.3 1132.1,400.2 1138.4,400.2 1143.1,403.1 1147.9,406.8 1153.2,407.8 1154.5,413.4 1154.5,416.9 1152.0,421.9 1147.9,426.0 1143.1,432.3 1141.5,437.9 1141.5,444.8 1139.3,449.5 1137.4,455.2 1135.2,460.2 1132.1,463.3 1128.3,463.7 1123.5,464.6 1118.5,466.8 1113.1,470.9 1111.2,473.7 1111.2,478.1 1109.9,481.2 1106.8,485.0 1103.6,489.4 1100.2,492.5 1096.0,497.2 1091.3,501.0 1087.2,501.0 1080.3,498.2 1084.0,502.9 1084.0,505.1 1085.6,506.0 1083.1,510.7 1078.4,512.9 1070.5,513.9 1067.9,513.3 1068.3,518.9 1063.2,520.5 1059.4,519.5 1059.4,523.3 1063.8,525.2 1061.6,526.1 1059.4,527.4 1057.8,532.7 1051.5,535.9 1056.6,539.3 1056.9,541.8 1051.2,546.2 1048.3,549.4 1046.8,553.4 1048.7,556.0 1045.2,556.3 1040.8,558.5 1039.5,560.7 1034.1,558.8 1028.8,556.9 1027.2,551.6 1026.2,545.3 1025.9,539.0 1029.4,535.9 1031.6,532.7 1034.1,528.0 1034.8,523.3 1031.9,522.7 1031.6,517.0 1032.6,510.7 1033.5,507.6 1035.4,502.9 1038.2,496.6 1038.9,488.8 1039.2,485.3 1040.5,479.4 1041.7,473.1 1042.3,465.5 1043.0,460.5 1043.3,454.9 1042.7,449.5 1039.2,446.4 1035.1,443.9 1027.2,439.8 1023.7,435.1 1021.2,429.4 1018.3,424.4 1016.4,420.0 1013.6,415.0 1012.0,412.8 1008.9,410.3 1007.9,406.2 1011.1,402.1 1012.3,399.0 1009.2,398.4 1010.1,394.6 1011.7,391.4 1012.0,388.9 1015.5,387.4 1016.4,383.6 1019.9,383.3 1020.9,379.5 1020.2,374.2 1020.2,371.0 1018.7,368.8 1017.7,366.3 1015.2,363.2 1013.6,363.2 1011.1,365.4 1012.0,367.9 1010.8,368.5 1008.9,367.6 1007.0,366.6 1002.9,366.3 1000.3,364.8 997.2,361.3 995.9,361.3 993.7,359.1 994.0,356.9 991.5,354.4 988.6,351.0 987.7,349.7 983.6,349.7 980.4,348.4 976.0,347.5 973.5,345.9 968.1,341.2 964.0,340.6 959.9,342.2 953.6,340.3 949.2,338.7 943.5,335.6 937.8,334.0 934.9,331.5 931.1,327.4 932.1,324.0 928.6,318.6 923.6,313.0 919.1,310.8 917.9,306.7 914.4,303.9 910.3,300.4 907.8,295.1 904.6,292.6 902.1,291.6 902.4,294.4 906.2,300.4 910.0,306.1 913.1,309.8 916.3,315.5 918.8,318.3 917.6,319.6 916.3,317.7 910.9,314.2 910.3,310.5 906.2,307.6 903.0,305.1 901.5,303.9 904.0,302.6 902.7,298.8 899.2,296.0 896.4,291.6 894.8,289.4 894.2,287.8 890.7,285.3 888.2,284.1 883.8,283.1 883.4,280.9 879.7,276.5 877.8,272.8 876.2,271.2 873.7,268.1 871.8,264.6 872.7,260.2 871.4,257.1 872.7,251.7 873.0,246.4 870.8,239.5 876.2,240.1 877.8,242.3 876.8,237.6 871.4,234.5 865.1,232.0 861.0,228.2 857.2,224.1 853.1,221.0 850.9,217.8 846.2,214.1 842.1,210.9 836.7,208.4 833.5,208.7 830.4,206.5 823.4,204.3 816.2,203.1 808.3,202.8 803.5,200.6 797.2,200.3 795.6,203.1 792.5,203.7 786.2,205.3 785.2,203.1 786.2,201.2 790.9,199.3 786.2,199.9 783.0,202.5 779.8,204.7 777.3,206.9 773.5,210.0 768.8,213.1 763.1,216.0 756.1,217.8 749.2,219.4 753.0,216.3 757.7,215.0 764.0,212.5 767.2,208.4 768.8,206.9 763.7,206.9 757.7,207.2 753.0,207.5 753.6,204.7 751.4,202.8 743.5,201.2 740.3,198.1 743.5,194.6 744.1,193.7 749.8,193.0 756.1,191.8 756.1,189.0 749.8,189.0 742.2,189.0 738.8,188.0 733.7,185.5 738.8,183.6 746.7,182.4 753.0,183.9 751.1,181.4 746.7,178.9 738.8,176.9 740.3,175.1 749.8,173.3 754.6,170.8 762.5,169.2 769.7,167.6 778.3,168.9 786.2,170.1 795.6,170.4 806.7,171.7 819.3,172.9 827.2,174.2 835.1,175.1 839.9,173.3 846.2,172.3 854.1,171.1 860.4,169.8 863.5,172.6 869.9,171.7 874.6,173.3 882.5,172.9 892.0,174.8 899.9,175.1 901.5,178.3 910.9,178.9 918.8,178.6 923.6,181.4 925.1,178.0 931.5,176.4 939.4,178.3 945.7,178.6 953.6,178.6 956.7,176.4 961.5,177.3 962.1,180.2 966.2,176.4 967.8,173.3 963.1,170.1 960.8,167.6 965.9,165.4 971.0,168.6 974.1,172.3 977.3,174.2 978.9,176.4 986.7,178.0 991.5,179.5 996.2,174.8 994.6,172.3 1004.8,172.6 1007.3,175.5 1005.7,179.5 1007.9,181.1 1001.0,183.6 993.1,182.7 991.5,184.2 988.3,187.4 982.0,190.5 978.2,192.7 973.8,194.3 969.4,198.4 966.2,201.5 967.2,206.9 971.0,207.8 972.5,212.5 980.4,212.5 988.3,215.6 994.6,217.5 1004.8,218.5 1005.1,225.1 1008.9,228.2 1010.4,230.4 1015.2,229.8 1015.8,226.6 1015.2,221.9 1013.6,219.7 1019.9,217.2 1023.1,214.1 1022.4,210.9 1016.8,207.2 1019.9,203.1 1018.0,199.9 1019.0,195.6 1026.2,196.2 1032.6,196.8 1037.3,198.4 1038.9,199.9 1043.6,199.9 1045.2,203.1 1045.2,206.2 1049.0,208.7 1054.7,207.2 1057.8,203.7 1061.0,201.8 1064.1,206.2 1068.9,210.0 1070.5,214.1 1075.2,217.8 1079.9,219.7 1083.7,221.9 1087.8,225.1 1088.8,228.2 1085.3,229.8 1079.9,230.7 1075.2,233.5 1068.9,233.9 1061.0,233.9 1054.7,233.9 1051.5,236.7 1046.8,239.2 1042.0,243.0 1043.6,243.9 1048.3,239.8 1054.7,237.3 1061.3,237.9 1059.4,240.8 1056.2,240.8 1060.0,243.9 1061.0,246.4 1065.7,247.4 1070.5,247.7 1073.6,243.9 1075.8,247.0 1072.0,249.2 1064.1,251.4 1057.8,254.6 1055.6,253.9 1056.2,251.4 1061.0,249.2 1060.0,248.0 1056.2,249.5 1053.1,250.5 1048.3,252.4 1043.6,253.9 1041.4,256.5 1041.7,257.7 1040.5,258.7 1042.0,260.2 1043.6,259.6 1043.6,260.9 1039.2,261.2 1035.7,261.8 1031.6,263.0 1031.0,264.0 1031.0,266.5 1029.1,268.4 1027.8,269.3 1026.6,267.8 1027.5,270.6 1025.9,273.1 1024.7,275.3 1023.7,270.6 1023.1,268.4 1021.5,271.5 1023.7,275.3 1025.0,276.9 1026.2,280.6 1023.1,282.5 1018.7,284.7 1015.2,286.9 1012.0,289.1 1008.9,291.3 1007.6,295.1 1007.9,297.9 1010.1,302.3 1012.0,307.3 1011.4,310.8 1010.1,312.7 1008.5,312.3 1006.3,309.2 1003.8,305.1 1003.2,301.0 1001.0,297.9 998.8,297.3 995.3,298.2 991.5,296.0 986.7,296.3 983.0,296.3 982.6,300.1 979.5,299.8 975.7,298.8 971.0,298.2 965.6,299.2 961.5,301.7 957.7,304.5 957.4,309.8 956.1,314.5 955.8,321.1 957.4,326.2 961.2,331.2 964.6,333.1 966.5,334.3 971.9,333.1 975.7,333.4 978.9,329.0 979.2,325.5 985.2,324.0 989.9,324.0 990.5,325.5 988.3,329.3 987.7,334.0 986.1,336.5 984.9,341.2 986.7,341.8 989.9,341.8 993.7,341.2 997.8,341.8 1001.6,344.4 1001.0,349.1 1000.3,353.8 1000.3,356.9 1002.5,360.1 1005.1,362.6 1008.2,363.8 1012.0,362.3 1015.2,361.3 1018.7,363.2 1020.2,364.1M1048.0,556.6 1049.3,558.8 1053.1,561.6 1059.1,562.9 1054.7,564.1 1048.3,565.1 1043.6,564.7 1038.9,562.9 1035.7,561.0 1042.0,561.0 1043.0,557.8 1045.8,556.6 1048.0,556.6M1072.0,553.1 1076.8,552.5 1082.1,553.4 1079.0,555.3 1073.6,555.0 1072.0,553.1M1031.0,522.7 1032.6,523.9 1032.2,527.4 1030.0,527.1 1031.0,522.7M1144.7,561.0 1151.0,562.2 1149.4,563.2 1144.7,561.0M1034.1,145.0 1049.9,140.3 1059.4,137.2 1075.2,134.0 1106.8,132.8 1132.1,130.6 1160.5,129.0 1179.4,130.3 1195.2,133.1 1201.6,135.3 1217.4,134.6 1226.8,135.9 1214.2,139.7 1204.7,140.3 1209.5,143.4 1203.1,146.6 1206.3,149.7 1200.0,152.9 1203.1,156.0 1198.4,159.1 1193.7,162.3 1195.2,165.4 1187.3,167.6 1195.2,170.1 1190.5,171.7 1193.7,172.0 1184.2,174.8 1170.0,177.7 1160.5,181.1 1151.0,184.6 1144.7,185.5 1138.4,187.4 1135.2,192.1 1130.5,196.8 1129.5,200.6 1125.7,203.4 1119.4,200.9 1111.5,199.0 1106.8,195.2 1102.1,189.9 1098.9,185.8 1095.1,181.1 1097.3,176.4 1103.6,174.2 1095.7,173.9 1092.6,170.1 1094.2,167.0 1089.4,163.8 1086.3,159.1 1079.9,154.4 1068.9,152.2 1054.7,152.9 1046.8,151.3 1040.5,148.1 1034.1,145.0M-103.1,145.0 -87.3,140.3 -77.8,137.2 -62.0,134.0 -30.4,132.8 -5.2,130.6 23.3,129.0 42.2,130.3 58.0,133.1 64.3,135.3 80.1,134.6 89.6,135.9 77.0,139.7 67.5,140.3 72.2,143.4 65.9,146.6 69.1,149.7 62.7,152.9 65.9,156.0 61.2,159.1 56.4,162.3 58.0,165.4 50.1,167.6 58.0,170.1 53.3,171.7 56.4,172.0 46.9,174.8 32.7,177.7 23.3,181.1 13.8,184.6 7.5,185.5 1.1,187.4 -2.0,192.1 -6.8,196.8 -7.7,200.6 -11.5,203.4 -17.8,200.9 -25.7,199.0 -30.4,195.2 -35.2,189.9 -38.3,185.8 -42.1,181.1 -39.9,176.4 -33.6,174.2 -41.5,173.9 -44.7,170.1 -43.1,167.0 -47.8,163.8 -51.0,159.1 -57.3,154.4 -68.4,152.2 -82.6,152.9 -90.5,151.3 -96.8,148.1 -103.1,145.0M-103.1,145.0 -87.3,140.3 -77.8,137.2 -62.0,134.0 -30.4,132.8 -5.2,130.6 23.3,129.0 42.2,130.3 58.0,133.1 64.3,135.3 80.1,134.6 89.6,135.9 77.0,139.7 67.5,140.3 72.2,143.4 65.9,146.6 69.1,149.7 62.7,152.9 65.9,156.0 61.2,159.1 56.4,162.3 58.0,165.4 50.1,167.6 58.0,170.1 53.3,171.7 56.4,172.0 46.9,174.8 32.7,177.7 23.3,181.1 13.8,184.6 7.5,185.5 1.1,187.4 -2.0,192.1 -6.8,196.8 -7.7,200.6 -11.5,203.4 -17.8,200.9 -25.7,199.0 -30.4,195.2 -35.2,189.9 -38.3,185.8 -42.1,181.1 -39.9,176.4 -33.6,174.2 -41.5,173.9 -44.7,170.1 -43.1,167.0 -47.8,163.8 -51.0,159.1 -57.3,154.4 -68.4,152.2 -82.6,152.9 -90.5,151.3 -96.8,148.1 -103.1,145.0M1034.1,145.0 1049.9,140.3 1059.4,137.2 1075.2,134.0 1106.8,132.8 1132.1,130.6 1160.5,129.0 1179.4,130.3 1195.2,133.1 1201.6,135.3 1217.4,134.6 1226.8,135.9 1214.2,139.7 1204.7,140.3 1209.5,143.4 1203.1,146.6 1206.3,149.7 1200.0,152.9 1203.1,156.0 1198.4,159.1 1193.7,162.3 1195.2,165.4 1187.3,167.6 1195.2,170.1 1190.5,171.7 1193.7,172.0 1184.2,174.8 1170.0,177.7 1160.5,181.1 1151.0,184.6 1144.7,185.5 1138.4,187.4 1135.2,192.1 1130.5,196.8 1129.5,200.6 1125.7,203.4 1119.4,200.9 1111.5,199.0 1106.8,195.2 1102.1,189.9 1098.9,185.8 1095.1,181.1 1097.3,176.4 1103.6,174.2 1095.7,173.9 1092.6,170.1 1094.2,167.0 1089.4,163.8 1086.3,159.1 1079.9,154.4 1068.9,152.2 1054.7,152.9 1046.8,151.3 1040.5,148.1 1034.1,145.0M1057.8,197.1 1049.9,195.2 1038.9,192.1 1031.0,189.0 1019.9,189.6 1018.3,187.4 1031.0,185.8 1032.6,182.7 1034.1,178.0 1027.8,176.4 1016.8,173.3 1013.6,171.7 1005.7,171.7 996.2,171.7 986.7,170.1 982.0,168.6 981.1,163.8 983.6,160.1 994.6,159.8 997.8,162.3 1005.7,160.1 1010.4,160.1 1018.3,162.6 1027.8,164.5 1035.7,167.0 1043.6,169.5 1049.9,171.7 1053.1,174.8 1062.6,179.5 1068.9,181.1 1070.5,182.7 1065.7,185.8 1061.0,185.8 1053.1,182.7 1049.9,182.7 1056.2,187.4 1062.6,190.5 1059.4,192.7 1051.5,192.4 1048.3,191.5 1057.8,195.2 1057.8,197.1M894.5,171.8 901.5,174.2 906.2,176.2 920.4,175.9 933.0,174.5 943.2,172.6 945.7,170.8 940.9,166.7 934.3,162.9 931.1,161.0 923.6,161.6 915.7,162.6 904.6,161.6 893.6,162.6 888.8,166.7 896.7,167.6 892.0,169.2 907.8,170.8 894.5,171.8M877.8,167.9 867.3,165.4 871.4,160.7 873.0,158.2 882.5,157.6 893.6,158.5 899.9,161.3 892.0,164.8 885.7,167.0 877.8,167.9M895.1,155.1 904.6,156.9 915.7,156.6 929.9,156.0 931.5,153.5 923.6,151.3 918.8,150.3 909.4,152.2 898.3,151.6 893.6,152.9 895.1,155.1M876.2,152.9 888.8,152.9 899.9,148.8 888.8,148.5 877.8,151.0 876.2,152.9M936.2,154.7 948.8,156.0 956.4,154.4 953.6,151.0 942.5,151.6 936.2,154.7M959.9,156.0 969.4,156.9 969.4,154.7 963.1,154.1 959.9,156.0M975.7,156.9 993.1,157.6 1012.0,157.3 1013.6,154.4 1007.3,152.9 996.2,153.8 983.6,154.1 982.0,151.3 972.5,151.0 961.5,152.9 974.1,153.5 975.7,156.9M982.0,151.6 996.2,151.9 1012.0,152.2 1019.0,149.7 1026.2,145.0 1031.0,141.9 1043.6,139.4 1059.4,136.2 1070.5,132.8 1062.6,131.2 1043.6,130.6 1021.5,130.9 1005.7,132.1 989.9,134.0 977.3,135.6 993.1,138.7 999.4,142.5 988.3,145.9 985.2,149.1 982.0,151.6M974.1,145.9 986.7,145.0 989.9,141.9 978.9,138.7 972.5,136.2 963.1,140.3 964.6,143.4 974.1,145.9M933.0,145.0 944.1,147.2 950.4,144.7 940.9,142.2 933.0,145.0M956.7,146.9 963.1,147.2 961.5,144.4 956.7,144.1 956.7,146.9M963.1,164.5 972.5,165.4 978.9,162.3 978.9,159.1 967.8,158.5 961.5,160.7 963.1,164.5M948.8,167.3 958.3,166.0 958.9,162.3 953.6,159.1 945.7,159.4 940.9,162.9 944.1,165.4 948.8,167.3M950.4,174.8 958.3,176.4 963.1,175.1 961.5,172.6 953.6,172.0 950.4,174.8M989.3,189.6 994.6,193.0 1004.1,191.5 1010.4,190.8 1007.3,188.0 1001.0,184.9 995.6,184.2 993.1,187.4 989.3,189.6M1002.5,194.3 1007.3,195.2 1012.0,196.2 1007.3,194.0 1002.5,194.3M1019.9,179.5 1026.2,180.2 1024.7,177.3 1019.9,179.5M1008.9,161.3 1018.3,162.6 1024.7,162.0 1016.8,160.1 1008.9,161.3M1077.4,242.0 1087.8,242.0 1091.0,244.5 1095.7,245.2 1098.3,242.3 1095.7,239.2 1092.6,236.0 1087.8,234.5 1089.4,229.5 1084.7,232.0 1081.5,236.0 1077.4,239.2 1077.4,242.0M1061.0,234.8 1068.9,236.4 1069.8,237.3 1064.1,236.7 1061.0,234.8M1061.3,244.2 1068.9,245.5 1067.3,247.0 1062.6,246.1 1061.3,244.2M859.1,232.0 866.7,233.2 870.5,235.7 874.6,238.6 874.9,239.5 870.8,239.2 867.3,237.6 863.5,235.1 860.4,233.5 859.1,232.0M844.6,221.3 848.7,221.9 849.3,225.1 850.3,228.2 846.2,225.1 844.6,221.3M776.4,210.6 781.4,209.4 783.9,210.6 779.8,212.8 776.4,210.6M744.1,220.0 748.9,219.4 748.2,220.7 744.1,220.0M734.7,223.8 739.4,222.2 737.8,224.1 734.7,223.8M730.9,225.4 734.0,223.8 733.1,225.1 730.9,225.4M711.9,227.9 715.1,227.3 714.1,228.2 711.9,227.9M705.6,229.1 707.5,228.5 706.9,229.5 705.6,229.1M672.4,225.4 675.3,225.4 674.0,226.0 672.4,225.4M722.0,191.8 727.7,191.8 731.5,193.0 726.1,193.7 722.0,191.8M736.2,202.5 741.3,202.1 741.0,203.7 736.2,202.5M771.9,329.6 773.2,328.0 775.4,330.2 772.9,332.1 771.9,329.6M769.7,325.8 771.9,326.2 770.7,326.8 769.7,325.8M765.0,324.0 766.6,324.3 765.6,324.9 765.0,324.0M996.5,322.7 1002.5,319.2 1007.3,318.9 1012.0,319.6 1018.3,321.4 1024.7,324.9 1030.3,328.0 1026.2,329.0 1019.3,329.3 1020.9,326.8 1018.3,326.5 1013.6,323.3 1007.3,321.8 1004.8,320.2 1001.0,321.8 996.5,322.7M1029.7,333.7 1036.3,333.1 1034.8,330.9 1032.9,329.3 1038.2,329.3 1043.6,329.6 1046.8,330.9 1048.7,333.1 1043.9,333.7 1039.2,335.9 1035.7,334.3 1029.7,333.7M1017.4,334.0 1021.5,333.4 1023.7,334.6 1022.1,335.6 1017.4,334.0M1052.5,333.7 1057.5,334.0 1056.2,334.9 1052.5,334.9 1052.5,333.7M1069.2,357.9 1072.0,357.5 1072.0,359.7 1069.2,359.7 1069.2,357.9M1017.4,312.7 1019.0,315.5 1019.3,313.0 1017.4,312.7M973.8,244.8 978.9,245.2 986.7,242.6 991.5,245.5 996.9,245.2 997.5,242.3 993.7,240.8 991.5,238.2 985.8,237.6 982.6,240.1 978.9,242.0 973.8,244.8M988.0,260.5 991.5,259.6 992.1,256.5 991.8,251.7 994.6,249.5 996.2,247.7 991.5,247.4 988.3,250.2 986.7,251.7 988.3,253.3 987.1,256.5 988.0,260.5M997.2,247.7 1001.0,249.2 1001.6,252.4 999.7,254.3 1004.1,256.5 1006.6,254.9 1007.3,251.1 1007.3,249.5 1012.0,251.4 1010.4,248.3 1006.3,247.0 1001.0,246.7 997.2,247.7M1001.3,260.2 1004.1,261.2 1008.9,260.2 1015.2,257.1 1010.4,257.7 1005.7,259.0 1002.2,259.6 1001.3,260.2M1012.7,255.5 1018.3,255.5 1023.7,254.9 1023.4,253.0 1019.0,253.6 1014.2,254.3 1012.7,255.5M958.3,233.2 960.5,229.8 956.7,223.5 952.6,222.6 953.6,226.6 956.7,231.3 958.3,233.2M895.1,199.6 903.0,199.9 909.4,198.1 917.2,195.2 918.8,194.0 912.5,194.3 904.6,195.9 898.3,196.8 895.1,199.6M875.2,187.1 882.5,187.7 888.8,186.1 892.9,183.6 890.4,181.1 882.5,181.4 876.2,183.3 873.0,185.2 875.2,187.1M914.1,207.2 920.4,205.9 929.9,205.3 920.4,204.3 914.1,207.2M1043.6,440.1 1046.8,442.3 1045.8,440.4 1043.6,440.1M58.0,624.7 70.6,620.6 80.1,619.1 92.8,615.0 102.2,613.4 118.0,612.1 127.5,610.0 143.3,611.2 159.1,611.2 174.9,610.6 190.7,611.2 206.5,611.8 222.3,609.6 231.7,607.4 238.1,609.0 247.5,610.3 253.9,607.4 269.7,604.0 279.1,602.7 285.4,601.8 294.9,598.3 304.4,599.6 310.7,601.8 317.0,603.0 326.5,603.4 336.0,604.3 345.5,604.3 348.6,606.8 354.9,610.3 361.3,610.6 367.6,608.7 373.9,606.2 380.2,604.3 386.5,602.7 396.0,601.2 405.5,600.8 411.8,601.2 421.3,600.2 427.6,598.7 437.1,597.7 443.4,598.0 449.7,597.7 459.2,600.2 468.7,600.8 475.0,599.6 484.5,598.3 490.8,600.2 500.3,601.8 506.6,601.2 516.1,600.5 522.4,599.6 531.9,601.5 538.2,599.0 547.6,599.3 554.0,598.7 560.3,599.6 569.8,600.8 579.2,601.5 585.6,602.4 591.9,604.6 601.3,606.2 610.8,606.5 617.1,608.1 626.6,609.0 632.9,611.2 642.4,612.8 651.9,613.1 658.2,614.3 665.5,615.3 661.4,619.1 655.1,622.2 648.7,626.3 644.0,630.0 642.4,634.1 648.7,635.7 655.1,635.1 664.5,634.4 680.3,636.0 696.1,637.0 711.9,637.9 727.7,637.9 743.5,638.2 753.0,637.0 759.3,635.7 768.8,633.8 775.1,634.1 781.4,632.6 790.9,631.0 797.2,629.1 806.7,629.4 816.2,627.5 822.5,626.9 832.0,626.0 838.3,625.6 847.8,624.7 854.1,625.0 863.5,623.8 869.9,623.1 879.3,623.8 885.7,623.5 895.1,623.8 901.5,623.8 910.9,625.3 917.2,625.3 923.6,626.3 933.0,626.6 942.5,627.2 945.7,624.4 948.8,622.2 952.0,619.4 958.3,620.0 964.6,620.9 974.1,620.3 980.4,620.6 989.9,621.6 996.2,621.3 1005.7,620.6 1012.0,620.6 1021.5,621.9 1027.8,621.6 1034.1,622.2 1040.5,620.6 1046.8,618.7 1051.5,615.9 1051.5,611.2 1049.9,608.1 1053.1,604.9 1051.5,602.7 1056.2,600.2 1061.0,597.4 1065.7,594.9 1072.0,592.7 1078.4,591.1 1084.7,590.2 1083.1,592.4 1079.9,593.9 1073.6,595.5 1073.6,598.7 1068.9,601.8 1072.0,604.3 1073.6,606.5 1070.5,609.6 1072.0,612.8 1072.0,615.9 1073.6,619.1 1075.2,622.2 1072.0,624.7 1065.7,627.8 1057.8,631.0 1053.1,631.9 1062.6,632.9 1075.2,633.2 1091.0,634.1 1106.8,635.1 1122.6,635.7 1138.4,636.0 1151.0,635.4 1160.5,633.2 1170.0,631.0 1179.4,628.8 1185.8,626.9 1195.2,624.7 1207.9,620.6M-1079.2,624.7 -1066.6,620.6 -1057.1,619.1 -1044.5,615.0 -1035.0,613.4 -1019.2,612.1 -1009.7,610.0 -993.9,611.2 -978.1,611.2 -962.4,610.6 -946.6,611.2 -930.8,611.8 -915.0,609.6 -905.5,607.4 -899.2,609.0 -889.7,610.3 -883.4,607.4 -867.6,604.0 -858.1,602.7 -851.8,601.8 -842.3,598.3 -832.8,599.6 -826.5,601.8 -820.2,603.0 -810.7,603.4 -801.2,604.3 -791.8,604.3 -788.6,606.8 -782.3,610.3 -776.0,610.6 -769.7,608.7 -763.3,606.2 -757.0,604.3 -750.7,602.7 -741.2,601.2 -731.7,600.8 -725.4,601.2 -716.0,600.2 -709.6,598.7 -700.2,597.7 -693.8,598.0 -687.5,597.7 -678.0,600.2 -668.6,600.8 -662.2,599.6 -652.8,598.3 -646.5,600.2 -637.0,601.8 -630.7,601.2 -621.2,600.5 -614.9,599.6 -605.4,601.5 -599.1,599.0 -589.6,599.3 -583.3,598.7 -577.0,599.6 -567.5,600.8 -558.0,601.5 -551.7,602.4 -545.4,604.6 -535.9,606.2 -526.4,606.5 -520.1,608.1 -510.6,609.0 -504.3,611.2 -494.8,612.8 -485.3,613.1 -479.0,614.3 -471.8,615.3 -475.9,619.1 -482.2,622.2 -488.5,626.3 -493.2,630.0 -494.8,634.1 -488.5,635.7 -482.2,635.1 -472.7,634.4 -456.9,636.0 -441.1,637.0 -425.3,637.9 -409.5,637.9 -393.7,638.2 -384.3,637.0 -377.9,635.7 -368.5,633.8 -362.1,634.1 -355.8,632.6 -346.3,631.0 -340.0,629.1 -330.6,629.4 -321.1,627.5 -314.8,626.9 -305.3,626.0 -299.0,625.6 -289.5,624.7 -283.2,625.0 -273.7,623.8 -267.4,623.1 -257.9,623.8 -251.6,623.5 -242.1,623.8 -235.8,623.8 -226.3,625.3 -220.0,625.3 -213.7,626.3 -204.2,626.6 -194.7,627.2 -191.6,624.4 -188.4,622.2 -185.2,619.4 -178.9,620.0 -172.6,620.9 -163.1,620.3 -156.8,620.6 -147.3,621.6 -141.0,621.3 -131.5,620.6 -125.2,620.6 -115.7,621.9 -109.4,621.6 -103.1,622.2 -96.8,620.6 -90.5,618.7 -85.7,615.9 -85.7,611.2 -87.3,608.1 -84.2,604.9 -85.7,602.7 -81.0,600.2 -76.3,597.4 -71.5,594.9 -65.2,592.7 -58.9,591.1 -52.6,590.2 -54.1,592.4 -57.3,593.9 -63.6,595.5 -63.6,598.7 -68.4,601.8 -65.2,604.3 -63.6,606.5 -66.8,609.6 -65.2,612.8 -65.2,615.9 -63.6,619.1 -62.0,622.2 -65.2,624.7 -71.5,627.8 -79.4,631.0 -84.2,631.9 -74.7,632.9 -62.0,633.2 -46.2,634.1 -30.4,635.1 -14.7,635.7 1.1,636.0 13.8,635.4 23.3,633.2 32.7,631.0 42.2,628.8 48.5,626.9 58.0,624.7 70.6,620.6M1037.3,607.4 1046.8,609.6 1049.0,614.3 1048.3,618.4 1037.3,619.4 1027.8,616.9 1024.7,612.8 1031.0,609.6 1037.3,607.4M942.5,617.5 955.2,616.9 961.5,618.4 952.0,619.4 942.5,617.5M651.9,633.8 661.4,634.4 655.1,635.7 651.9,633.8M648.7,635.7 645.6,637.9 637.7,641.0 634.5,644.2 636.1,646.7 643.0,648.6 680.3,652.6 711.9,655.8 744.1,658.3 775.1,658.6 802.9,658.3 780.1,653.0 776.7,650.5 805.1,647.6 784.6,642.6 765.9,637.3M802.9,658.3 784.9,661.1 794.7,668.0 788.7,674.0M749.8,638.2 760.9,641.0 753.0,641.3 749.8,638.2M1075.2,626.3 1094.2,631.6 1115.0,636.0 1132.1,636.6M642.4,634.1 637.7,636.3 642.4,638.8 651.9,638.2 656.6,636.3 651.9,634.8M301.9,457.4 303.8,457.1 303.8,458.6 301.9,458.3 301.9,457.4M308.5,454.6 310.1,454.6 310.1,455.8 308.5,455.8 308.5,454.6M344.8,545.3 349.3,545.0 349.9,547.2 346.1,547.5 344.8,545.3M295.9,351.9 299.7,351.9 299.0,352.8 296.2,352.5 295.9,351.9M170.1,349.1 173.3,349.1 173.6,351.3 171.1,351.6 170.1,349.1M653.8,437.6 655.7,440.1 656.6,443.3 654.7,440.4 653.8,437.6M658.8,446.4 659.8,447.3 658.8,447.6 658.8,446.4M1069.8,340.0 1071.7,340.3 1071.1,341.2 1069.8,340.0M976.0,392.4 977.6,393.3 976.3,394.6 976.0,392.4M74.1,302.3 76.6,302.0 75.4,303.5 74.1,302.3M77.6,303.2 78.9,303.2 78.2,304.5 77.6,303.2M104.1,196.2 107.3,195.9 106.0,198.1 104.1,196.2M122.8,201.2 124.7,200.9 123.7,203.4 122.8,201.2M185.0,209.7 187.8,210.0 185.6,212.5 185.0,209.7M162.9,216.3 167.0,215.6 166.4,218.2 163.2,217.8 162.9,216.3M135.1,267.1 137.9,266.2 137.6,267.8 135.1,267.1M526.2,286.6 528.4,286.3 527.4,287.2 526.2,286.6M530.9,309.2 532.8,307.3 531.5,308.6 530.9,309.2M460.1,396.8 464.2,397.7 463.3,400.9 461.1,398.4 460.1,396.8M420.0,349.1 421.3,349.7 420.7,355.0 419.7,353.8 420.0,349.1M423.5,368.8 424.1,369.5 423.8,370.1 423.5,368.8M251.3,409.7 252.3,410.3 252.0,411.5 251.3,409.7M264.3,427.2 264.9,428.2 264.3,428.8 264.3,427.2M588.7,251.7 594.4,248.9 597.6,248.6 591.9,250.8 588.7,251.7M599.8,248.0 602.9,246.4 601.3,247.7 599.8,248.0M617.8,234.5 620.6,232.3 620.0,233.9 617.8,234.5M197.0,207.5 200.2,206.5 200.8,208.4 197.0,209.1 197.0,207.5M1048.3,564.1 1053.1,564.1 1051.5,565.1 1048.3,564.1M1027.8,544.3 1029.7,546.9 1027.8,548.4 1026.9,545.9 1027.8,544.3M1092.6,173.9 1100.5,172.9 1097.3,170.8 1091.0,171.7 1092.6,173.9M907.8,148.1 917.2,148.5 915.7,146.6 909.4,146.6 907.8,148.1M909.4,145.6 918.8,145.6 915.7,144.1 909.4,145.6M887.2,154.1 895.1,154.4 892.0,152.9 887.2,154.1M926.7,161.6 934.6,160.7 931.5,159.8 926.7,161.6M1005.7,225.1 1011.1,224.7 1008.2,225.7 1005.7,225.1M1012.0,214.1 1015.8,215.0 1013.6,215.6 1012.0,214.1M1016.8,192.7 1020.9,193.4 1018.3,194.0 1016.8,192.7M1037.3,183.3 1045.2,182.4 1042.0,181.4 1037.3,183.3M1037.3,188.0 1042.0,187.1 1040.5,188.6 1037.3,188.0M939.4,214.1 944.1,210.0 940.9,209.4 939.4,214.1M946.6,229.1 949.8,225.7 948.8,225.1 946.6,229.1M983.6,236.0 986.7,234.5 985.2,233.5 983.6,236.0M942.5,193.7 947.3,192.7 944.1,192.1 942.5,193.7M958.3,190.2 966.2,189.9 961.5,189.3 958.3,190.2M773.5,204.7 778.3,203.7 776.7,205.0 773.5,204.7M993.1,353.8 996.2,356.3 995.0,354.1 993.1,353.8M1037.3,357.5 1039.8,360.1 1038.9,362.6 1036.7,360.7 1037.3,357.5M241.2,377.3 243.1,380.5 242.2,383.6 240.9,380.5 241.2,377.3M368.2,258.3 374.8,257.4 372.3,259.0 368.2,258.3M261.8,270.3 264.9,269.3 264.0,270.9 261.8,270.3M270.3,271.5 272.2,274.7 270.6,274.4 270.3,271.5M212.8,206.2 215.3,207.5 214.4,209.4 213.4,207.8 212.8,206.2M172.7,207.2 174.3,208.1 172.7,210.0 172.7,207.2M544.5,249.2 547.0,250.2 545.8,251.4 544.5,249.2M443.4,157.6 456.0,157.3 449.7,158.2 443.4,157.6M455.1,349.7 457.6,352.2 456.0,351.6 455.1,349.7M493.9,298.8 495.8,300.4 494.6,301.0 493.9,298.8M560.3,480.3 562.8,480.9 561.5,483.1 560.3,480.3M929.9,149.1 934.6,148.8 933.7,147.2 929.9,149.1M940.0,147.8 945.7,147.5 943.2,146.6 940.0,147.8M934.6,151.6 939.4,151.9 937.8,150.3 934.6,151.6M933.7,155.7 937.8,156.0 936.2,154.4 933.7,155.7M948.8,140.9 953.6,141.2 952.0,139.7 948.8,140.9M975.7,148.8 982.0,149.1 980.4,147.5 975.7,148.8M963.1,147.8 969.4,148.1 966.8,146.9 963.1,147.8M950.4,159.4 956.7,159.8 954.2,158.5 950.4,159.4M1048.3,201.5 1051.2,202.1 1049.9,200.9 1048.3,201.5M1057.8,198.1 1060.7,198.7 1059.4,197.4 1057.8,198.1M1011.1,195.9 1013.9,197.1 1013.0,195.6 1011.1,195.9M1027.8,178.6 1031.6,179.2 1030.0,178.0 1027.8,178.6M940.9,175.8 944.7,175.8 943.2,174.8 940.9,175.8M989.9,178.0 993.1,178.3 992.1,177.0 989.9,178.0M1034.1,135.3 1043.6,134.3 1038.9,134.2 1034.1,135.3M1002.5,145.0 1012.0,145.6 1016.8,144.1 1008.9,143.4 1002.5,145.0M1005.7,138.7 1018.3,139.7 1024.7,137.8 1012.0,137.2 1005.7,138.7M1040.5,170.8 1035.7,172.3 1038.9,172.9 1043.6,171.7M1010.4,164.5 1005.7,166.7 997.8,166.7 993.1,165.4 999.4,164.2M923.6,165.4 922.0,168.6 926.7,167.6 925.1,163.8M910.9,155.4 915.7,154.1 920.4,155.1M1176.3,170.4 1184.2,169.8 1177.9,168.6 1185.8,167.0 1174.7,166.0M1103.6,174.2 1105.8,172.3 1102.1,170.1 1097.3,168.6M62.7,152.9 56.4,151.3 59.6,149.7 67.5,148.1M1040.5,148.1 1053.1,147.8 1056.2,145.6 1046.8,144.7 1037.3,145.3"/></g>
<line x1="625.0" x2="625.0" y1="108.9" y2="674.0" stroke="#f01414" stroke-width="3.2" shape-rendering="crispEdges"/>
<g fill="#000" stroke="#000" stroke-width="0.66" font-size="16.7" lengthAdjust="spacingAndGlyphs">
<text x="688.07" y="353.94" textLength="21.7" lengthAdjust="spacingAndGlyphs">15</text>
<text x="688.07" y="330.22" textLength="21.7" lengthAdjust="spacingAndGlyphs">20</text>
<text x="688.07" y="310.03" textLength="21.7" lengthAdjust="spacingAndGlyphs">25</text>
<text x="688.07" y="291.09" textLength="21.7" lengthAdjust="spacingAndGlyphs">30</text>
<text x="688.07" y="272.97" textLength="21.7" lengthAdjust="spacingAndGlyphs">35</text>
<text x="688.07" y="255.55" textLength="21.7" lengthAdjust="spacingAndGlyphs">40</text>
<text x="688.07" y="238.77" textLength="21.7" lengthAdjust="spacingAndGlyphs">45</text>
<text x="688.07" y="222.57" textLength="21.7" lengthAdjust="spacingAndGlyphs">50</text>
<text x="688.07" y="206.85" textLength="21.7" lengthAdjust="spacingAndGlyphs">55</text>
<text x="688.07" y="191.47" textLength="21.7" lengthAdjust="spacingAndGlyphs">60</text>
<text x="688.07" y="176.27" textLength="21.7" lengthAdjust="spacingAndGlyphs">65</text>
<text x="688.07" y="161.05" textLength="21.7" lengthAdjust="spacingAndGlyphs">70</text>
<text x="688.07" y="145.41" textLength="21.7" lengthAdjust="spacingAndGlyphs">75</text>
<text x="688.07" y="128.22" textLength="21.7" lengthAdjust="spacingAndGlyphs">80</text>
<text x="681.56" y="408.53" textLength="28.2" lengthAdjust="spacingAndGlyphs">-15</text>
<text x="681.56" y="430.10" textLength="28.2" lengthAdjust="spacingAndGlyphs">-20</text>
<text x="681.56" y="447.95" textLength="28.2" lengthAdjust="spacingAndGlyphs">-25</text>
<text x="681.56" y="464.60" textLength="28.2" lengthAdjust="spacingAndGlyphs">-30</text>
<text x="681.56" y="480.73" textLength="28.2" lengthAdjust="spacingAndGlyphs">-35</text>
<text x="681.56" y="496.64" textLength="28.2" lengthAdjust="spacingAndGlyphs">-40</text>
<text x="681.56" y="512.50" textLength="28.2" lengthAdjust="spacingAndGlyphs">-45</text>
<text x="681.56" y="528.41" textLength="28.2" lengthAdjust="spacingAndGlyphs">-50</text>
<text x="681.56" y="544.47" textLength="28.2" lengthAdjust="spacingAndGlyphs">-55</text>
<text x="681.56" y="560.82" textLength="28.2" lengthAdjust="spacingAndGlyphs">-60</text>
<text x="681.56" y="577.71" textLength="28.2" lengthAdjust="spacingAndGlyphs">-65</text>
<text x="681.56" y="595.80" textLength="28.2" lengthAdjust="spacingAndGlyphs">-70</text>
<text x="681.56" y="617.52" textLength="28.2" lengthAdjust="spacingAndGlyphs">-75</text>
</g>
</g>
<g fill="none" stroke="#000" stroke-width="1" shape-rendering="crispEdges">
<rect x="46.5" y="97.5" width="1141.0" height="588.0"/>
<rect x="53.5" y="103.5" width="1127.0" height="576.0"/>
</g>
<rect x="127.5" y="97.5" width="142.2" height="6.0" fill="#000"/>
<rect x="127.5" y="679.5" width="142.2" height="6.0" fill="#000"/>
<rect x="411.8" y="97.5" width="142.2" height="6.0" fill="#000"/>
<rect x="411.8" y="679.5" width="142.2" height="6.0" fill="#000"/>
<rect x="838.3" y="97.5" width="142.2" height="6.0" fill="#000"/>
<rect x="838.3" y="679.5" width="142.2" height="6.0" fill="#000"/>
<rect x="1122.6" y="97.5" width="58.4" height="6.0" fill="#000"/>
<rect x="1122.6" y="679.5" width="58.4" height="6.0" fill="#000"/>
<rect x="46.5" y="103.0" width="7.0" height="5.9" fill="#000"/>
<rect x="1180.5" y="103.0" width="7.0" height="5.9" fill="#000"/>
<rect x="46.5" y="203.1" width="7.0" height="94.2" fill="#000"/>
<rect x="1180.5" y="203.1" width="7.0" height="94.2" fill="#000"/>
<rect x="46.5" y="391.4" width="7.0" height="94.2" fill="#000"/>
<rect x="1180.5" y="391.4" width="7.0" height="94.2" fill="#000"/>
<rect x="46.5" y="579.8" width="7.0" height="94.2" fill="#000"/>
<rect x="1180.5" y="579.8" width="7.0" height="94.2" fill="#000"/>
<defs><linearGradient id="cb" x1="0" x2="1" y1="0" y2="0"><stop offset="0" stop-color="#000000"/><stop offset="0.1" stop-color="#5a008c"/><stop offset="0.225" stop-color="#0000ff"/><stop offset="0.4" stop-color="#00ffff"/><stop offset="0.575" stop-color="#00ff00"/><stop offset="0.75" stop-color="#ffff00"/><stop offset="0.93" stop-color="#ff0000"/><stop offset="1" stop-color="#ff0000"/></linearGradient></defs>
<rect x="118.0" y="933.5" width="999.5" height="42.5" fill="url(#cb)" stroke="#000" stroke-width="1.3"/>
<line x1="217.9" x2="217.9" y1="976.0" y2="971.0" stroke="#000" stroke-width="1"/>
<line x1="317.9" x2="317.9" y1="976.0" y2="966.0" stroke="#000" stroke-width="1"/>
<line x1="417.9" x2="417.9" y1="976.0" y2="971.0" stroke="#000" stroke-width="1"/>
<line x1="517.8" x2="517.8" y1="976.0" y2="966.0" stroke="#000" stroke-width="1"/>
<line x1="617.8" x2="617.8" y1="976.0" y2="971.0" stroke="#000" stroke-width="1"/>
<line x1="717.7" x2="717.7" y1="976.0" y2="966.0" stroke="#000" stroke-width="1"/>
<line x1="817.6" x2="817.6" y1="976.0" y2="971.0" stroke="#000" stroke-width="1"/>
<line x1="917.6" x2="917.6" y1="976.0" y2="966.0" stroke="#000" stroke-width="1"/>
<line x1="1017.5" x2="1017.5" y1="976.0" y2="971.0" stroke="#000" stroke-width="1"/>
<defs><filter id="gs" x="-5%" y="-20%" width="110%" height="140%" color-interpolation-filters="sRGB"><feColorMatrix type="saturate" values="0"/></filter></defs><g filter="url(#gs)">
<text x="118.4" y="1021.5" font-size="38.5" text-anchor="middle" stroke="#000" stroke-width="0.96" >0.0</text>
<text x="318.3" y="1021.5" font-size="38.5" text-anchor="middle" stroke="#000" stroke-width="0.96" >0.2</text>
<text x="518.2" y="1021.5" font-size="38.5" text-anchor="middle" stroke="#000" stroke-width="0.96" >0.4</text>
<text x="718.1" y="1021.5" font-size="38.5" text-anchor="middle" stroke="#000" stroke-width="0.96" >0.6</text>
<text x="918.0" y="1021.5" font-size="38.5" text-anchor="middle" stroke="#000" stroke-width="0.96" >0.8</text>
<text x="1117.9" y="1021.5" font-size="38.5" text-anchor="middle" stroke="#000" stroke-width="0.96" >1.0</text>
<text x="429.5" y="910.5" font-size="43.3" text-anchor="start" xml:space="preserve" stroke="#000" stroke-width="1.1" textLength="375" lengthAdjust="spacingAndGlyphs">ROTI  [10<tspan font-size="26.5" dy="-18">16</tspan><tspan dy="18">/m</tspan><tspan font-size="26.5" dy="-18">2</tspan><tspan dy="18">/min]</tspan></text>
</g>
</svg>
</body></html>
